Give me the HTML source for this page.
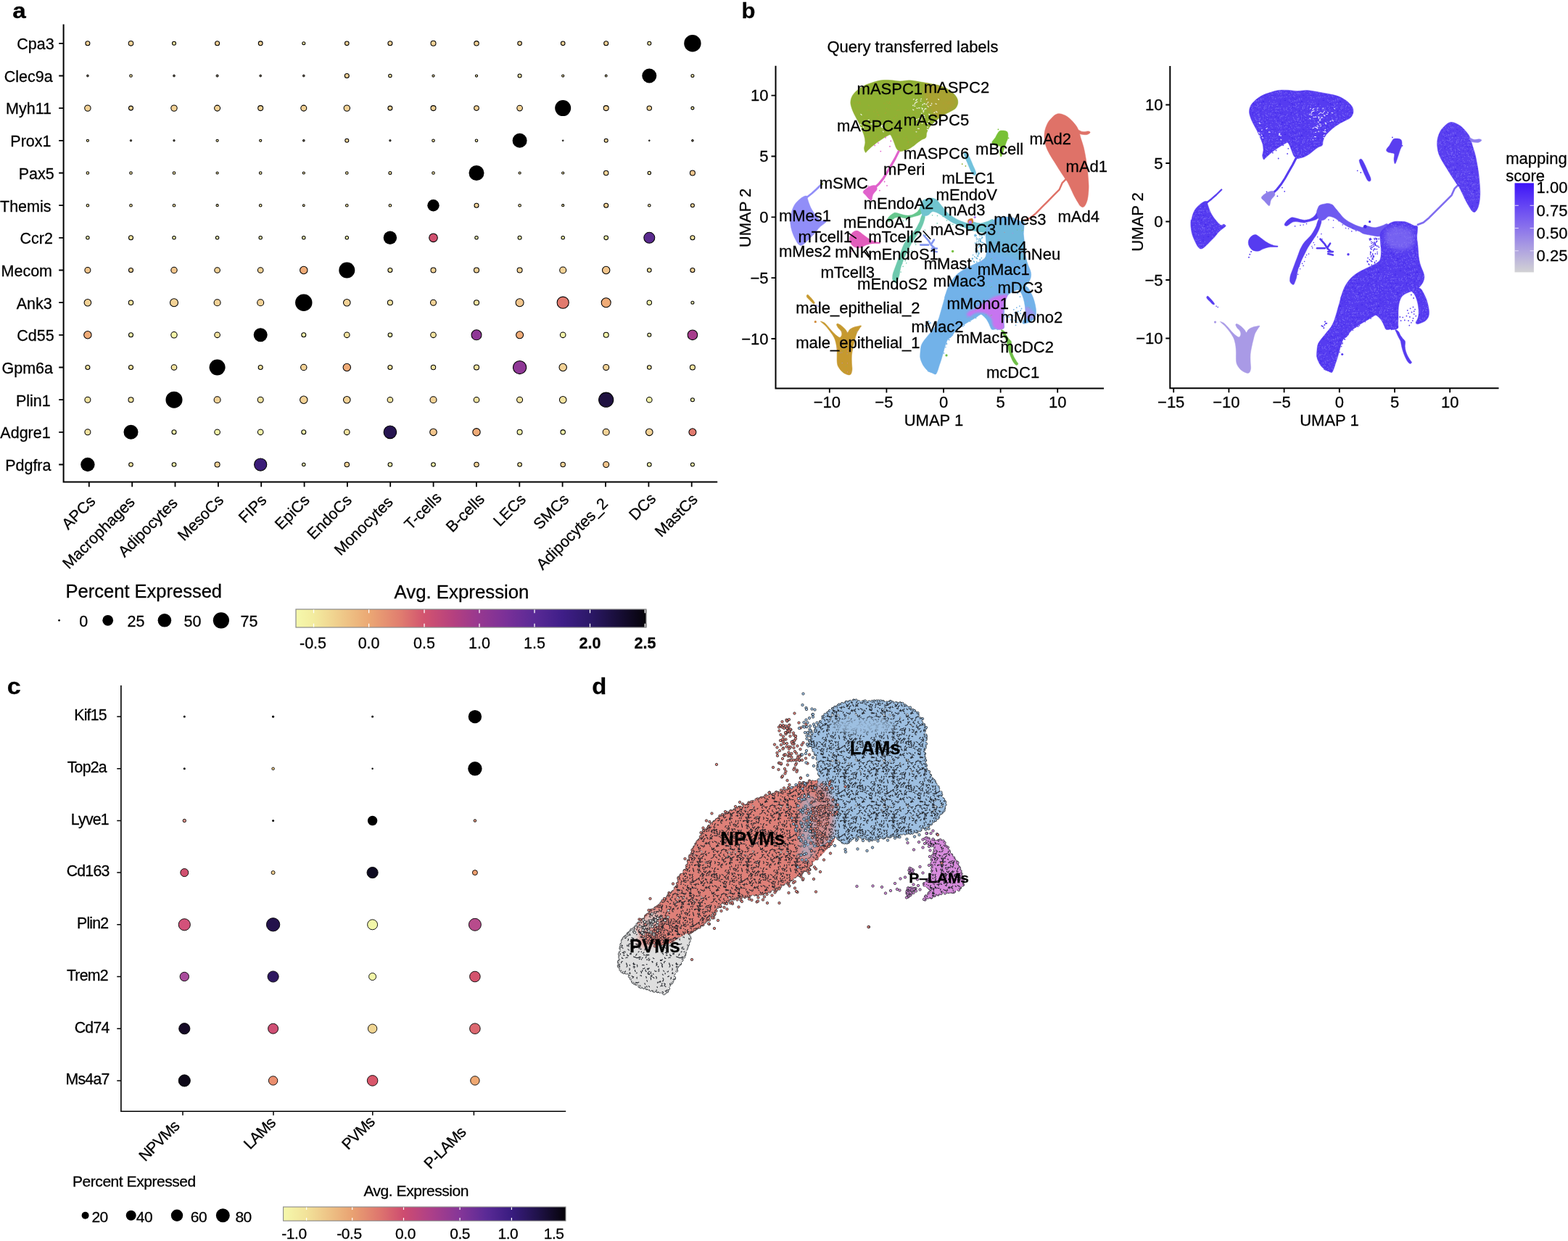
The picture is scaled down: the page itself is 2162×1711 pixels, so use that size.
<!DOCTYPE html>
<html lang="en"><head><meta charset="utf-8"><title>Figure</title>
<style>
html,body{margin:0;padding:0;background:#fff;}
body{width:2162px;height:1711px;overflow:hidden;}
svg{display:block;}
text{font-family:"Liberation Sans",sans-serif;fill:#000;stroke:#000;stroke-width:0.28px;}
.t21{font-size:21.5px;}
.t22{font-size:22px;}
.t25{font-size:25.8px;}
.t19c{font-size:21.3px;letter-spacing:-0.8px;}
.t20c{font-size:21px;letter-spacing:-0.45px;}
</style></head><body>
<svg width="2162" height="1711" viewBox="0 0 2162 1711">
<defs>

<linearGradient id="gradA" x1="0" x2="1" y1="0" y2="0">
<stop offset="0" stop-color="#F5F8AC"/><stop offset="0.05" stop-color="#F3EC9F"/><stop offset="0.208" stop-color="#EBA874"/>
<stop offset="0.30" stop-color="#E07C6F"/><stop offset="0.366" stop-color="#D2546F"/><stop offset="0.45" stop-color="#B5407F"/>
<stop offset="0.524" stop-color="#963890"/><stop offset="0.60" stop-color="#7A3098"/><stop offset="0.68" stop-color="#5A2A96"/>
<stop offset="0.76" stop-color="#3F1E88"/><stop offset="0.84" stop-color="#2C1868"/><stop offset="0.92" stop-color="#180E38"/><stop offset="1" stop-color="#050308"/>
</linearGradient>
<linearGradient id="gradC" x1="0" x2="1" y1="0" y2="0">
<stop offset="0" stop-color="#F5F8AC"/><stop offset="0.08" stop-color="#F2E39A"/><stop offset="0.244" stop-color="#E9A272"/>
<stop offset="0.34" stop-color="#DE766E"/><stop offset="0.426" stop-color="#CE4C70"/><stop offset="0.52" stop-color="#AE4088"/>
<stop offset="0.625" stop-color="#853698"/><stop offset="0.72" stop-color="#5A2A96"/><stop offset="0.808" stop-color="#391C80"/>
<stop offset="0.90" stop-color="#20124A"/><stop offset="1" stop-color="#050308"/>
</linearGradient>

<filter id="blur3" x="-20%" y="-20%" width="140%" height="140%"><feGaussianBlur stdDeviation="3"/></filter><filter id="blur2" x="-20%" y="-20%" width="140%" height="140%"><feGaussianBlur stdDeviation="1.6"/></filter><pattern id="spkBlue" width="53" height="47" patternUnits="userSpaceOnUse"><path d="M12.6 25.6h0M19.6 28.4h0M33.2 3.1h0M0.7 39.4h0M13.7 11h0M52.8 22.1h0M44.3 22.4h0M33.9 7.1h0M33.6 40.8h0M27.7 34.8h0M35.6 3h0M40.2 27.8h0M16 1.5h0M45.9 22.2h0M38.1 41.3h0M37.8 43.3h0M20.9 37.6h0M23.6 44h0M46.6 4.6h0M7.2 10.2h0M51.2 20.5h0M33.2 14.1h0M26.9 18.1h0M18.6 27.5h0M31 42.5h0M36.1 43.7h0M45.4 46.6h0M35.6 7.7h0M45.6 45.3h0M47.9 26.7h0M37.8 9.9h0M44.1 27h0M15.1 3h0M45.3 46.5h0M4.7 37.6h0M21.8 7.1h0M15.6 36.1h0M46.3 2.1h0M32.6 2.1h0M38.1 15.6h0M46.7 46.1h0M26.8 46.9h0M16.4 3.6h0M31.8 1.5h0M10.5 19.2h0M32.4 7.3h0M2.2 40.8h0M16.6 45.1h0M47.5 17.8h0M24.4 24.4h0M34.1 28h0M29.6 29.1h0M49.9 23.8h0M22.9 33.9h0M12.6 14.2h0M51.8 24.5h0M29.1 0.5h0M22 27.3h0M1.1 28.9h0M33.5 2.8h0M33.2 21.9h0M36 16.6h0M37.5 34.7h0M1.2 2.8h0M35.8 45.3h0M13.3 21.4h0M31.4 15h0M19.3 14.7h0M19.6 28h0M15.9 17.7h0M40.9 1.3h0M30.2 34.6h0M16.4 10.5h0M42.6 11.2h0M9.9 20.5h0M37 4.8h0M17.1 15.7h0M44.2 20.6h0M45.3 8h0M17.8 30.6h0M46.9 21.2h0M11.9 5.7h0M28.1 9h0M42.8 39.4h0M9.7 13.1h0M42.8 30.2h0M42.7 16.2h0M6.9 13.7h0M42.1 12.7h0M18.4 19.6h0M22.2 19.2h0M48.8 7.3h0M0.2 44.3h0M46.6 46.4h0M23 44.7h0M49.2 10.4h0M39.5 39.3h0M35.1 24.4h0M15.3 16h0M12.1 3.2h0M31.2 13.5h0M42.9 2.1h0M47.9 32.6h0M49 42.1h0M47.7 27.1h0M0.7 35h0M9.1 14.1h0M35.1 24.7h0M21.9 44.1h0M32.4 16h0M13.4 40.5h0M25.3 36.8h0M18.6 9.3h0M28.3 38.4h0M9.1 37.2h0M48.9 37.9h0M43.6 0.4h0M33.3 40.5h0M2.6 12.8h0M14.2 24.8h0M22.4 22.2h0M41.2 0.1h0M2.9 6h0M6.6 3.2h0M51.7 40.2h0M4.6 23.6h0M16.7 14.8h0M18.6 30.4h0M31.1 17h0M10.1 15.5h0M6.6 26.1h0M38 17.9h0M4.2 8.4h0M19.8 28.4h0M41.5 17.9h0M42.5 29.3h0M22.9 17.5h0M26.3 33h0M22.3 32.6h0M24.4 11.5h0M28.4 32.7h0M3.8 20h0M22.6 41.3h0M49.6 17.6h0M47.6 37.2h0M13.9 21.8h0M6.5 38.2h0M35.1 41.7h0M42 31.4h0M38.9 26.5h0" stroke="#3014E8" stroke-width="1.3" stroke-linecap="round" fill="none" opacity="0.55"/><path d="M5.5 27.6h0M0.3 6.7h0M41 2.1h0M4.9 4.7h0M46.7 8.4h0M1.2 39.6h0M6.4 39.7h0M35.7 39.3h0M50.5 27.2h0M42.3 1.7h0M40.7 24h0M37.9 5h0M39.7 43.9h0M3.2 15.2h0M29.9 38.9h0M12.8 8.4h0M13.2 29h0M39.9 18.5h0M19.5 18.6h0M18.6 19.7h0M4.4 23.5h0M51.6 19.4h0M39.6 7.5h0M36.6 35.5h0M35.7 24.3h0M25.6 30.2h0M47.6 7h0M5.1 35.2h0M48.6 24.3h0M23.5 33.8h0M9.9 12.6h0M10.6 27.5h0M16.7 10.9h0M36.6 44.8h0M15.7 33.2h0M21.9 40.1h0M31 12.6h0M11.5 1.1h0M25.4 18h0M9.1 16.9h0M17.1 36.4h0M7.6 46.6h0M25.4 28.2h0M24.8 39.2h0M43.5 26.2h0M25.5 33.9h0M45.4 18.8h0M38.9 45.1h0M24.8 10.8h0M12.4 33.7h0M35.8 45.1h0M45.3 11.4h0M10.1 12.2h0M9.9 33.1h0M45.5 42.3h0M13.5 40.7h0M16.6 19.9h0M38.6 4h0M4.9 39.2h0M15.5 16.8h0M30.8 31.7h0M0.4 15.7h0M23.1 22.8h0M11.1 27.5h0M50.6 18.4h0M28.9 5.6h0M14.6 31.3h0M6 41.7h0M48.2 4.6h0M49.9 17.6h0M40.9 35.6h0M15.7 31.8h0M34.7 37.9h0M14.1 35.4h0M51 31.6h0M28.4 5.3h0M26.2 16.6h0M38.1 31.9h0M30 8.6h0M34.2 29.7h0M9.5 41.8h0M34.7 5.8h0M49.4 6.6h0M17.6 33.9h0M31.7 26.1h0M34.3 21.5h0M16.6 8.3h0M3.6 33.6h0M40 25.5h0M39.2 16.9h0M14.1 18h0M46.2 2h0M26.7 11.6h0M40.8 16.6h0M17.6 19h0M28.7 36.3h0M18.7 39.8h0M5.9 12.7h0M5.3 5.3h0M41.3 34.2h0M9.8 8.9h0M22.1 34.9h0M43.2 35.2h0M31.4 6.9h0M21.1 9.1h0M28 26.7h0M10.7 11.8h0M41.4 1.4h0M42.6 41.9h0M50.3 18h0M29.3 27.4h0M33.6 45.9h0M36.4 14.1h0M45.6 22.8h0M31.9 34.2h0M0.1 36.2h0M35.1 23.1h0M27.8 21.6h0M10.3 24.9h0M2 23.5h0M34.2 20.9h0M30 45.1h0M47.3 6.4h0M42 29.3h0M2.7 16.9h0M12.4 3.7h0M28.6 43.7h0M17.1 40.9h0M36.8 6.3h0M45.5 28.3h0M49.1 33.6h0M39.2 16.1h0M42.8 43.8h0M45.7 20.5h0M40.1 22.8h0M5.8 2h0M4.1 9.4h0M8.5 23.4h0M37.1 25.3h0M22.4 30.5h0M16.1 21.8h0M40.1 18.9h0M9.6 42.3h0M38.1 17.2h0M19.7 24.9h0M31.6 10.5h0M0.1 9.8h0M41.5 6.7h0M24.4 9.2h0M11.1 8h0M21.4 7.9h0M1.5 5.2h0M8.9 23h0M3.2 1.1h0M23.7 19.2h0M37.3 2.4h0M21.4 18.6h0M1.4 45.4h0M11.6 4.4h0M25.2 7.7h0M33 16.3h0M6.6 2.4h0M38.6 12.9h0M41.8 21.9h0M49.4 14.1h0M13.2 12.5h0M43.2 29.6h0M18.3 4.4h0M36.2 45.6h0M31.4 0.2h0M1.6 4.3h0M9 1.7h0M2.9 30.8h0M47.7 9.4h0M51.6 22.4h0M42.6 43.1h0M49.8 1.6h0M16.2 28.5h0M50.2 4.1h0M15.6 39.9h0M6.1 18.3h0M17.7 32h0M49.2 8.2h0M39.2 34.5h0M44.3 26h0M48.9 17.1h0M22 10.8h0M41.3 22.6h0M14.3 8h0M38.2 28.5h0" stroke="#8C7CF8" stroke-width="1.4" stroke-linecap="round" fill="none" opacity="0.65"/></pattern><pattern id="spkOr" width="41" height="37" patternUnits="userSpaceOnUse"><path d="M9.7 3.8h0M16.2 5.7h0M2.7 14.9h0M37.6 29.6h0M31.4 8.2h0M22 10.2h0M7.1 3.9h0M8.8 34.3h0M34 29.8h0M32.8 7.2h0M12.7 23.2h0M30 31.6h0M36.1 3.2h0M24.8 24.9h0M20.7 6.6h0M19.4 3.3h0M38.3 32h0M22.5 11.1h0M37.3 21.2h0M36.2 31.4h0M20.8 15.3h0M24.6 15.9h0M6.6 11.3h0M33.3 1.6h0M1.9 23.2h0M11.5 19.8h0" stroke="#D08A30" stroke-width="1.1" stroke-linecap="round" fill="none" opacity="0.55"/></pattern><pattern id="spkMac" width="43" height="39" patternUnits="userSpaceOnUse"><path d="M26.8 28.9h0M34.2 36.8h0M31.8 36h0M1.2 18.2h0M40.6 25.3h0M38.7 4.4h0M20.2 9.6h0M23.4 22.4h0M0.6 8.5h0M12 35.7h0" stroke="#D070E0" stroke-width="1.1" stroke-linecap="round" fill="none" opacity="0.7"/><path d="M32.9 6.2h0M34.3 5.4h0M26.6 4.9h0M0.1 34h0" stroke="#70C060" stroke-width="1.1" stroke-linecap="round" fill="none" opacity="0.7"/><path d="M9 8.4h0M42.2 34h0M12.4 37.5h0" stroke="#E08070" stroke-width="1.1" stroke-linecap="round" fill="none" opacity="0.7"/></pattern><pattern id="spkEpi" width="23" height="29" patternUnits="userSpaceOnUse"><path d="M18.2 23.8h0M11.2 7.6h0M0 19.2h0M10.8 22h0M8.6 22.3h0" stroke="#9C90F0" stroke-width="1.1" stroke-linecap="round" fill="none" opacity="0.8"/><path d="M6.3 23.3h0M16.8 12h0M12.4 19.8h0" stroke="#70C060" stroke-width="1.1" stroke-linecap="round" fill="none" opacity="0.8"/><path d="M4.4 16.1h0M18.5 7.7h0M18.5 19.9h0" stroke="#E080C0" stroke-width="1.1" stroke-linecap="round" fill="none" opacity="0.8"/></pattern><clipPath id="clipEpiL"><path d="M1131.3 443.1C1131.1 442.5 1134.9 443.8 1136.7 445C1138.4 446.3 1140.2 448.5 1142 450.4C1143.8 452.4 1145.6 454.7 1147.4 456.7C1149.1 458.6 1150.9 460.6 1152.7 462.1C1154.5 463.5 1156.7 465.4 1158.1 465.3C1159.4 465.2 1160.5 462.8 1160.7 461.3C1161 459.7 1160.3 457.6 1159.4 456.1C1158.6 454.6 1156.6 453.5 1155.7 452.1C1154.7 450.6 1153.5 448.4 1153.5 447.5C1153.5 446.5 1154.5 446.1 1155.7 446.4C1156.9 446.7 1159 448 1160.7 449.4C1162.5 450.8 1164.8 453.2 1166.1 454.8C1167.4 456.3 1167.9 458.6 1168.8 458.5C1169.7 458.5 1170.1 455.7 1171.4 454.5C1172.8 453.3 1175 452 1176.8 451.3C1178.6 450.5 1180.4 450.3 1182.2 449.9C1183.9 449.5 1187 448.5 1187.5 449.1C1188 449.6 1186.2 451.3 1185.1 453.1C1184 454.9 1182.2 457.2 1181.1 459.9C1180 462.6 1179.2 466.2 1178.4 469.4C1177.6 472.5 1176.9 475.4 1176.3 478.8C1175.6 482.2 1174.7 486 1174.4 489.6C1174.1 493.2 1174.3 497.1 1174.4 500.4C1174.5 503.8 1175.2 507.3 1174.9 509.9C1174.7 512.5 1174 514.7 1173.1 515.9C1172.1 517 1170.8 517.1 1169 516.7C1167.3 516.3 1164.4 515 1162.3 513.4C1160.3 511.9 1158.3 509.6 1157 507.5C1155.7 505.3 1154.8 504.3 1154.3 500.4C1153.8 496.6 1154.3 488.7 1154.1 484.2C1153.8 479.7 1153.4 476.6 1152.7 473.4C1152 470.3 1151.4 468 1150 465.3C1148.7 462.6 1146.7 459.9 1144.7 457.2C1142.7 454.5 1140.2 451.4 1138 449.1C1135.8 446.7 1131.5 443.8 1131.3 443.1Z"/></clipPath><linearGradient id="gradM" x1="0" x2="0" y1="0" y2="1"><stop offset="0" stop-color="#3D14F8"/><stop offset="0.25" stop-color="#6444F4"/><stop offset="0.5" stop-color="#8A72EC"/><stop offset="0.75" stop-color="#AFA3E0"/><stop offset="1" stop-color="#D2D2D4"/></linearGradient>
<marker id="mL" markerWidth="9" markerHeight="9" refX="4.5" refY="4.5" markerUnits="userSpaceOnUse" overflow="visible"><circle cx="4.5" cy="4.5" r="3.45" fill="#9DBFE1" stroke="#1d2126" stroke-width="1.45"/></marker><marker id="mN" markerWidth="9" markerHeight="9" refX="4.5" refY="4.5" markerUnits="userSpaceOnUse" overflow="visible"><circle cx="4.5" cy="4.5" r="3.45" fill="#DF8078" stroke="#1d2126" stroke-width="1.45"/></marker><marker id="mP" markerWidth="9" markerHeight="9" refX="4.5" refY="4.5" markerUnits="userSpaceOnUse" overflow="visible"><circle cx="4.5" cy="4.5" r="3.45" fill="#DEDEDE" stroke="#1d2126" stroke-width="1.45"/></marker><marker id="mV" markerWidth="9" markerHeight="9" refX="4.5" refY="4.5" markerUnits="userSpaceOnUse" overflow="visible"><circle cx="4.5" cy="4.5" r="3.45" fill="#D88CDD" stroke="#1d2126" stroke-width="1.45"/></marker><pattern id="arcD" width="67" height="61" patternUnits="userSpaceOnUse"><path d="M30.3 34.1Q31.6 34.3 32.2 33.2M34.3 38.4Q34.1 37.7 34.6 37.2M36.1 54.3Q34.2 54.4 34.5 52.5M43.8 37.5Q43.9 38.1 44.4 38.4M12.7 14.8Q14 14 14.8 15.2M13.1 14.3Q12.5 14.6 12.8 15.2M18.6 60.9Q20.1 59.7 21.7 60.8M15.4 17.6Q17 17.5 18 18.8M19.5 4.1Q20.7 5.1 22.1 4.4M61 28.7Q62.1 29.4 62.9 28.4M13.3 41.2Q12 41.4 12.4 42.7M50.8 7.2Q50.3 7.8 50.8 8.4M32.6 41.6Q32.2 43 33.5 43.7M25.7 24.1Q26.2 23.5 26.7 24M1.3 11.4Q2.6 12 3.8 11.4M9.8 26.9Q11.1 26.1 12.3 27.1M5 12.7Q4.3 12.6 4.3 11.9M30.4 58.5Q29.3 59.4 28 58.8M10.3 55.4Q11.1 54.9 11 54M42.1 33.8Q40.9 33.2 41.4 32M28.2 6.3Q29.4 8.4 31.5 7.1M26.2 25.7Q27.8 26.1 28 24.4M65.5 7.7Q64.1 7 62.9 8M61.5 12.4Q62.3 12 63.1 12.6M3.1 17.2Q1.7 15.6 -0.2 16.6M59.7 59.8Q60 58 58.2 57.6M61.9 29Q61 29.4 60.8 30.3M42.6 29.4Q43 28.5 42.4 27.7M36.6 45Q38.6 45.3 38.8 43.3M61.3 21.5Q59 20.7 60.1 18.6M2 30.5Q3.4 29.4 4.6 30.7M40.8 4.9Q38.4 4.7 38.6 2.3M26 44.8Q25.6 43.6 24.2 43.8M34.5 18.9Q34.7 19.6 35.4 19.5M41.2 56.1Q41.5 56.7 41.1 57.2M41 31.6Q40.2 30.7 41 29.8M16.2 24.7Q14.8 25.9 16.2 27.2M25.8 35.6Q25.9 36.4 25.2 36.8M60 2.5Q61.2 4 63.1 3.8M31.6 56.5Q31.2 55.2 32.5 54.8M48 51.4Q47.8 50.3 46.7 50.1M40.7 41.4Q39.7 42.1 40.3 43.2M27.1 11.6Q28.1 10.9 27.3 10M65.9 7Q67.7 6.7 67.7 8.5M45.9 12.2Q45 11.5 44.4 12.4M35.8 2.2Q34.9 3.8 36.3 5M53.1 55.3Q54.9 55.3 55.8 57M30.4 38.2Q30.8 37 32 37.1M43.6 12.5Q44.3 10.9 43.1 9.6M60.3 59.8Q61.3 58.9 62.6 59.5M48.1 1Q47.6 1.4 47 0.9M51.5 29.7Q52.7 31.2 54.4 30.3M2.4 32.5Q0.8 31.4 1.1 29.6M34.6 44.1Q34.3 42.4 36 41.9M46.2 46.2Q44.7 45.7 44 47.1M56.5 34.2Q55.5 34.8 55.8 35.9M9.5 33.2Q10.2 34.5 9.1 35.4M33.7 36.9Q35.6 35.8 37 37.5M66.3 7.4Q67.2 7.4 67.5 8.2M64.1 56.3Q63.2 57.3 63.9 58.4M60.4 57.1Q61.7 57.2 62.3 56M41.4 56.4Q41.8 58 43.4 58.5M10.4 0.7Q8.9 1.8 9.8 3.4M7 44.6Q8.6 44.6 8.6 46.1M47 53.6Q48.1 54.9 49.5 54M57.9 32.6Q57.5 33.4 58.2 34.1M49.6 49.4Q49.8 48.1 51.1 48.4M13 47.5Q12.9 48.2 13.5 48.6M5.9 23.7Q4 23.4 2.9 25M42.1 48.7Q43.8 48.3 44 50.1M64.9 7Q63.5 5.5 62.1 6.9M32.3 1.5Q31.6 0.2 32.5 -1M12.4 12.4Q14.6 11.8 14.2 9.6M9 41.5Q9.8 41.4 10.1 42.1M34.5 26.2Q34.4 25.5 33.7 25.6M12.1 27.7Q13 26.6 12 25.7M6.4 48.3Q6.6 49.1 5.8 49.4M12.8 35.7Q13.4 37.7 11.3 38M49.9 47.5Q49.3 46.1 50.7 45.6M46.6 46.8Q47.2 45.9 46.7 44.8M22.9 28.6Q23.8 29.3 24.7 28.7M63.3 40.6Q61.7 41.1 61.9 42.8M26.1 61Q24 60.9 24.4 58.9M1.5 37.5Q0.8 36.8 1.4 35.9M51 39.5Q51.9 38.7 52.6 39.6M36.9 31Q38.2 31.8 39.2 30.5M54.2 4.6Q53.7 2.9 51.9 3M62.9 23.5Q64.6 24.5 65.9 23M33.1 17.4Q32.9 18.5 31.7 18.4M18.1 56.7Q18 55.1 16.6 54.3M16.4 2.6Q17.8 3.4 18 4.9M21.1 24.3Q19.6 24.2 18.7 22.9M60.7 26.2Q58.9 25.6 57.4 26.7M6.6 49.4Q7.5 49.6 7.7 48.7M7.7 38.1Q6.8 37.7 6.3 38.5M10.4 22.2Q11.7 22.3 11.6 23.7M45.7 22.2Q47.4 20.7 45.6 19.3M49.2 14.5Q51.1 14.8 51.6 16.6M40.9 44.2Q39.9 43.8 40.4 42.8M12.7 15.2Q14.5 16.5 15.9 14.8M0.6 15.8Q1.1 16.4 1.7 16M4.9 5.3Q3.5 4.7 3.8 3.2M23.7 20.6Q23 20 22.4 20.7M30 50.1Q29.8 48.3 31.5 47.7M17.3 49.4Q17.1 51 15.5 51.3M50.9 50.4Q50.4 52 51.9 52.7M21.7 33.2Q21 34.4 19.6 34.1M52 4.6Q51 6.2 52.6 7.2M33.1 46.6Q31.4 47.4 31.7 49.4M48.6 22.4Q50.4 22.5 50.6 24.2M53.8 18.6Q52.9 19.3 53 20.4M55.5 1.5Q56.1 -0.1 54.4 -0.7M24.7 23.8Q24.7 25.2 26 25.8M50.8 53.7Q50.3 54.2 50.6 54.8M38 59Q38.2 57 36.3 56.6M20.5 33.3Q19.2 33.5 19.6 34.7M5.7 38.7Q7.3 39.2 7.4 40.9M14.8 46.7Q13.2 47.5 12 46.3M54.1 20.3Q54 21.8 55.5 22M61.3 25Q63.1 24.5 62.5 22.7M55.9 54.2Q56.8 52.7 58.3 53.5M53.8 25.7Q52.8 25.3 52.6 26.4M25.2 10.2Q26.1 11 25.7 12.2M59.4 28.8Q60.2 27.8 59.2 27M12 3.8Q10.6 3.3 9.7 4.4M13.2 21.9Q11.6 22.2 11.2 20.6M15 11.3Q15.5 12.1 14.7 12.7M63.1 33.6Q62.8 32 64.4 31.9M22.9 33.4Q24.2 33.9 25 32.8M14.6 8.2Q13.4 6.1 15.6 5M3.9 56.4Q4.3 54.4 6.3 54.4M16.5 25.7Q16.8 24.6 17.9 24.3M60.8 49.4Q62.7 49.6 62.7 51.5M3.5 34.9Q3.2 35.9 4.2 36.2M5.5 16.5Q4.8 16 5.3 15.3M5.6 45.7Q4.8 44.2 3.4 45.1M27.9 55.9Q28.8 57.4 30.4 57.5M27.7 30.1Q28.9 28.5 30.8 29.1M5.1 18.6Q3.9 19.7 2.4 19.2M9.4 40.7Q10 38.9 8.2 38.2M0.8 23Q1.3 22.1 0.4 21.5M0.7 60.5Q1.4 59.9 1.2 59.1M25.2 32.9Q25.7 34 24.7 34.7M5.8 11.5Q5.9 12.5 4.9 12.4M37.7 44.2Q36.2 45 36.2 46.8M41.7 8Q41.6 7.1 40.7 7M56.1 36.2Q56.2 37.3 57.4 37M29.1 47Q27.1 47.5 27.4 49.5M51.4 50.1Q51.3 51.3 50 51.3M48.7 37.4Q46.8 38.1 47.5 40M40.8 1.1Q40.8 2.2 39.9 2.7M25.3 31.1Q26.6 29.9 26 28.2M36.1 18.2Q35.1 19.5 36.4 20.7M13.3 56.9Q14.6 58.1 16 56.9M1.8 40.2Q1.3 39.5 2 38.9M46.7 20.1Q47.1 18.7 48.4 19.3M30.3 44.5Q29.3 45.8 30.5 46.9M17.7 55.5Q19.2 56.3 20.7 55.3M55.3 17.6Q55.4 16.4 56.5 16.7M12.4 33.4Q12.7 34.2 13.4 33.9M62.3 60.9Q64.2 61.2 64.1 63.1M42.9 46.6Q42.9 47.7 44 48.2M25.9 34.7Q27.1 35.4 26.9 36.7M62.4 3.3Q63.8 2.2 63 0.6M33.3 6.3Q33.8 8.5 31.6 8.9M32.5 60.7Q32 58.5 34.2 58.1M7.9 7Q8.4 6 9.5 6.3M1.6 55.3Q2.5 56.9 0.9 57.7M40 45.9Q38.9 46.7 39.2 48.1M56.6 14.8Q56.6 12.4 58.9 12.4M35.3 14.6Q33.9 15.1 34.6 16.4M67 44.6Q67 43.3 68.3 43.2M11 39.6Q10.3 39.6 9.9 40.2M53.1 7.6Q51.8 6 49.9 6.8M48.8 1.5Q50.2 1.8 49.8 3.3M26.6 21.7Q26.4 21.1 25.7 21.2M21 19.8Q23.2 19.9 22.8 22M13.6 52.4Q12.8 52.1 13.2 51.3M23.7 28.8Q23.3 30.8 25.2 31.6M15.8 57.9Q16.9 56.5 18.4 57.5M21 54.9Q22.6 54.6 22.8 52.9M64.1 47.5Q63.7 48.2 62.9 48.2M46.3 16.4Q45 15.5 45.9 14.2M25 40.4Q26.8 40.6 26.8 38.8M60 11Q59.6 11.7 60.2 12.3M5.1 55.9Q5.9 58 8 57.4M19.1 15.3Q18.6 14.5 19.5 14.2M12.7 10.9Q13.3 10.3 12.6 9.9M2.3 28.2Q1.7 27.2 2.3 26.2M4.3 47.4Q4.5 46.1 5.8 46.4M34.6 30.8Q36.4 30.4 36.1 28.7M51.7 6.8Q51 8.6 49.3 7.9M53 14.4Q52.3 15 51.5 14.5M13.6 59.2Q14.3 60.3 15.5 59.9M40.8 37.1Q40 35.7 41.5 35M2.1 7Q1.6 8.6 3.2 9.3M3.6 25.9Q1.7 25.1 2.6 23.2M33.4 39.7Q32.5 39 31.5 39.5M46.3 50.7Q45.9 50 46.5 49.6M46.8 42.9Q47.5 43.1 48.1 42.6M30.5 45.4Q31.2 46.1 32 45.8M37.3 28.8Q39.3 29.2 40.3 27.5M8 52.2Q7.2 52.1 6.9 52.8M22.6 59.9Q21.8 59.9 21.7 59.2M66.6 45Q65.7 43.1 63.7 43.7M26.3 51.4Q24.5 51.6 24.2 53.4M16.5 48.4Q16.2 47.1 17.2 46.4M31.3 18.8Q29.1 17.6 28.1 19.9M13.7 23.4Q15.6 22.6 16.1 24.5M41.6 31.7Q42.3 30.5 41.5 29.4M24.2 9.4Q25.4 9.9 25.9 8.6M60.8 1.2Q59.4 1.6 59.9 3M25.6 15.6Q25.8 14 27.4 13.8M16 2.5Q16 3.9 17.4 4.5M27.5 29.2Q26.4 28.4 26.7 27.1M30.3 23Q30.6 21.1 32.5 20.9M25.9 52.8Q26.8 53.5 26.2 54.5M9.4 51.7Q10.5 50.6 9.4 49.6M65.4 18.2Q65.9 16.1 63.8 15.4M23.7 7.4Q23.3 6.4 24 5.6M28.7 23.9Q29.8 23.7 30.4 24.6M47.1 13.5Q48 13.7 48.4 12.8M47.7 31.7Q49 30.1 47.6 28.6M17.2 52Q17.5 53.9 16.1 55M60.9 55.7Q61.6 56.7 60.7 57.5M21.8 15.5Q22.8 14.8 23.6 15.7M17.5 40.8Q19.1 41.2 18.4 42.7M24.3 35.1Q26.1 35.9 27 34.1M27.5 25.3Q28.4 27 27 28.3M60.9 2.3Q62.4 2.5 62.4 4M31.7 1.3Q30.5 1.4 30.4 0.3M15.7 0.1Q15 -1 13.8 -0.5M56.9 46.7Q58.7 46.5 59.5 48.1M7 1.2Q6.5 0.2 7.5 -0.2M64.6 50.3Q66.4 50.6 65.9 52.4M19.7 25.3Q19.4 26.8 17.9 27.2M16.7 19.8Q16.1 21.4 17.7 21.8M66.3 49.9Q66.4 48.7 67.6 48.7M45.5 2.5Q44.4 2.2 44.1 1.1M17 31Q16.6 29.8 17.6 29.1M45.8 11.2Q46.7 11 46.7 10M28.2 43.1Q27.7 41.4 26 41M25.3 40.8Q24.7 41.6 25.4 42.3M46.5 48.2Q46.9 47.3 48 47.5M42.3 24.2Q44.3 24.5 45.4 22.8M66.8 53.1Q66.5 54.2 67.5 54.9M60.6 50.8Q61.4 50.6 61.5 49.7M53.6 51.2Q54.4 52.3 53.2 53.1M65.7 23.8Q66.2 22.3 64.9 21.6M55.9 33.9Q56.6 32.3 58.3 32M21.7 1.2Q20.9 1.3 20.5 0.6M15.2 29.4Q14.3 29.7 14.2 30.6M0.5 46.4Q-0.1 46.2 -0 45.5M66.8 12.3Q66.9 11 68.3 10.7M37.5 34Q38.6 35 38 36.4M62.9 52.7Q64 53.3 65 52.7M1.8 10.3Q2.4 10.5 2.7 11.1M37.2 3.8Q35.3 2.4 34.2 4.5M0.7 32.2Q0.2 30.4 1.8 29.5M53.8 50.5Q55.9 49 54.2 47.1M32.3 51.2Q30.5 51.4 29.6 53M9.4 19.7Q8.1 18.8 9.1 17.6M24.4 38.9Q24.5 40 23.4 40.2M17.7 13Q17.5 13.7 18.2 14M45.6 10.8Q46.4 10.9 46.6 11.6M1.5 24.4Q2 24.9 2.6 24.8M11.7 4.1Q10.2 4.2 9.7 2.8M64.5 13.4Q62.6 12.9 62.2 14.9M4.7 23.8Q5.4 21.9 7.4 22.3M0.7 44.5Q0.7 42.6 -1 41.8M41.3 54.1Q42.6 53.6 42.8 52.2M49.5 45.4Q48.9 46.6 47.5 46.2M25.2 33Q27 32.2 28.2 33.9M39.8 36.3Q40.2 35.5 41 35.7M17.2 38Q18.1 38.8 18 40M64.9 45.9Q65.8 46.1 65.9 45.2M43.5 57.2Q42.7 55.1 44.9 54.6M4.3 53.1Q3.5 52.5 4 51.5M35.9 52.8Q35.8 53.7 36.5 54.4M37.2 48Q36.4 48.9 35.6 48.1M51.6 33.5Q53.7 34 54.1 31.9M12 20.4Q14.2 21.3 14.9 18.9M7.9 11.1Q7.8 13.4 5.5 13M4.8 60.3Q4.1 61.8 5.5 62.7M66.6 23.1Q66 21.3 67.7 20.6M14 12.8Q13.7 12 14.1 11.4M18.6 15.8Q18.6 17.3 17.3 17.8M66.7 42.2Q65.6 41.3 66.5 40.3M13.4 4.4Q14 5.4 13.2 6.2M9 7.5Q10.3 7.6 10.8 8.8M38.8 17.4Q40 17.3 40 16.2M30.5 57Q28.7 57 28.4 58.8M4.3 25.6Q4.8 26.7 3.9 27.6M46.6 41Q45.7 42 46.6 43M58 23.7Q57.4 24.2 57.8 24.9M6.7 54.7Q7.7 54.8 8.3 55.7M39.5 42.5Q41.1 43.9 42.5 42.3M10.4 4.4Q11.9 4.9 11.5 6.4M40.6 59.2Q42 57.6 43.9 58.7M15.4 33Q16.2 33 16.3 33.7" stroke="#1c2026" stroke-width="1.1" stroke-linecap="round" fill="none" opacity="0.95"/></pattern><pattern id="arcS" width="59" height="53" patternUnits="userSpaceOnUse"><path d="M28 34.8Q28.3 33.9 27.4 33.7M28.5 34.1Q26.8 33.3 25.8 34.8M39 7.7Q38.3 7.6 37.8 8.2M48.3 4Q47.2 3.5 47.7 2.4M5.2 48.7Q6.2 47.9 6.1 46.6M58.2 50.2Q58.4 51.4 59.6 51.4M52 29.6Q53.6 30.5 54.8 29.2M4.9 32.2Q3.7 31.8 4 30.5M37.8 4.4Q39.2 5.2 38.7 6.8M21.4 36.6Q21.5 35.8 20.9 35.5M21.9 30.4Q21.2 29.6 22 29M25.4 27.5Q26.1 28.3 25.7 29.3M35.8 39.9Q36.2 40.4 36 41.1M16.3 18.2Q15.6 18.1 15.6 17.4M20 24.1Q21.1 22.3 19.2 21.6M9.9 49Q8.8 49 9 50M0.4 14.2Q1.4 13.5 0.6 12.5M29.6 13.1Q29.9 14 30.9 14.3M19 41.7Q20.6 41.3 20.1 39.7M29.6 26Q30 27.7 28.2 27.8M9.6 15.4Q9.6 14.3 10.7 14.3M12.6 15.1Q11.9 16.3 12.6 17.5M52.3 22.3Q51.5 23.3 52.4 24.1M36.9 48.8Q37.8 47.5 39.3 48.2M5.5 21.5Q6.8 22.1 6.1 23.5M22.7 8.5Q23.1 7.7 22.2 7.3M53 48.3Q51.4 49.3 50.4 47.7M41.9 10Q42.9 11.5 41.6 12.6M7.4 28.3Q7.6 27.3 6.8 26.6M21 4.4Q21.1 5.8 19.8 6.4M10.6 36Q10.4 34.9 9.4 34.5M28.8 23.5Q30.1 24.2 29.8 25.6M52.2 5.1Q53.4 6.4 52.6 8M11.9 22.9Q13 24.2 12.4 25.7M27.4 32.1Q27.2 31.1 28.2 30.9M2.9 40.9Q2.5 42.5 0.9 42.2M26 2.8Q27.3 2.8 27.6 4.1M43.2 17.1Q42.3 17.6 41.5 17.1M28.1 42.4Q29.6 42.5 29.5 43.9M16.9 49.6Q15.8 49.5 15.4 48.6M15.3 1.7Q13.7 1.2 13.9 -0.4M36.5 13.9Q36.3 15.3 35 14.9M48.1 9.7Q49.9 8.8 48.7 7.1M30.8 2.8Q30.1 0.8 32.2 0.4M54 40.9Q55.1 40.7 55 39.6M50.7 29.4Q51.8 30.6 53.2 30.1M42.2 15.7Q43 16.1 42.7 17M1.3 48.3Q0 48.5 -0 49.8M31.1 34.5Q30.7 33.3 31.8 32.6M37.4 20.6Q36.8 21.6 35.7 21.6M9.1 40.1Q9.1 40.9 8.3 41M56.8 19.9Q58.4 19.8 59.3 21.1M6.4 4.5Q6.8 4.9 7.3 4.8M40.5 29.9Q42.1 30.4 42.7 28.8M34.6 42.6Q33.4 42.4 33.3 41.2M32 16.7Q32.8 17.3 32.1 17.9M58.2 40.6Q58.8 39.7 59.8 39.9M28.6 7.2Q28 7.8 28.4 8.6M43.1 43.8Q42.3 42.9 43.2 42.1M52 43Q51.9 44.6 50.5 45.3M20.1 14.1Q18.4 14.9 17.7 13.1M14.9 22.2Q16.3 22.3 16.9 23.7M32.3 31.6Q31.2 31.8 30.8 30.8M53.5 48.6Q54.8 48.8 55.6 47.8M23.6 10.9Q24.1 12.1 22.8 12.4M8.4 17.8Q9.6 18.7 10.7 17.7M38.2 3.9Q37.6 3.5 37.6 2.8M28.6 4.8Q27.3 5.7 27.7 7.2M49.6 12.4Q49 13.8 50.4 14.5M28.3 50.8Q27.2 52.3 25.5 51.6M22.9 14.5Q23.2 13.6 24.1 13.7M39.1 32.7Q38.4 31.9 38.7 31M4.4 35.5Q5.4 37 3.8 37.8M8.9 44.3Q8.5 45.3 7.5 45.1M49 7.5Q47.9 7.2 47.1 8.1M7.2 44.1Q5.7 43.9 5.7 45.4M8.6 12.1Q8.4 10.1 10.4 9.9M7.4 11Q8.1 10.7 8.1 10M31.5 48Q31.5 49.8 33.2 49.5M33.5 44.9Q34.5 44.6 35 45.4M49.7 4.5Q47.9 5.3 46.9 3.7M49.7 47.5Q48.4 48 47.7 46.9M8.3 17.8Q10 17 10.5 18.8M13 21.6Q14.6 20.8 13.7 19.2M40 46.1Q38.9 45.7 38.9 44.7M38.6 43.7Q38.8 45.5 40.6 45.5M7.9 51.2Q7.1 51.9 6.6 50.9M13.2 21.3Q12.1 21.1 12.3 20M44.3 43.7Q43.8 42.9 44.4 42.1M56.3 49.4Q56.3 50.4 55.3 50.6M21 2.1Q19.6 3.1 20.1 4.7M51.4 16.7Q51.8 16.1 52.5 16.3M32.2 41.4Q34.3 41.9 34.3 39.7M3.9 9.3Q3.4 11.3 1.5 10.4M46 23.2Q47.1 23.4 47.4 22.3M58.3 16.7Q59 14.9 57.2 14.1M48.7 35.4Q47.4 34.4 46.1 35.6M39.7 24.8Q41.2 23.8 40.1 22.4M40 31.3Q41.5 31.6 40.9 33M6.8 34.5Q6.4 35.3 7.1 35.9M58.3 36.3Q57.2 37.2 56.4 36.1M10 44.8Q9.5 44.2 8.7 44.2M41.4 38.3Q41.1 37 39.7 36.7M43.1 25.7Q44.1 25.8 44.1 24.8M27.2 52.7Q26.2 53.1 25.8 52.2M57.3 47.4Q56.1 48 55.1 47.1M23.2 29.1Q24.5 29.3 25 28M2.4 44.1Q3.5 44.1 3.4 45.1M32.9 35.6Q33.1 34.9 32.4 34.7M8.3 15.8Q7.8 17 8.8 17.7M46.8 3.7Q48.2 3.9 47.7 5.2M0.6 5.7Q1.9 4.9 3.1 5.9M42.5 6.3Q42.8 5.3 41.8 5.2M25.7 52.2Q25.5 54.4 23.3 53.8M6.2 14.5Q4.4 13.7 5.3 11.9M28.3 18Q28.5 19.1 29.6 19.3M55 36Q54.8 33.9 56.9 33.9M45.2 20.5Q45.9 22.2 47.7 21.6M9.9 52.5Q9.5 51 11 50.9M13.9 0.1Q15.2 0.7 14.6 2" stroke="#1c2026" stroke-width="1.1" stroke-linecap="round" fill="none" opacity="0.95"/></pattern><pattern id="holeD" width="71" height="63" patternUnits="userSpaceOnUse"><ellipse cx="20.1" cy="41" rx="1.6" ry="0.9" transform="rotate(47 20.1 41)" fill="#fff" stroke="#1d2126" stroke-width="0.5"/><ellipse cx="44.4" cy="40" rx="1.8" ry="0.8" transform="rotate(47 44.4 40)" fill="#fff" stroke="#1d2126" stroke-width="0.5"/><ellipse cx="12.1" cy="32.7" rx="1.2" ry="0.6" transform="rotate(110 12.1 32.7)" fill="#fff" stroke="#1d2126" stroke-width="0.5"/><ellipse cx="11.8" cy="40.9" rx="1.9" ry="1" transform="rotate(37 11.8 40.9)" fill="#fff" stroke="#1d2126" stroke-width="0.5"/><ellipse cx="9.3" cy="46.9" rx="1.8" ry="0.6" transform="rotate(115 9.3 46.9)" fill="#fff" stroke="#1d2126" stroke-width="0.5"/><ellipse cx="50.2" cy="55.3" rx="1.7" ry="0.6" transform="rotate(59 50.2 55.3)" fill="#fff" stroke="#1d2126" stroke-width="0.5"/><ellipse cx="34.2" cy="44.8" rx="1.5" ry="0.7" transform="rotate(93 34.2 44.8)" fill="#fff" stroke="#1d2126" stroke-width="0.5"/></pattern><clipPath id="clipLam"><path d="M1132.7 992.8L1137.8 985L1145.6 978.5L1156 973.4L1166.4 968.2L1176.8 966.2L1189.7 966.9L1202.7 967.5L1215.7 966.9L1228.7 968.2L1241.6 969.5L1252 974.7L1259.8 979.8L1266.3 986.3L1270.2 992.8L1274.1 1001.9L1275.4 1011L1276.7 1020.1L1275.4 1030.4L1274.1 1040.8L1275.4 1051.2L1278 1060.3L1283.2 1069.4L1288.4 1077.2L1293.5 1084.9L1297.4 1092.7L1300 1100.5L1303.9 1108.3L1301.3 1117.4L1296.1 1122.6L1291 1129.1L1285.8 1134.2L1278 1139.4L1270.2 1143.3L1262.4 1147.2L1254.6 1148.5L1241.6 1149.8L1228.7 1152.4L1215.7 1155L1202.7 1157.6L1189.7 1155L1183.3 1152.4L1176.8 1155L1170.3 1160.2L1163.8 1162.8L1158.6 1157.6L1150.8 1152.4L1144.3 1157.6L1137.8 1162.8L1130.1 1165.4L1122.3 1164.1L1115.8 1152.4L1114.5 1138.1L1117.1 1123.9L1122.3 1110.9L1127.5 1097.9L1124.9 1086.2L1127.5 1079.7L1130.1 1072L1127.5 1064.2L1128.8 1056.4L1127.5 1048.6L1124.9 1040.8L1121 1033L1117.1 1025.3L1118.4 1017.5L1122.3 1009.7L1127.5 1001.9Z"/></clipPath><clipPath id="clipNpv"><path d="M1120 1076.9L1106 1082.1L1093 1085.9L1080 1091.1L1067.1 1093.7L1054.1 1098.9L1041.1 1104.1L1028.1 1110.6L1015.2 1115.8L1002.2 1121L989.2 1128.8L976.2 1140.4L967.2 1153.4L959.4 1163.8L954.2 1174.2L950.3 1184.6L947.7 1194.9L941.2 1202.7L936 1211.8L933.4 1220.9L928.2 1228.7L920.4 1236.5L912.7 1244.2L904.9 1250.7L897.1 1257.2L889.3 1265L881.5 1272.8L876 1281L884 1292L896 1300L910 1304L926 1300L938 1292L969.7 1274.1L976.2 1266.3L982.7 1258.5L989.2 1250.7L995.7 1244.2L1008.7 1239.1L1021.6 1235.2L1034.6 1233.9L1047.6 1232.6L1060.6 1228.7L1073.5 1222.2L1086.5 1215.7L1096.9 1209.2L1106 1202.7L1112.5 1197.5L1120 1189.7L1132 1180L1150 1160L1160 1130L1158 1100L1146 1080L1132 1074Z"/></clipPath><clipPath id="clipPvm"><path d="M881.2 1272.8L874.7 1279.3L867.2 1286.8L858.7 1295.3L855.9 1303.7L855.9 1311.2L854.1 1319.6L853.1 1333.7L858.7 1339.3L868.1 1343L870 1351.5L877.5 1356.2L886.8 1361.8L896.2 1364.6L905.6 1366.5L916.8 1370.2L920.6 1365.5L924.3 1357.1L929 1350.5L929 1344.9L933.7 1333.7L938.4 1329L943 1319.6L945.9 1311.2L947.7 1305.6L951.5 1296.2L950.5 1290.6L943 1281.2L933.7 1275.6L924.3 1270.9L914.9 1266.2L905.6 1261.5L898.1 1262.5L892.5 1267.2Z"/></clipPath><clipPath id="clipPl"><path d="M1276.2 1155.6L1281.8 1157.5L1291.1 1159.3L1297.7 1157.5L1302.4 1164L1308 1172.5L1313.6 1180.9L1319.3 1189.3L1323 1197.8L1324.9 1204.3L1327.7 1213.7L1326.7 1221.2L1319.3 1227.7L1309.9 1230.5L1300.5 1230.5L1294.9 1232.4L1286.5 1236.2L1275.2 1239.9L1273.3 1237.1L1281.8 1232.4L1284.6 1226.8L1277.1 1223L1272.4 1219.3L1278 1213.7L1284.6 1204.3L1285.5 1194.9L1284.6 1185.6L1288.3 1176.2L1290.2 1166.8L1284.6 1165L1279 1161.2Z"/></clipPath><filter id="blurD" x="-30%" y="-30%" width="160%" height="160%"><feGaussianBlur stdDeviation="4"/></filter>
</defs>
<rect width="2162" height="1711" fill="#fff"/>
<g id="panel-a">
<path d="M87.6 33.6V664.6H989.2" fill="none" stroke="#000" stroke-width="2" stroke-linejoin="miter"/>
<path d="M81.2 59.8H87.6M81.2 104.5H87.6M81.2 149.1H87.6M81.2 193.8H87.6M81.2 238.5H87.6M81.2 283.2H87.6M81.2 327.8H87.6M81.2 372.5H87.6M81.2 417.2H87.6M81.2 461.8H87.6M81.2 506.5H87.6M81.2 551.2H87.6M81.2 595.8H87.6M81.2 640.5H87.6M122.8 664.6V671.2M182.2 664.6V671.2M241.5 664.6V671.2M300.9 664.6V671.2M360.2 664.6V671.2M419.6 664.6V671.2M478.9 664.6V671.2M538.2 664.6V671.2M597.6 664.6V671.2M656.9 664.6V671.2M716.3 664.6V671.2M775.6 664.6V671.2M835 664.6V671.2M894.4 664.6V671.2M953.7 664.6V671.2" fill="none" stroke="#000" stroke-width="1.8"/>
<g class="t21" text-anchor="end">
<text x="74.7" y="68.1">Cpa3</text>
<text x="72.7" y="112.8">Clec9a</text>
<text x="71" y="157.4">Myh11</text>
<text x="70.5" y="202.1">Prox1</text>
<text x="74.7" y="246.8">Pax5</text>
<text x="70.5" y="291.5">Themis</text>
<text x="73" y="336.1">Ccr2</text>
<text x="72" y="380.8">Mecom</text>
<text x="71.7" y="425.5">Ank3</text>
<text x="74.7" y="470.1">Cd55</text>
<text x="73" y="514.8">Gpm6a</text>
<text x="69.7" y="559.5">Plin1</text>
<text x="69.7" y="604.1">Adgre1</text>
<text x="70.5" y="648.8">Pdgfra</text>
</g>
<g class="t21" text-anchor="end">
<text transform="translate(132.8 692.3) rotate(-45)">APCs</text>
<text transform="translate(187.2 693.5) rotate(-45)">Macrophages</text>
<text transform="translate(246 695) rotate(-45)">Adipocytes</text>
<text transform="translate(309.6 691) rotate(-45)">MesoCs</text>
<text transform="translate(368.9 691) rotate(-45)">FIPs</text>
<text transform="translate(428.2 691) rotate(-45)">EpiCs</text>
<text transform="translate(486.4 691) rotate(-45)">EndoCs</text>
<text transform="translate(543.2 693.5) rotate(-45)">Monocytes</text>
<text transform="translate(610.1 687.5) rotate(-45)">T-cells</text>
<text transform="translate(669.4 689.5) rotate(-45)">B-cells</text>
<text transform="translate(726.3 689.8) rotate(-45)">LECs</text>
<text transform="translate(785.6 689.8) rotate(-45)">SMCs</text>
<text transform="translate(839.5 695.5) rotate(-45)">Adipocytes_2</text>
<text transform="translate(905.6 689) rotate(-45)">DCs</text>
<text transform="translate(963.2 690) rotate(-45)">MastCs</text>
</g>
<g stroke="#000" stroke-width="1.05">
<circle cx="120.9" cy="59.8" r="3" fill="#F3D296"/>
<circle cx="180.5" cy="59.8" r="3.3" fill="#F3D296"/>
<circle cx="240" cy="59.8" r="2.5" fill="#F3E3A0"/>
<circle cx="299.6" cy="59.8" r="3" fill="#F3D296"/>
<circle cx="359.2" cy="59.8" r="2.9" fill="#F3D296"/>
<circle cx="418.8" cy="59.8" r="2" fill="#F3E3A0"/>
<circle cx="478.3" cy="59.8" r="2.8" fill="#F3D296"/>
<circle cx="537.9" cy="59.8" r="3" fill="#F3D296"/>
<circle cx="597.5" cy="59.8" r="3.5" fill="#F3D296"/>
<circle cx="657" cy="59.8" r="3.2" fill="#F3D296"/>
<circle cx="716.6" cy="59.8" r="2.8" fill="#F3D296"/>
<circle cx="776.2" cy="59.8" r="2.8" fill="#F3D296"/>
<circle cx="835.7" cy="59.8" r="3" fill="#F3D296"/>
<circle cx="895.3" cy="59.8" r="2.5" fill="#F3E3A0"/>
<circle cx="954.9" cy="59.8" r="11.7" fill="#000" stroke="none"/>
<circle cx="120.9" cy="104.5" r="1.4" fill="#6b6250" stroke-width="0.9"/>
<circle cx="180.5" cy="104.5" r="1.8" fill="#F3E3A0"/>
<circle cx="240" cy="104.5" r="1.4" fill="#6b6250" stroke-width="0.9"/>
<circle cx="299.6" cy="104.5" r="1.6" fill="#6b6250" stroke-width="0.9"/>
<circle cx="359.2" cy="104.5" r="1.4" fill="#6b6250" stroke-width="0.9"/>
<circle cx="418.8" cy="104.5" r="1.4" fill="#6b6250" stroke-width="0.9"/>
<circle cx="478.3" cy="104.5" r="3" fill="#F3D296"/>
<circle cx="537.9" cy="104.5" r="2.2" fill="#F3E3A0"/>
<circle cx="597.5" cy="104.5" r="1.6" fill="#F3E3A0"/>
<circle cx="657" cy="104.5" r="1.6" fill="#F3E3A0"/>
<circle cx="716.6" cy="104.5" r="2.5" fill="#F3E3A0"/>
<circle cx="776.2" cy="104.5" r="1.6" fill="#F3E3A0"/>
<circle cx="835.7" cy="104.5" r="1.4" fill="#F3E3A0"/>
<circle cx="895.3" cy="104.5" r="10" fill="#000" stroke="none"/>
<circle cx="954.9" cy="104.5" r="2" fill="#F3E3A0"/>
<circle cx="120.9" cy="149.1" r="4.2" fill="#F3D296"/>
<circle cx="180.5" cy="149.1" r="3" fill="#F3D296"/>
<circle cx="240" cy="149.1" r="4.2" fill="#F3D296"/>
<circle cx="299.6" cy="149.1" r="4" fill="#F3D296"/>
<circle cx="359.2" cy="149.1" r="3.5" fill="#F3D296"/>
<circle cx="418.8" cy="149.1" r="4" fill="#F3D296"/>
<circle cx="478.3" cy="149.1" r="4.2" fill="#F3D296"/>
<circle cx="537.9" cy="149.1" r="3" fill="#F3D296"/>
<circle cx="597.5" cy="149.1" r="3.5" fill="#F3D296"/>
<circle cx="657" cy="149.1" r="3.3" fill="#F3D296"/>
<circle cx="716.6" cy="149.1" r="3.8" fill="#F3D296"/>
<circle cx="776.2" cy="149.1" r="11" fill="#000" stroke="none"/>
<circle cx="835.7" cy="149.1" r="3.5" fill="#F3D296"/>
<circle cx="895.3" cy="149.1" r="3.2" fill="#F3D296"/>
<circle cx="954.9" cy="149.1" r="2" fill="#F3E3A0"/>
<circle cx="120.9" cy="193.8" r="1.6" fill="#F3E3A0"/>
<circle cx="180.5" cy="193.8" r="1.2" fill="#6b6250" stroke-width="0.9"/>
<circle cx="240" cy="193.8" r="1.2" fill="#6b6250" stroke-width="0.9"/>
<circle cx="299.6" cy="193.8" r="1.6" fill="#F3E3A0"/>
<circle cx="359.2" cy="193.8" r="1.6" fill="#F3E3A0"/>
<circle cx="418.8" cy="193.8" r="1.4" fill="#6b6250" stroke-width="0.9"/>
<circle cx="478.3" cy="193.8" r="2.5" fill="#F3D296"/>
<circle cx="537.9" cy="193.8" r="1.2" fill="#6b6250" stroke-width="0.9"/>
<circle cx="597.5" cy="193.8" r="1.8" fill="#F3E3A0"/>
<circle cx="657" cy="193.8" r="1.8" fill="#F3E3A0"/>
<circle cx="716.6" cy="193.8" r="10" fill="#000" stroke="none"/>
<circle cx="776.2" cy="193.8" r="0.9" fill="#6b6250" stroke-width="0.9"/>
<circle cx="835.7" cy="193.8" r="2.5" fill="#F3D296"/>
<circle cx="895.3" cy="193.8" r="0.9" fill="#6b6250" stroke-width="0.9"/>
<circle cx="954.9" cy="193.8" r="1.4" fill="#6b6250" stroke-width="0.9"/>
<circle cx="120.9" cy="238.5" r="1.8" fill="#F3E3A0"/>
<circle cx="180.5" cy="238.5" r="1.8" fill="#F3E3A0"/>
<circle cx="240" cy="238.5" r="1.8" fill="#F3E3A0"/>
<circle cx="299.6" cy="238.5" r="1.6" fill="#F3E3A0"/>
<circle cx="359.2" cy="238.5" r="1.8" fill="#F3E3A0"/>
<circle cx="418.8" cy="238.5" r="1.6" fill="#F3E3A0"/>
<circle cx="478.3" cy="238.5" r="1.8" fill="#F3E3A0"/>
<circle cx="537.9" cy="238.5" r="2" fill="#F3E3A0"/>
<circle cx="597.5" cy="238.5" r="1.8" fill="#F3E3A0"/>
<circle cx="657" cy="238.5" r="10.5" fill="#000" stroke="none"/>
<circle cx="716.6" cy="238.5" r="1.6" fill="#F3E3A0"/>
<circle cx="776.2" cy="238.5" r="1.6" fill="#F3E3A0"/>
<circle cx="835.7" cy="238.5" r="3.2" fill="#F3D296"/>
<circle cx="895.3" cy="238.5" r="2.2" fill="#F3E3A0"/>
<circle cx="954.9" cy="238.5" r="3.5" fill="#F2C58C"/>
<circle cx="120.9" cy="283.2" r="1.8" fill="#F3E3A0"/>
<circle cx="180.5" cy="283.2" r="1.8" fill="#F3E3A0"/>
<circle cx="240" cy="283.2" r="1.8" fill="#F3E3A0"/>
<circle cx="299.6" cy="283.2" r="1.6" fill="#F3E3A0"/>
<circle cx="359.2" cy="283.2" r="1.8" fill="#F3E3A0"/>
<circle cx="418.8" cy="283.2" r="1.4" fill="#F3E3A0"/>
<circle cx="478.3" cy="283.2" r="1.8" fill="#F3E3A0"/>
<circle cx="537.9" cy="283.2" r="1.8" fill="#F3E3A0"/>
<circle cx="597.5" cy="283.2" r="8.2" fill="#000" stroke="none"/>
<circle cx="657" cy="283.2" r="3" fill="#F3D296"/>
<circle cx="716.6" cy="283.2" r="1.8" fill="#F3E3A0"/>
<circle cx="776.2" cy="283.2" r="1.6" fill="#F3E3A0"/>
<circle cx="835.7" cy="283.2" r="3" fill="#F3D296"/>
<circle cx="895.3" cy="283.2" r="1.8" fill="#F3E3A0"/>
<circle cx="954.9" cy="283.2" r="2.5" fill="#F3D296"/>
<circle cx="120.9" cy="327.8" r="2.2" fill="#F4F4A9"/>
<circle cx="180.5" cy="327.8" r="3" fill="#F3E3A0"/>
<circle cx="240" cy="327.8" r="2.2" fill="#F4F4A9"/>
<circle cx="299.6" cy="327.8" r="2.2" fill="#F4F4A9"/>
<circle cx="359.2" cy="327.8" r="2.2" fill="#F4F4A9"/>
<circle cx="418.8" cy="327.8" r="2.2" fill="#F4F4A9"/>
<circle cx="478.3" cy="327.8" r="2.2" fill="#F4F4A9"/>
<circle cx="537.9" cy="327.8" r="9.2" fill="#000" stroke="none"/>
<circle cx="597.5" cy="327.8" r="5.8" fill="#D0506F"/>
<circle cx="657" cy="327.8" r="2.2" fill="#F4F4A9"/>
<circle cx="716.6" cy="327.8" r="2.5" fill="#F4F4A9"/>
<circle cx="776.2" cy="327.8" r="2.2" fill="#F4F4A9"/>
<circle cx="835.7" cy="327.8" r="2.8" fill="#F4F4A9"/>
<circle cx="895.3" cy="327.8" r="7.5" fill="#5A2A8E"/>
<circle cx="954.9" cy="327.8" r="3" fill="#F3E3A0"/>
<circle cx="120.9" cy="372.5" r="4" fill="#F2C58C"/>
<circle cx="180.5" cy="372.5" r="3" fill="#F3D296"/>
<circle cx="240" cy="372.5" r="4.2" fill="#F2C58C"/>
<circle cx="299.6" cy="372.5" r="3.8" fill="#F3D296"/>
<circle cx="359.2" cy="372.5" r="3.8" fill="#F3D296"/>
<circle cx="418.8" cy="372.5" r="5.2" fill="#EFAB77"/>
<circle cx="478.3" cy="372.5" r="11" fill="#000" stroke="none"/>
<circle cx="537.9" cy="372.5" r="3" fill="#F3E3A0"/>
<circle cx="597.5" cy="372.5" r="3.5" fill="#F3D296"/>
<circle cx="657" cy="372.5" r="3.5" fill="#F3D296"/>
<circle cx="716.6" cy="372.5" r="3.5" fill="#F3D296"/>
<circle cx="776.2" cy="372.5" r="4.5" fill="#F3D296"/>
<circle cx="835.7" cy="372.5" r="5.2" fill="#F2C58C"/>
<circle cx="895.3" cy="372.5" r="2.8" fill="#F3E3A0"/>
<circle cx="954.9" cy="372.5" r="3" fill="#F3D296"/>
<circle cx="120.9" cy="417.2" r="4.8" fill="#F3D296"/>
<circle cx="180.5" cy="417.2" r="3.2" fill="#F3E3A0"/>
<circle cx="240" cy="417.2" r="5.5" fill="#F3D296"/>
<circle cx="299.6" cy="417.2" r="4.5" fill="#F3D296"/>
<circle cx="359.2" cy="417.2" r="4.5" fill="#F3D296"/>
<circle cx="418.8" cy="417.2" r="11.7" fill="#000" stroke="none"/>
<circle cx="478.3" cy="417.2" r="4.8" fill="#F3D296"/>
<circle cx="537.9" cy="417.2" r="3.5" fill="#F3E3A0"/>
<circle cx="597.5" cy="417.2" r="4" fill="#F3D296"/>
<circle cx="657" cy="417.2" r="3.5" fill="#F3E3A0"/>
<circle cx="716.6" cy="417.2" r="5.5" fill="#F2C58C"/>
<circle cx="776.2" cy="417.2" r="8.1" fill="#E17A6E"/>
<circle cx="835.7" cy="417.2" r="6.5" fill="#EFAB77"/>
<circle cx="895.3" cy="417.2" r="3.2" fill="#F4F4A9"/>
<circle cx="954.9" cy="417.2" r="2" fill="#F4F4A9"/>
<circle cx="120.9" cy="461.8" r="5.2" fill="#EFAB77"/>
<circle cx="180.5" cy="461.8" r="3" fill="#F4F4A9"/>
<circle cx="240" cy="461.8" r="4.2" fill="#F4F4A9"/>
<circle cx="299.6" cy="461.8" r="3.8" fill="#F3E3A0"/>
<circle cx="359.2" cy="461.8" r="9.5" fill="#000" stroke="none"/>
<circle cx="418.8" cy="461.8" r="3" fill="#F4F4A9"/>
<circle cx="478.3" cy="461.8" r="3.8" fill="#F3E3A0"/>
<circle cx="537.9" cy="461.8" r="2.8" fill="#F4F4A9"/>
<circle cx="597.5" cy="461.8" r="3.8" fill="#F3E3A0"/>
<circle cx="657" cy="461.8" r="7" fill="#8F3896"/>
<circle cx="716.6" cy="461.8" r="5" fill="#EFAB77"/>
<circle cx="776.2" cy="461.8" r="3.8" fill="#F4F4A9"/>
<circle cx="835.7" cy="461.8" r="3.5" fill="#F4F4A9"/>
<circle cx="895.3" cy="461.8" r="2.5" fill="#F4F4A9"/>
<circle cx="954.9" cy="461.8" r="6.8" fill="#A63C8C"/>
<circle cx="120.9" cy="506.5" r="3" fill="#F3E3A0"/>
<circle cx="180.5" cy="506.5" r="3" fill="#F3E3A0"/>
<circle cx="240" cy="506.5" r="3.8" fill="#F3E3A0"/>
<circle cx="299.6" cy="506.5" r="11" fill="#000" stroke="none"/>
<circle cx="359.2" cy="506.5" r="3" fill="#F3E3A0"/>
<circle cx="418.8" cy="506.5" r="4.2" fill="#F3D296"/>
<circle cx="478.3" cy="506.5" r="5.2" fill="#EFAB77"/>
<circle cx="537.9" cy="506.5" r="3" fill="#F3E3A0"/>
<circle cx="597.5" cy="506.5" r="3.2" fill="#F3E3A0"/>
<circle cx="657" cy="506.5" r="3.5" fill="#F3E3A0"/>
<circle cx="716.6" cy="506.5" r="9.1" fill="#8F3896"/>
<circle cx="776.2" cy="506.5" r="5.2" fill="#F3D296"/>
<circle cx="835.7" cy="506.5" r="4" fill="#F3D296"/>
<circle cx="895.3" cy="506.5" r="2.8" fill="#F3E3A0"/>
<circle cx="954.9" cy="506.5" r="3.5" fill="#F3E3A0"/>
<circle cx="120.9" cy="551.2" r="4" fill="#F3E3A0"/>
<circle cx="180.5" cy="551.2" r="3.5" fill="#F3E3A0"/>
<circle cx="240" cy="551.2" r="11.5" fill="#000" stroke="none"/>
<circle cx="299.6" cy="551.2" r="4.5" fill="#F3D296"/>
<circle cx="359.2" cy="551.2" r="4" fill="#F3E3A0"/>
<circle cx="418.8" cy="551.2" r="5.2" fill="#F3D296"/>
<circle cx="478.3" cy="551.2" r="4.8" fill="#F3D296"/>
<circle cx="537.9" cy="551.2" r="3.8" fill="#F3E3A0"/>
<circle cx="597.5" cy="551.2" r="4.5" fill="#F3D296"/>
<circle cx="657" cy="551.2" r="3.8" fill="#F3E3A0"/>
<circle cx="716.6" cy="551.2" r="4" fill="#F3E3A0"/>
<circle cx="776.2" cy="551.2" r="4.8" fill="#F3E3A0"/>
<circle cx="835.7" cy="551.2" r="10.1" fill="#1F1140"/>
<circle cx="895.3" cy="551.2" r="3.8" fill="#F4F4A9"/>
<circle cx="954.9" cy="551.2" r="2.5" fill="#F4F4A9"/>
<circle cx="120.9" cy="595.8" r="4" fill="#F3E3A0"/>
<circle cx="180.5" cy="595.8" r="10" fill="#000" stroke="none"/>
<circle cx="240" cy="595.8" r="3" fill="#F4F4A9"/>
<circle cx="299.6" cy="595.8" r="3.8" fill="#F4F4A9"/>
<circle cx="359.2" cy="595.8" r="3.8" fill="#F4F4A9"/>
<circle cx="418.8" cy="595.8" r="3" fill="#F4F4A9"/>
<circle cx="478.3" cy="595.8" r="3.8" fill="#F3E3A0"/>
<circle cx="537.9" cy="595.8" r="8.8" fill="#261450"/>
<circle cx="597.5" cy="595.8" r="4.8" fill="#F2C58C"/>
<circle cx="657" cy="595.8" r="5.2" fill="#EFAB77"/>
<circle cx="716.6" cy="595.8" r="3.5" fill="#F4F4A9"/>
<circle cx="776.2" cy="595.8" r="3.2" fill="#F4F4A9"/>
<circle cx="835.7" cy="595.8" r="4.5" fill="#F3D296"/>
<circle cx="895.3" cy="595.8" r="4.8" fill="#F3D296"/>
<circle cx="954.9" cy="595.8" r="5" fill="#E17A6E"/>
<circle cx="120.9" cy="640.5" r="9.7" fill="#000" stroke="none"/>
<circle cx="180.5" cy="640.5" r="2.8" fill="#F3E3A0"/>
<circle cx="240" cy="640.5" r="2.8" fill="#F4F4A9"/>
<circle cx="299.6" cy="640.5" r="3.5" fill="#F3D296"/>
<circle cx="359.2" cy="640.5" r="8.6" fill="#3B1C78"/>
<circle cx="418.8" cy="640.5" r="2.2" fill="#F4F4A9"/>
<circle cx="478.3" cy="640.5" r="3.2" fill="#F3D296"/>
<circle cx="537.9" cy="640.5" r="2.8" fill="#F4F4A9"/>
<circle cx="597.5" cy="640.5" r="2.8" fill="#F4F4A9"/>
<circle cx="657" cy="640.5" r="3.2" fill="#F3D296"/>
<circle cx="716.6" cy="640.5" r="2.8" fill="#F3E3A0"/>
<circle cx="776.2" cy="640.5" r="3.2" fill="#F3D296"/>
<circle cx="835.7" cy="640.5" r="4" fill="#F2C58C"/>
<circle cx="895.3" cy="640.5" r="2.8" fill="#F4F4A9"/>
<circle cx="954.9" cy="640.5" r="2.5" fill="#F4F4A9"/>
</g>
<text class="t25" x="90.6" y="824.2" style="font-size:25.5px">Percent Expressed</text>
<circle cx="81.6" cy="855.3" r="1.4" fill="#000"/>
<circle cx="148.7" cy="855.3" r="7.4" fill="#000"/>
<circle cx="226.9" cy="855.3" r="9.3" fill="#000"/>
<circle cx="304.9" cy="855.3" r="11.1" fill="#000"/>
<g class="t21">
<text x="109.2" y="863.5">0</text>
<text x="175.6" y="863.5">25</text>
<text x="253.6" y="863.5">50</text>
<text x="331.6" y="863.5">75</text>
</g>
<text class="t25" x="636.5" y="824.5" text-anchor="middle">Avg. Expression</text>
<rect x="408" y="840" width="483" height="25" fill="url(#gradA)" stroke="#8a8a8a" stroke-width="1.2"/>
<path d="M432.5 840.6v4.6M432.5 864.4v-4.6M508.6 840.6v4.6M508.6 864.4v-4.6M585 840.6v4.6M585 864.4v-4.6M661 840.6v4.6M661 864.4v-4.6M737 840.6v4.6M737 864.4v-4.6M813.5 840.6v4.6M813.5 864.4v-4.6M889.3 840.6v4.6M889.3 864.4v-4.6" stroke="#fff" stroke-width="1.3" fill="none"/>
<g class="t21" text-anchor="middle">
<text x="431.5" y="893.8">-0.5</text>
<text x="508.6" y="893.8">0.0</text>
<text x="585" y="893.8">0.5</text>
<text x="661" y="893.8">1.0</text>
<text x="737" y="893.8">1.5</text>
<text x="813.5" y="893.8" font-weight="bold">2.0</text>
<text x="889.5" y="893.8" font-weight="bold">2.5</text>
</g>
</g>
<g id="panel-c">
<path d="M166.9 945V1532.2H780.2" fill="none" stroke="#000" stroke-width="1.6"/>
<path d="M161.3 988.1H166.9M161.3 1059.8H166.9M161.3 1131.5H166.9M161.3 1203.1H166.9M161.3 1274.8H166.9M161.3 1346.5H166.9M161.3 1418.2H166.9M161.3 1489.9H166.9M252 1532.2V1537.8M377 1532.2V1537.8M513.8 1532.2V1537.8M653.4 1532.2V1537.8" fill="none" stroke="#000" stroke-width="1.5"/>
<g class="t19c" text-anchor="end">
<text x="146.8" y="993.4">Kif15</text>
<text x="146.8" y="1065.1">Top2a</text>
<text x="149.9" y="1136.8">Lyve1</text>
<text x="150.5" y="1208.4">Cd163</text>
<text x="149.4" y="1280.1">Plin2</text>
<text x="148.7" y="1351.8">Trem2</text>
<text x="150.5" y="1423.5">Cd74</text>
<text x="150.5" y="1495.2">Ms4a7</text>
</g>
<g class="t19c" text-anchor="end">
<text transform="translate(248.4 1554) rotate(-45)">NPVMs</text>
<text transform="translate(381 1549.5) rotate(-45)">LAMs</text>
<text transform="translate(517.8 1548.3) rotate(-45)">PVMs</text>
<text transform="translate(643.4 1562.5) rotate(-45)">P-LAMs</text>
</g>
<g stroke="#000" stroke-width="0.9">
<circle cx="254.3" cy="988.1" r="1.5" fill="#000" stroke="none"/>
<circle cx="376.6" cy="988.1" r="1.7" fill="#000" stroke="none"/>
<circle cx="513.6" cy="988.1" r="1.5" fill="#000" stroke="none"/>
<circle cx="654.9" cy="988.1" r="9.2" fill="#000" stroke="none"/>
<circle cx="254.3" cy="1059.8" r="1.5" fill="#000" stroke="none"/>
<circle cx="376.6" cy="1059.8" r="1.8" fill="#F2CE8F"/>
<circle cx="513.6" cy="1059.8" r="1.2" fill="#000" stroke="none"/>
<circle cx="654.9" cy="1059.8" r="9.7" fill="#000" stroke="none"/>
<circle cx="254.3" cy="1131.5" r="2.2" fill="#E8938A"/>
<circle cx="376.6" cy="1131.5" r="1.5" fill="#000" stroke="none"/>
<circle cx="513.6" cy="1131.5" r="6.7" fill="#000" stroke="none"/>
<circle cx="654.9" cy="1131.5" r="1.8" fill="#E89A80"/>
<circle cx="254.3" cy="1203.1" r="5.5" fill="#D0506F"/>
<circle cx="376.6" cy="1203.1" r="2.5" fill="#F2CE8F"/>
<circle cx="513.6" cy="1203.1" r="7.6" fill="#0D0A20"/>
<circle cx="654.9" cy="1203.1" r="3.5" fill="#EFA070"/>
<circle cx="254.3" cy="1274.8" r="8.1" fill="#D3517A"/>
<circle cx="376.6" cy="1274.8" r="9.2" fill="#23124B"/>
<circle cx="513.6" cy="1274.8" r="7" fill="#F2F7A8"/>
<circle cx="654.9" cy="1274.8" r="8.5" fill="#B84B8C"/>
<circle cx="254.3" cy="1346.5" r="6.2" fill="#A94C9C"/>
<circle cx="376.6" cy="1346.5" r="7.6" fill="#2E1860"/>
<circle cx="513.6" cy="1346.5" r="5" fill="#F2F7A8"/>
<circle cx="654.9" cy="1346.5" r="7.3" fill="#D4546E"/>
<circle cx="254.3" cy="1418.2" r="7.6" fill="#150A26"/>
<circle cx="376.6" cy="1418.2" r="7" fill="#CF4F74"/>
<circle cx="513.6" cy="1418.2" r="6.2" fill="#F0D592"/>
<circle cx="654.9" cy="1418.2" r="7.3" fill="#DC6870"/>
<circle cx="254.3" cy="1489.9" r="8.1" fill="#0D0818"/>
<circle cx="376.6" cy="1489.9" r="6.2" fill="#EA8E6E"/>
<circle cx="513.6" cy="1489.9" r="7.3" fill="#D8566A"/>
<circle cx="654.9" cy="1489.9" r="6.2" fill="#EFA872"/>
</g>
<text class="t20c" x="100" y="1636.4">Percent Expressed</text>
<circle cx="117.6" cy="1675.7" r="5" fill="#000"/>
<circle cx="180.7" cy="1675.7" r="7" fill="#000"/>
<circle cx="244" cy="1675.7" r="8.2" fill="#000"/>
<circle cx="307.3" cy="1675.7" r="9.5" fill="#000"/>
<g class="t20c">
<text x="126.4" y="1684.5">20</text>
<text x="187.8" y="1684.5">40</text>
<text x="262.8" y="1684.5">60</text>
<text x="324.4" y="1684.5">80</text>
</g>
<text class="t20c" x="573.7" y="1649.4" text-anchor="middle">Avg. Expression</text>
<rect x="390.6" y="1664" width="389.4" height="19.2" fill="url(#gradC)" stroke="#8a8a8a" stroke-width="1.1"/>
<path d="M422.6 1664.5v3.6M422.6 1682.7v-3.6M485.7 1664.5v3.6M485.7 1682.7v-3.6M556.5 1664.5v3.6M556.5 1682.7v-3.6M634.1 1664.5v3.6M634.1 1682.7v-3.6M705.4 1664.5v3.6M705.4 1682.7v-3.6" stroke="#fff" stroke-width="1.2" fill="none"/>
<g class="t20c" text-anchor="middle">
<text x="405.5" y="1708.2">-1.0</text>
<text x="481.5" y="1708.2">-0.5</text>
<text x="559" y="1708.2">0.0</text>
<text x="634.1" y="1708.2">0.5</text>
<text x="700.4" y="1708.2">1.0</text>
<text x="763.6" y="1708.2">1.5</text>
</g>
</g>
<g id="umap-left">
<clipPath id="clipAspcL"><path d="M1172.8 141.1C1172.9 138.4 1173.5 135.5 1174.8 132.9C1176.1 130.4 1178.1 127.9 1180.8 125.5C1183.5 123.1 1187.3 120.3 1190.9 118.4C1194.4 116.4 1198.3 115.3 1202.2 114C1206.1 112.8 1210 111.4 1214.3 110.8C1218.5 110.2 1223.2 110.3 1227.7 110.5C1232.1 110.7 1236.6 111.8 1241 111.9C1245.5 111.9 1250 110.6 1254.4 110.8C1258.9 110.9 1263.4 112 1267.8 112.7C1272.3 113.4 1276.7 114.3 1281.2 115.1C1285.7 116 1290.6 116.6 1294.6 117.8C1298.6 119 1301.9 120.3 1305.3 122.1C1308.6 124 1312.2 126.6 1314.7 128.9C1317.1 131.1 1318.7 133.4 1319.7 135.6C1320.7 137.9 1321 140.2 1320.7 142.4C1320.3 144.7 1319.2 147.3 1317.6 149.2C1316 151 1313.4 152.1 1310.9 153.5C1308.5 154.9 1305.6 156 1302.9 157.5C1300.2 159.1 1297.2 161 1294.6 162.9C1292 164.9 1289.4 167.3 1287.2 169.4C1285 171.5 1283 173.3 1281.5 175.5C1279.9 177.8 1278.7 180.6 1277.8 183C1277 185.3 1277.8 188.1 1276.6 189.7C1275.5 191.3 1272.7 191.5 1270.8 192.7C1268.8 193.9 1267.2 195.2 1265.1 196.7C1263.1 198.3 1260.7 200.6 1258.4 202.1C1256.2 203.7 1254 204.9 1251.8 205.9C1249.5 206.9 1247 207.6 1245.1 208.1C1243.1 208.5 1241.5 209.2 1240 208.6C1238.5 208 1237.1 206.4 1236 204.6C1234.8 202.8 1234.2 200.1 1233.3 197.8C1232.4 195.6 1231.5 193 1230.6 191.1C1229.7 189.1 1228.8 186.6 1227.7 185.9C1226.5 185.3 1225.4 186.4 1223.6 187.3C1221.9 188.2 1219.4 189.8 1217 191.3C1214.5 192.9 1211.4 194.9 1208.9 196.7C1206.5 198.5 1204.4 200.3 1202.2 202.1C1200 204 1197.3 206.6 1195.8 208C1194.4 209.3 1194.2 210.8 1193.5 210.3C1192.8 209.7 1191.6 207.1 1191.5 204.8C1191.4 202.5 1192.9 199.4 1192.9 196.5C1192.9 193.5 1192.4 190.2 1191.5 187C1190.7 183.9 1189.1 180.7 1187.8 177.5C1186.4 174.4 1185.1 171.2 1183.5 168.1C1181.9 164.9 1179.9 161.8 1178.4 158.6C1176.9 155.5 1175.3 152.1 1174.4 149.2C1173.5 146.2 1172.7 143.8 1172.8 141.1Z"/></clipPath>
<clipPath id="clipMacL"><path d="M1359 317.3C1359.5 315.3 1360.3 313.7 1361.7 311.9C1363 310.1 1365.3 308.2 1367 306.5C1368.8 304.9 1370.4 303.1 1372.4 301.9C1374.4 300.7 1376.6 299.7 1379.1 299.2C1381.5 298.8 1384.4 299 1387.1 299.1C1389.8 299.2 1392.7 299.2 1395.1 299.8C1397.6 300.3 1399.8 301.6 1401.8 302.5C1403.8 303.4 1405.5 304.6 1407.2 305.2C1408.9 305.8 1411.1 304.6 1411.9 306C1412.7 307.3 1412 310.5 1411.9 313.3C1411.8 316.1 1411.1 319.4 1411.2 322.7C1411.3 326.1 1412.2 330 1412.5 333.6C1412.9 337.2 1412.9 340.8 1413.2 344.4C1413.5 348 1413.9 351.8 1414.6 355.2C1415.2 358.6 1416.2 361.7 1417.2 364.6C1418.2 367.6 1419.8 370.3 1420.6 372.7C1421.3 375.2 1421.8 377.3 1421.6 379.5C1421.5 381.8 1421 384 1419.9 386.3C1418.8 388.5 1417.1 391.1 1415.2 393C1413.3 394.9 1411 396.5 1408.5 397.8C1406.1 399 1403.2 399.3 1400.5 400.5C1397.8 401.6 1394.5 403 1392.5 404.5C1390.5 406 1389.6 407.1 1388.5 409.2C1387.3 411.4 1386.4 414.4 1385.8 417.3C1385.2 420.3 1384.9 423.7 1384.7 426.8C1384.5 430 1384.8 433.1 1384.7 436.3C1384.7 439.4 1384.5 443 1384.4 445.7C1384.4 448.4 1385.3 451 1384.2 452.5C1383.1 454 1379.5 454.3 1377.7 454.5C1376 454.7 1375.1 453.8 1373.7 453.8C1372.4 453.8 1370.8 454.5 1369.7 454.5C1368.6 454.5 1367.8 454.6 1367 453.8C1366.3 453.1 1365.7 451.2 1365 449.8C1364.4 448.3 1363.9 446.7 1363 445.1C1362.1 443.4 1360.9 441.2 1359.7 439.6C1358.5 438.1 1356.9 436.6 1355.7 435.6C1354.4 434.6 1353.8 433.3 1352.3 433.6C1350.9 433.8 1349 435.7 1347 436.9C1345 438.2 1342.7 439.5 1340.3 441C1337.8 442.5 1334.9 444 1332.2 445.7C1329.6 447.4 1326.8 449.2 1324.2 451.1C1321.6 453.1 1319 455 1316.9 457.2C1314.7 459.5 1313.2 462.9 1311.5 464.7C1309.8 466.4 1308.2 465.9 1306.8 468C1305.4 470.1 1304.1 474.5 1303.1 477.5C1302.1 480.4 1301.6 482.7 1300.8 485.6C1300 488.5 1299 492.1 1298.1 495C1297.2 498 1296.3 500.4 1295.4 503.1C1294.5 505.9 1293.7 509.1 1292.8 511.3C1291.9 513.4 1291.3 515.5 1290.1 516C1288.9 516.5 1287.3 515 1285.4 514.2C1283.5 513.5 1277.8 511.3 1278.7 511.5C1279.6 511.7 1289.3 514.9 1290.6 515.3C1291.9 515.8 1288.3 514.9 1286.5 514.2C1284.8 513.6 1281.9 512.9 1279.9 511.5C1277.8 510.2 1276 508.1 1274.5 506.1C1273 504.1 1271.7 501.7 1270.8 499.4C1269.8 497.1 1269 494.9 1268.7 492.3C1268.5 489.8 1268.9 486.8 1269.1 484.2C1269.4 481.6 1269.4 479 1270.1 476.8C1270.8 474.5 1271.8 472.9 1273.2 470.7C1274.6 468.6 1276.7 466.2 1278.5 464C1280.3 461.7 1282.1 459.5 1283.9 457.2C1285.7 454.9 1287.7 452.9 1289.2 450.4C1290.8 448 1292.1 445 1293.2 442.3C1294.4 439.6 1295 437.2 1295.9 434.2C1296.8 431.3 1297.7 427.9 1298.6 424.8C1299.5 421.6 1300.4 418.5 1301.3 415.3C1302.2 412.1 1303.7 406.6 1303.9 405.8C1304.2 405.1 1302.4 411.4 1302.6 410.6C1302.8 409.8 1304.2 404.3 1305.3 401.1C1306.4 398 1307.7 394.6 1309.3 391.7C1310.9 388.7 1312.6 386 1314.7 383.6C1316.7 381.1 1318.9 378.8 1321.3 376.8C1323.8 374.8 1326.7 373 1329.4 371.4C1332.1 369.8 1334.7 368.7 1337.4 367.3C1340.1 366 1342.7 364.6 1345.4 363.3C1348.1 361.9 1351.4 360.8 1353.7 359.2C1355.9 357.7 1357.9 356.5 1359 353.8C1360.1 351.1 1360.2 346.6 1360.3 343C1360.5 339.4 1359.9 335.4 1359.7 332.2C1359.5 329.1 1359.1 326.6 1359 324.1C1358.9 321.6 1358.6 319.4 1359 317.3Z"/><path d="M1412.5 394.4C1414.2 394.4 1415.8 394.9 1417.2 396.4C1418.7 397.9 1420 400.8 1421.2 403.2C1422.5 405.5 1423.6 407.8 1424.6 410.6C1425.6 413.4 1426.6 416.9 1427.3 420.1C1427.9 423.2 1428.6 426.7 1428.6 429.5C1428.6 432.3 1428.3 434.8 1427.3 436.9C1426.3 439.1 1424.4 441 1422.6 442.4C1420.8 443.7 1418.5 444.4 1416.6 445.1C1414.7 445.7 1412.3 446.6 1411.2 446.4C1410.1 446.2 1409.6 445.1 1409.9 443.7C1410.1 442.4 1411.9 440.4 1412.5 438.3C1413.2 436.2 1413.8 433.7 1413.9 430.9C1414 428 1413.7 424.6 1413.2 421.4C1412.8 418.2 1412.1 414.9 1411.2 411.9C1410.3 409 1409.1 406 1407.9 403.8C1406.6 401.7 1404 400.3 1403.8 399.1C1403.7 397.9 1405.7 397.2 1407.2 396.4C1408.6 395.6 1410.9 394.4 1412.5 394.4Z"/></clipPath>
<path d="M1172.8 141.1C1172.9 138.4 1173.5 135.5 1174.8 132.9C1176.1 130.4 1178.1 127.9 1180.8 125.5C1183.5 123.1 1187.3 120.3 1190.9 118.4C1194.4 116.4 1198.3 115.3 1202.2 114C1206.1 112.8 1210 111.4 1214.3 110.8C1218.5 110.2 1223.2 110.3 1227.7 110.5C1232.1 110.7 1236.6 111.8 1241 111.9C1245.5 111.9 1250 110.6 1254.4 110.8C1258.9 110.9 1263.4 112 1267.8 112.7C1272.3 113.4 1276.7 114.3 1281.2 115.1C1285.7 116 1290.6 116.6 1294.6 117.8C1298.6 119 1301.9 120.3 1305.3 122.1C1308.6 124 1312.2 126.6 1314.7 128.9C1317.1 131.1 1318.7 133.4 1319.7 135.6C1320.7 137.9 1321 140.2 1320.7 142.4C1320.3 144.7 1319.2 147.3 1317.6 149.2C1316 151 1313.4 152.1 1310.9 153.5C1308.5 154.9 1305.6 156 1302.9 157.5C1300.2 159.1 1297.2 161 1294.6 162.9C1292 164.9 1289.4 167.3 1287.2 169.4C1285 171.5 1283 173.3 1281.5 175.5C1279.9 177.8 1278.7 180.6 1277.8 183C1277 185.3 1277.8 188.1 1276.6 189.7C1275.5 191.3 1272.7 191.5 1270.8 192.7C1268.8 193.9 1267.2 195.2 1265.1 196.7C1263.1 198.3 1260.7 200.6 1258.4 202.1C1256.2 203.7 1254 204.9 1251.8 205.9C1249.5 206.9 1247 207.6 1245.1 208.1C1243.1 208.5 1241.5 209.2 1240 208.6C1238.5 208 1237.1 206.4 1236 204.6C1234.8 202.8 1234.2 200.1 1233.3 197.8C1232.4 195.6 1231.5 193 1230.6 191.1C1229.7 189.1 1228.8 186.6 1227.7 185.9C1226.5 185.3 1225.4 186.4 1223.6 187.3C1221.9 188.2 1219.4 189.8 1217 191.3C1214.5 192.9 1211.4 194.9 1208.9 196.7C1206.5 198.5 1204.4 200.3 1202.2 202.1C1200 204 1197.3 206.6 1195.8 208C1194.4 209.3 1194.2 210.8 1193.5 210.3C1192.8 209.7 1191.6 207.1 1191.5 204.8C1191.4 202.5 1192.9 199.4 1192.9 196.5C1192.9 193.5 1192.4 190.2 1191.5 187C1190.7 183.9 1189.1 180.7 1187.8 177.5C1186.4 174.4 1185.1 171.2 1183.5 168.1C1181.9 164.9 1179.9 161.8 1178.4 158.6C1176.9 155.5 1175.3 152.1 1174.4 149.2C1173.5 146.2 1172.7 143.8 1172.8 141.1Z" fill="#90B134" stroke="#90B134" stroke-width="0.5" stroke-linejoin="round"/>
<g clip-path="url(#clipAspcL)"><path d="M1275.8 114.3C1279.4 112.9 1289.7 116.5 1294.6 117.8C1299.5 119.1 1301.9 120.3 1305.3 122.1C1308.6 124 1312.2 126.6 1314.7 128.9C1317.1 131.1 1318.7 133.4 1319.7 135.6C1320.7 137.9 1321 140.2 1320.7 142.4C1320.3 144.7 1319.2 147.3 1317.6 149.2C1316 151 1313.4 152.1 1310.9 153.5C1308.5 154.9 1305.6 156 1302.9 157.5C1300.2 159.1 1297.1 162.3 1294.6 162.9C1292.1 163.6 1290.1 163.4 1287.9 161.3C1285.7 159.3 1283.2 154.3 1281.2 150.5C1279.2 146.7 1277.2 142.4 1275.8 138.4C1274.5 134.3 1273.2 130.2 1273.2 126.2C1273.2 122.2 1272.3 115.7 1275.8 114.3Z" fill="#A9A233" filter="url(#blur3)"/>
<rect x="1172" y="108" width="150" height="105" fill="url(#spkOr)"/></g>
<path d="M1269.2 139.1l0.8 0.3M1277.2 144.1l0.9 -1.1M1258.5 145.6l0.6 -0.7M1273 154.6l0.8 -0.8M1280.6 157.4l1.3 0.2M1293.7 136.7l0.8 0.8M1262.5 138.4l1.7 -0.7M1263.9 149l1.2 0.4M1277.6 137.1l0.6 -0.8M1282.6 145.5l1.4 -0.6M1274.1 142.5l1.4 1M1266.3 148.8l1.9 0.1M1284.4 142.3l0.5 0.8M1272.8 153l1.1 -0.9M1258.6 151l1.3 0.8M1289.9 142.9l1.4 0.6M1278.8 146.1l1.5 1.3M1274.9 150.9l1 -1.3M1281.4 158.5l0.9 0.7M1271.6 151l0.7 -1.2M1263.4 138.3l1.1 -1.4M1262 141.3l1.9 -0.4M1260.1 146l1.9 0.2M1287.8 155.5l1.2 -0.6M1270.5 156l0.6 0.8M1263.7 141l1.2 -0.7M1279.2 141.7l0.7 -1.1M1270.9 148.7l1 1.4M1276.4 149.8l0.8 0.3M1290.8 153.6l1.3 1.3M1271.8 144.8l1.1 -1.2M1259.4 137.2l0.8 -0.6M1269.8 136.9l0.5 -0.8M1260.9 144l1 -1.6M1274 162.2l1.1 -0.6M1269.3 161.6l1.5 1.4M1271.2 170.4l0.6 -0.7M1268.9 165.1l0.8 0.6M1262.9 181.8l1 0.1M1272.6 159.3l2 0.1M1278.6 175.6l1.1 -0.6M1265.6 177.4l1.8 0.1M1268.6 164.1l1.6 1.2M1278.4 178.2l1.4 1.1M1266.7 171.2l0.8 -0.2M1263 165.4l1.5 -0.8M1280.4 169.5l1.3 1.6M1280.4 167.5l0.9 -0.6M1266.1 163.6l1.9 0.5M1278.2 170.3l1.7 0.6M1186.2 171.1l1.2 1.4M1196.9 166.1l1.4 -1.1M1190.2 174.9l0.7 1.1M1191.3 178.8l0.9 0.5M1186.9 157.3l1.2 1.4M1187.2 175.6l0.9 1.4M1190.5 168l0.6 -0.6M1200.4 170.8l2 0.1M1217.4 181.2l0.8 0.7M1215 173.4l1.3 -0.8M1215.1 175.1l1.4 -1.4M1216.3 175.6l1.9 0.3" stroke="#fff" stroke-width="1.1" stroke-linecap="round" fill="none" opacity="0.9"/>
<path d="M1239 208.9L1234.4 218.1L1229 227.6L1223.6 237L1218.3 245.4L1211.9 253.5L1206.9 258" fill="none" stroke="#E062CC" stroke-width="3.2" stroke-linecap="round" stroke-linejoin="round"/>
<path d="M1190.2 264.3C1190.9 262.3 1195.5 259 1198.2 257.6C1200.9 256.1 1204.7 255.1 1206.5 255.7C1208.3 256.2 1209.6 259 1209.2 261.1C1208.7 263.1 1205.1 265.6 1203.8 268.1C1202.6 270.6 1202.5 275 1201.7 276.2C1200.9 277.4 1200.3 276.2 1199 275.1C1197.8 274 1195.7 271.5 1194.2 269.7C1192.7 267.9 1189.5 266.3 1190.2 264.3Z" fill="#E062CC" stroke="#E062CC" stroke-width="0.5" stroke-linejoin="round"/>
<path d="M1210.9 197.1h0M1227 201.9h0M1214.3 208.6h0M1219.6 250.5h0M1223 255.9h0M1197.5 256.6h0M1212.9 262.7h0M1221 189.7h0M1228.3 194.4h0M1206.2 200.5h0" fill="none" stroke="#E062CC" stroke-width="1.8" stroke-linecap="round"/>
<path d="M1133.3 253.5L1125.9 260.8L1119.3 266.7L1113.2 271.5" fill="none" stroke="#918EF8" stroke-width="2.6" stroke-linecap="round" stroke-linejoin="round"/>
<path d="M1114.2 271.1C1114.7 271.5 1113.1 271.3 1113.2 272.7C1113.4 274.1 1114.5 277.2 1115.2 279.5C1116 281.7 1116.8 284 1117.9 286.3C1119 288.5 1120.4 290.8 1121.9 293C1123.5 295.3 1125.5 297.9 1127.3 299.8C1129.1 301.7 1131.1 303.9 1132.6 304.5C1134.2 305.1 1135.5 303 1136.7 303.1C1137.8 303.3 1139.3 304.6 1139.3 305.4C1139.3 306.3 1138.2 306.8 1136.7 308.1C1135.1 309.5 1132.2 311.3 1130 313.6C1127.7 315.8 1125.5 319.2 1123.3 321.7C1121 324.1 1118.8 326.2 1116.6 328.4C1114.3 330.7 1111.9 333.5 1109.9 335.2C1107.9 336.8 1106.1 338.2 1104.5 338.4C1103 338.6 1101.9 337.7 1100.5 336.3C1099.2 334.8 1097.9 332.4 1096.5 329.5C1095.1 326.6 1093.1 322.3 1092 318.7C1090.8 315.1 1090.2 311.5 1089.8 307.9C1089.5 304.3 1089.7 298.9 1089.8 297.1C1089.9 295.3 1090.2 298.5 1090.6 297.2C1091.1 295.8 1091.5 291.7 1092.5 289C1093.5 286.3 1094.7 283.4 1096.5 280.9C1098.3 278.5 1101 276 1103.2 274.2C1105.4 272.4 1108.1 270.8 1109.9 270.3C1111.7 269.7 1113.6 270.7 1114.2 271.1Z" fill="#918EF8" stroke="#918EF8" stroke-width="0.5" stroke-linejoin="round"/>
<path d="M1133.3 253.5h0" fill="none" stroke="#8DB32F" stroke-width="3.2" stroke-linecap="round"/>
<path d="M1329.4 210.8C1329.8 209.9 1331.4 208.8 1332.7 210C1334.1 211.2 1336 215.2 1337.4 218.1C1338.9 221 1340.1 224.4 1341.4 227.6C1342.8 230.7 1344.9 234.8 1345.4 237C1346 239.3 1345.6 240.5 1344.9 241.1C1344.2 241.7 1342.7 241.9 1341.4 240.5C1340.2 239.2 1338.7 235.8 1337.4 233C1336.1 230.1 1334.6 226.4 1333.4 223.5C1332.2 220.6 1330.7 217.5 1330 215.4C1329.4 213.3 1328.9 211.7 1329.4 210.8Z" fill="#72C2DC" stroke="#72C2DC" stroke-width="0.5" stroke-linejoin="round"/>
<path d="M1326.7 226.2h0M1331.4 228.9h0" fill="none" stroke="#8DB32F" stroke-width="1.8" stroke-linecap="round"/>
<path d="M1379.1 180.2C1381.3 179.8 1386.7 180 1388.5 181.6C1390.2 183.2 1390 187.2 1389.8 189.7C1389.6 192.2 1388.2 194 1387.4 196.5C1386.5 198.9 1385.6 201.9 1384.7 204.6C1383.8 207.3 1382.8 210.7 1382 212.7C1381.2 214.6 1380.5 216.6 1379.9 216.2C1379.3 215.7 1378.7 212.3 1378.6 210C1378.4 207.6 1379.7 203.7 1379.1 202.1C1378.5 200.6 1376.6 201.2 1375.1 200.8C1373.5 200.3 1370.9 200.3 1369.7 199.4C1368.5 198.6 1367.4 197.5 1367.8 195.9C1368.3 194.3 1371.1 191.6 1372.4 189.7C1373.6 187.8 1374.2 185.9 1375.3 184.3C1376.5 182.7 1376.9 180.7 1379.1 180.2Z" fill="#78C136" stroke="#78C136" stroke-width="0.5" stroke-linejoin="round"/>
<path d="M1376.4 178.4h0M1390.5 190.4h0" fill="none" stroke="#78C136" stroke-width="1.8" stroke-linecap="round"/>
<path d="M1470.1 246.7L1464.7 252.1L1460.7 261.3L1452.7 269.4L1444.7 277.6L1436.6 285.7L1428.6 293.8L1420.6 300.5L1412.5 303.8" fill="none" stroke="#DF7268" stroke-width="2.4" stroke-linecap="round" stroke-linejoin="round"/>
<path d="M1460.7 156.7C1462.7 156.8 1465.2 157.6 1467.4 158.6C1469.6 159.6 1472.1 161.1 1474.1 162.7C1476.1 164.3 1477.7 166.1 1479.5 168.1C1481.2 170.1 1483.4 172.6 1484.8 174.8C1486.2 177.1 1486.8 178.9 1487.8 181.6C1488.7 184.3 1489.4 187.5 1490.4 191.1C1491.5 194.7 1493.1 198.9 1494.2 203.2C1495.3 207.5 1496.1 212.2 1496.9 216.7C1497.7 221.2 1498.4 225.7 1499 230.3C1499.6 234.8 1500 239.3 1500.3 243.8C1500.7 248.3 1501.1 253 1501.1 257.3C1501.1 261.6 1500.8 265.8 1500.3 269.4C1499.9 273.1 1499.2 276.3 1498.2 278.9C1497.2 281.5 1495.8 284.2 1494.5 285.1C1493.1 286.1 1491.6 285.6 1490.2 284.6C1488.8 283.5 1487.7 281.4 1486.2 278.9C1484.6 276.4 1482.5 272.8 1480.8 269.4C1479.1 266.1 1477.2 261.8 1475.7 258.6C1474.2 255.5 1472.9 252.6 1471.7 250.5C1470.5 248.5 1469.7 247.8 1468.8 246.5C1467.8 245.1 1467.4 244.4 1466.1 242.4C1464.7 240.4 1462.7 237.5 1460.7 234.3C1458.7 231.2 1456.3 227.1 1454 223.5C1451.8 219.9 1449.3 216.3 1447.3 212.7C1445.4 209.1 1443.5 205.5 1442.3 201.9C1441.1 198.3 1440.4 194.7 1440.1 191.1C1439.8 187.5 1439.9 183.9 1440.7 180.2C1441.4 176.6 1443.1 172.4 1444.7 169.4C1446.2 166.5 1448.2 164.6 1450 162.7C1451.8 160.8 1453.6 159.1 1455.4 158.1C1457.2 157.1 1458.7 156.6 1460.7 156.7Z" fill="#DF7268" stroke="#DF7268" stroke-width="0.5" stroke-linejoin="round"/>
<path d="M1486.2 178.9C1487 178.6 1490.4 181.3 1492.8 181.6C1495.3 181.9 1499.2 180.7 1500.9 180.9C1502.6 181.1 1503.5 182.2 1503 183C1502.6 183.7 1500.3 185.3 1498.2 185.7C1496.1 186 1492 185.4 1490.2 185C1488.4 184.6 1488.2 184.2 1487.5 183.2C1486.8 182.2 1485.3 179.2 1486.2 178.9Z" fill="#DF7268" stroke="#DF7268" stroke-width="0.5" stroke-linejoin="round"/>
<path d="M1222.9 304C1222.8 303 1224 300.9 1225.2 299.4C1226.5 297.8 1229.1 295.8 1230.6 294.8C1232.1 293.7 1232.8 293.2 1234.4 293.2C1236.1 293.2 1238.6 294.2 1240.5 294.8C1242.4 295.3 1244.1 295.9 1245.9 296.3C1247.7 296.7 1249.3 297.1 1251.2 297.1C1253.1 297.1 1255.6 296.8 1257.4 296.3C1259.1 295.8 1260.5 294.9 1261.9 294C1263.3 293.1 1264.6 292.2 1265.8 290.9C1266.9 289.6 1267.9 287.7 1268.8 286.3C1269.7 284.8 1270.5 282.1 1271.1 282.4C1271.8 282.7 1272.6 286 1272.6 287.8C1272.6 289.6 1271.9 291.8 1271.1 293.2C1270.4 294.6 1269.3 295.5 1268.1 296.3C1266.8 297.1 1265.3 297.3 1263.5 297.8C1261.7 298.4 1259.4 298.9 1257.4 299.4C1255.3 299.9 1253.3 300.8 1251.2 300.9C1249.2 301.1 1247.2 300.4 1245.1 300.2C1243.1 299.9 1240.8 299.4 1239 299.4C1237.2 299.4 1235.9 299.5 1234.4 300.2C1232.9 300.8 1231.2 302.4 1229.8 303.3C1228.4 304.2 1227.1 305.4 1226 305.6C1224.8 305.7 1223.1 305.1 1222.9 304Z" fill="#66C78E" stroke="#66C78E" stroke-width="0.5" stroke-linejoin="round"/>
<path d="M1271.9 296.3C1272.8 296.2 1275 297.1 1275.3 298.6C1275.6 300.2 1274.4 303.4 1273.8 305.6C1273.2 307.8 1272.4 309.7 1271.5 311.7C1270.6 313.8 1269.5 316.1 1268.4 317.9C1267.4 319.7 1266.4 321 1265.4 322.6C1264.4 324.1 1263.3 325.6 1262.3 327.2C1261.3 328.7 1260.3 330.3 1259.3 331.8C1258.2 333.4 1257.2 334.7 1256.2 336.5C1255.2 338.3 1254.2 340.6 1253.1 342.6C1252.1 344.7 1251.1 346.8 1250.1 348.8C1249.1 350.9 1247.9 352.9 1247 355C1246.1 357.1 1245.5 359.1 1244.7 361.2C1244 363.2 1243.1 365.3 1242.4 367.4C1241.8 369.4 1241.3 371.5 1240.9 373.5C1240.5 375.6 1240.4 377.7 1239.9 379.7C1239.4 381.8 1238.5 384.2 1237.9 385.9C1237.2 387.6 1236.7 389.2 1235.9 389.7C1235.2 390.3 1234.1 389.6 1233.3 389C1232.4 388.3 1231.4 386.9 1231 385.9C1230.5 384.9 1230.5 384.3 1230.6 382.8C1230.6 381.3 1230.8 378.7 1231.4 376.6C1231.9 374.6 1232.9 372.5 1233.6 370.4C1234.4 368.4 1235.2 366.3 1235.9 364.3C1236.7 362.2 1237.5 360.1 1238.2 358.1C1239 356 1239.8 354 1240.5 351.9C1241.3 349.8 1242.1 347.8 1242.8 345.7C1243.6 343.7 1244.2 341.6 1245.1 339.6C1246 337.5 1247 335.3 1248.2 333.4C1249.3 331.4 1250.6 329.6 1252 328C1253.4 326.3 1255.1 325 1256.6 323.3C1258.1 321.7 1259.8 319.9 1261.2 317.9C1262.6 316 1263.9 313.8 1265 311.7C1266.1 309.7 1267.2 307.6 1268.1 305.6C1268.9 303.5 1269.3 300.9 1270 299.4C1270.6 297.8 1271 296.4 1271.9 296.3Z" fill="#6DC9AD" stroke="#6DC9AD" stroke-width="0.5" stroke-linejoin="round"/>
<path d="M1268.8 286.3C1268.6 283.4 1269.7 281.8 1270.4 280.1C1271 278.4 1271.4 277.2 1272.6 276.2C1273.9 275.3 1276 274.8 1278 274.3C1280 273.8 1282.7 273 1284.9 273.1C1287.1 273.3 1289.5 274.2 1291 275.1C1292.5 276 1292.9 277.2 1294.1 278.5C1295.2 279.9 1296.6 281.6 1297.9 283.2C1299.2 284.7 1300.3 286.1 1301.7 287.8C1303.1 289.5 1304.8 291.7 1306.3 293.2C1307.8 294.8 1309.1 295.8 1310.9 297.1C1312.7 298.4 1315 299.8 1317 300.9C1319 302.1 1321.1 303.1 1323.1 304C1325.2 304.9 1327.5 305.8 1329.2 306.3C1331 306.9 1332 307.6 1333.8 307.5C1335.6 307.4 1337.9 305.6 1339.9 305.6C1342 305.5 1344 306.7 1346.1 307.1C1348.1 307.5 1350.1 308 1352.2 307.9C1354.2 307.8 1356.4 306.9 1358.3 306.3C1360.2 305.8 1361.9 305.1 1363.7 304.4C1365.4 303.8 1367.6 301.8 1369 302.5C1370.4 303.2 1372.6 306.5 1372.1 308.7C1371.6 310.8 1368.2 313.7 1366 315.6C1363.7 317.5 1360.9 319.5 1358.3 320.2C1355.8 321 1353.2 320.2 1350.7 319.9C1348.1 319.5 1345.6 318.8 1343 318.3C1340.5 317.8 1337.7 317.6 1335.4 316.8C1333.1 315.9 1331.3 314.2 1329.2 313.3C1327.2 312.4 1325.2 312.2 1323.1 311.4C1321.1 310.6 1319 309.5 1317 308.5C1315 307.5 1312.9 306.6 1310.9 305.4C1308.8 304.3 1306.8 302.9 1304.8 301.6C1302.7 300.2 1300.7 298.4 1298.7 297.1C1296.6 295.7 1294.6 294.2 1292.5 293.4C1290.5 292.5 1287.9 291.8 1286.4 291.8C1284.9 291.8 1284.4 292.5 1283.4 293.2C1282.3 294 1281.6 295.5 1280.3 296.3C1279 297.1 1277.1 297.7 1275.7 297.8C1274.3 298 1273 299 1271.9 297.1C1270.7 295.1 1269.1 289.1 1268.8 286.3Z" fill="#70C4CF" stroke="#70C4CF" stroke-width="0.5" stroke-linejoin="round"/>
<path d="M1285.6 296.7h0M1292.2 307.9h0M1275.3 317.2h0M1270 321.4h0M1237.9 306h0M1245.5 304.6h0M1249.7 304h0M1254.3 302.5h0M1265.8 332.6h0M1261.9 334.9h0M1262.7 337.2h0M1257.4 345.7h0M1254.3 347.3h0M1252.8 350.4h0M1251.2 356.5h0M1248.2 359.6h0M1249.7 362.7h0M1245.1 367.4h0M1243.6 363.5h0M1242.1 375.1h0M1264.2 329.5h0M1300.2 298.6h0M1305.5 304h0M1310.1 308.7h0M1313.9 309.4h0M1318.5 313.3h0M1320.1 308.7h0M1324.7 312.5h0M1292.5 297.5h0M1274.2 324.1h0M1276.5 324.5h0" fill="none" stroke="#6DC9AD" stroke-width="1.6" stroke-linecap="round"/>
<path d="M1269.2 337.6L1280.3 337.6" fill="none" stroke="#8497F0" stroke-width="2.6" stroke-linecap="round" stroke-linejoin="round"/>
<path d="M1273.8 324.5L1280.3 331.8L1284.1 338L1288.7 341.9" fill="none" stroke="#8497F0" stroke-width="2.6" stroke-linecap="round" stroke-linejoin="round"/>
<path d="M1287.9 330.7L1284.1 336.5" fill="none" stroke="#8497F0" stroke-width="2.6" stroke-linecap="round" stroke-linejoin="round"/>
<path d="M1284.9 342.6L1291.8 342.6" fill="none" stroke="#8497F0" stroke-width="2.6" stroke-linecap="round" stroke-linejoin="round"/>
<path d="M1284.9 345.7L1291.8 347.3" fill="none" stroke="#8497F0" stroke-width="2.6" stroke-linecap="round" stroke-linejoin="round"/>
<path d="M1313.6 346.5h0" fill="none" stroke="#78C043" stroke-width="3.4" stroke-linecap="round"/>
<path d="M1180.8 318.1C1182.2 318.1 1183.3 318.6 1184.8 319.5C1186.4 320.4 1188.4 322.2 1190.2 323.6C1192 324.9 1193.8 326.4 1195.5 327.6C1197.3 328.8 1198.9 329.9 1200.9 330.9C1202.9 331.8 1205.6 333 1207.6 333.6C1209.6 334.1 1212 333.9 1212.9 334.2C1213.8 334.6 1214.1 335.5 1212.9 335.7C1211.8 336 1208.5 335.6 1206.2 335.7C1204 335.8 1201.8 335.8 1199.6 336.3C1197.3 336.7 1194.9 337.6 1192.9 338.4C1190.9 339.2 1189.3 340.6 1187.5 341.1C1185.7 341.7 1183.9 341.9 1182.2 341.7C1180.4 341.4 1178.4 340.9 1176.8 339.8C1175.2 338.6 1173.7 336.6 1172.8 334.9C1171.9 333.2 1171.4 331.3 1171.4 329.5C1171.4 327.7 1172 325.7 1172.8 324.1C1173.6 322.5 1174.9 321 1176.3 320C1177.6 319 1179.4 318.2 1180.8 318.1Z" fill="#E25DBC" stroke="#E25DBC" stroke-width="0.5" stroke-linejoin="round"/>
<path d="M1175.5 342.5h0M1173.6 346.5h0M1172.3 350.6h0" fill="none" stroke="#E25DBC" stroke-width="2" stroke-linecap="round"/>
<path d="M1112.3 407.3C1112.5 406.8 1113.2 406 1114.2 406.5C1115.1 407.1 1116.8 409.1 1118.2 410.6C1119.5 412.1 1121.3 414.2 1122.2 415.5C1123 416.7 1123.5 417.7 1123.3 418.2C1123 418.6 1121.9 418.8 1120.9 418.2C1119.8 417.5 1118.2 415.5 1116.8 414.1C1115.5 412.8 1113.6 411.2 1112.8 410.1C1112.1 408.9 1112.1 407.9 1112.3 407.3Z" fill="#C6992F" stroke="#C6992F" stroke-width="0.5" stroke-linejoin="round"/>
<path d="M1125.9 420.9h0M1128.1 422.2h0" fill="none" stroke="#918EF8" stroke-width="1.8" stroke-linecap="round"/>
<path d="M1131.3 443.1C1131.1 442.5 1134.9 443.8 1136.7 445C1138.4 446.3 1140.2 448.5 1142 450.4C1143.8 452.4 1145.6 454.7 1147.4 456.7C1149.1 458.6 1150.9 460.6 1152.7 462.1C1154.5 463.5 1156.7 465.4 1158.1 465.3C1159.4 465.2 1160.5 462.8 1160.7 461.3C1161 459.7 1160.3 457.6 1159.4 456.1C1158.6 454.6 1156.6 453.5 1155.7 452.1C1154.7 450.6 1153.5 448.4 1153.5 447.5C1153.5 446.5 1154.5 446.1 1155.7 446.4C1156.9 446.7 1159 448 1160.7 449.4C1162.5 450.8 1164.8 453.2 1166.1 454.8C1167.4 456.3 1167.9 458.6 1168.8 458.5C1169.7 458.5 1170.1 455.7 1171.4 454.5C1172.8 453.3 1175 452 1176.8 451.3C1178.6 450.5 1180.4 450.3 1182.2 449.9C1183.9 449.5 1187 448.5 1187.5 449.1C1188 449.6 1186.2 451.3 1185.1 453.1C1184 454.9 1182.2 457.2 1181.1 459.9C1180 462.6 1179.2 466.2 1178.4 469.4C1177.6 472.5 1176.9 475.4 1176.3 478.8C1175.6 482.2 1174.7 486 1174.4 489.6C1174.1 493.2 1174.3 497.1 1174.4 500.4C1174.5 503.8 1175.2 507.3 1174.9 509.9C1174.7 512.5 1174 514.7 1173.1 515.9C1172.1 517 1170.8 517.1 1169 516.7C1167.3 516.3 1164.4 515 1162.3 513.4C1160.3 511.9 1158.3 509.6 1157 507.5C1155.7 505.3 1154.8 504.3 1154.3 500.4C1153.8 496.6 1154.3 488.7 1154.1 484.2C1153.8 479.7 1153.4 476.6 1152.7 473.4C1152 470.3 1151.4 468 1150 465.3C1148.7 462.6 1146.7 459.9 1144.7 457.2C1142.7 454.5 1140.2 451.4 1138 449.1C1135.8 446.7 1131.5 443.8 1131.3 443.1Z" fill="#C6992F" stroke="#C6992F" stroke-width="0.5" stroke-linejoin="round"/>
<path d="M1124.3 443.7h0" fill="none" stroke="#D08A3A" stroke-width="3.2" stroke-linecap="round"/>
<rect x="1120" y="440" width="70" height="100" fill="url(#spkEpi)" clip-path="url(#clipEpiL)"/>
<path d="M1351.4 332.4h0M1354.5 324.1h0M1353.5 325h0M1357.3 336.2h0M1348.6 352.6h0M1349.9 339.2h0M1345.1 325.2h0M1351.3 357.5h0M1343.8 353.9h0M1345.3 323.4h0M1349.8 335h0M1343.7 324.2h0M1352.6 323.2h0M1346.6 355.9h0M1342.6 360.1h0M1345.5 338h0M1346.2 350h0M1355 343h0M1345.7 343h0M1353.7 328.1h0M1346.7 339h0M1357 324.2h0M1346.3 348.2h0M1349.6 331h0M1354.6 327.5h0M1351.2 325.1h0M1346.2 324.9h0M1350 349.9h0M1345.8 355.5h0M1341.4 356.6h0M1342.9 360.7h0M1347.4 353h0M1350.9 328.9h0M1348.3 345.5h0M1353.4 323.8h0M1351.5 330.5h0M1345.4 344.2h0M1348.9 332.9h0M1348.7 350.8h0M1347.4 356.7h0M1349.1 348.9h0M1341.6 351.6h0M1354.3 327.2h0M1346.6 330.5h0M1354.2 334.3h0M1352.1 331.6h0M1346.6 333.9h0M1345.1 342.8h0M1354.1 334.4h0M1345.3 324h0M1351.9 339h0M1344.6 335.2h0M1348.4 329.3h0M1351.8 330.1h0M1346.3 336.4h0M1353.5 328.8h0M1346.4 328.2h0M1355.9 334.5h0M1349.5 341.1h0M1352.6 333.3h0M1353.4 355.7h0M1354.3 338.9h0M1352.2 345.5h0M1351.4 331h0M1351.6 333.2h0M1340.5 356.2h0M1348 336.1h0M1348.6 353.5h0M1340.9 357.3h0M1345.8 355.3h0M1343.5 361.3h0M1348.5 347.2h0M1351.2 338.6h0M1344.3 325.8h0M1345.1 345.9h0M1346.8 361.2h0M1351.2 358.8h0M1350 348.8h0M1350.6 323.5h0M1355 345.6h0" fill="none" stroke="#70B8DC" stroke-width="1.7" stroke-linecap="round"/>
<path d="M1359 317.3C1359.5 315.3 1360.3 313.7 1361.7 311.9C1363 310.1 1365.3 308.2 1367 306.5C1368.8 304.9 1370.4 303.1 1372.4 301.9C1374.4 300.7 1376.6 299.7 1379.1 299.2C1381.5 298.8 1384.4 299 1387.1 299.1C1389.8 299.2 1392.7 299.2 1395.1 299.8C1397.6 300.3 1399.8 301.6 1401.8 302.5C1403.8 303.4 1405.5 304.6 1407.2 305.2C1408.9 305.8 1411.1 304.6 1411.9 306C1412.7 307.3 1412 310.5 1411.9 313.3C1411.8 316.1 1411.1 319.4 1411.2 322.7C1411.3 326.1 1412.2 330 1412.5 333.6C1412.9 337.2 1412.9 340.8 1413.2 344.4C1413.5 348 1413.9 351.8 1414.6 355.2C1415.2 358.6 1416.2 361.7 1417.2 364.6C1418.2 367.6 1419.8 370.3 1420.6 372.7C1421.3 375.2 1421.8 377.3 1421.6 379.5C1421.5 381.8 1421 384 1419.9 386.3C1418.8 388.5 1417.1 391.1 1415.2 393C1413.3 394.9 1411 396.5 1408.5 397.8C1406.1 399 1403.2 399.3 1400.5 400.5C1397.8 401.6 1394.5 403 1392.5 404.5C1390.5 406 1389.6 407.1 1388.5 409.2C1387.3 411.4 1386.4 414.4 1385.8 417.3C1385.2 420.3 1384.9 423.7 1384.7 426.8C1384.5 430 1384.8 433.1 1384.7 436.3C1384.7 439.4 1384.5 443 1384.4 445.7C1384.4 448.4 1385.3 451 1384.2 452.5C1383.1 454 1379.5 454.3 1377.7 454.5C1376 454.7 1375.1 453.8 1373.7 453.8C1372.4 453.8 1370.8 454.5 1369.7 454.5C1368.6 454.5 1367.8 454.6 1367 453.8C1366.3 453.1 1365.7 451.2 1365 449.8C1364.4 448.3 1363.9 446.7 1363 445.1C1362.1 443.4 1360.9 441.2 1359.7 439.6C1358.5 438.1 1356.9 436.6 1355.7 435.6C1354.4 434.6 1353.8 433.3 1352.3 433.6C1350.9 433.8 1349 435.7 1347 436.9C1345 438.2 1342.7 439.5 1340.3 441C1337.8 442.5 1334.9 444 1332.2 445.7C1329.6 447.4 1326.8 449.2 1324.2 451.1C1321.6 453.1 1319 455 1316.9 457.2C1314.7 459.5 1313.2 462.9 1311.5 464.7C1309.8 466.4 1308.2 465.9 1306.8 468C1305.4 470.1 1304.1 474.5 1303.1 477.5C1302.1 480.4 1301.6 482.7 1300.8 485.6C1300 488.5 1299 492.1 1298.1 495C1297.2 498 1296.3 500.4 1295.4 503.1C1294.5 505.9 1293.7 509.1 1292.8 511.3C1291.9 513.4 1291.3 515.5 1290.1 516C1288.9 516.5 1287.3 515 1285.4 514.2C1283.5 513.5 1277.8 511.3 1278.7 511.5C1279.6 511.7 1289.3 514.9 1290.6 515.3C1291.9 515.8 1288.3 514.9 1286.5 514.2C1284.8 513.6 1281.9 512.9 1279.9 511.5C1277.8 510.2 1276 508.1 1274.5 506.1C1273 504.1 1271.7 501.7 1270.8 499.4C1269.8 497.1 1269 494.9 1268.7 492.3C1268.5 489.8 1268.9 486.8 1269.1 484.2C1269.4 481.6 1269.4 479 1270.1 476.8C1270.8 474.5 1271.8 472.9 1273.2 470.7C1274.6 468.6 1276.7 466.2 1278.5 464C1280.3 461.7 1282.1 459.5 1283.9 457.2C1285.7 454.9 1287.7 452.9 1289.2 450.4C1290.8 448 1292.1 445 1293.2 442.3C1294.4 439.6 1295 437.2 1295.9 434.2C1296.8 431.3 1297.7 427.9 1298.6 424.8C1299.5 421.6 1300.4 418.5 1301.3 415.3C1302.2 412.1 1303.7 406.6 1303.9 405.8C1304.2 405.1 1302.4 411.4 1302.6 410.6C1302.8 409.8 1304.2 404.3 1305.3 401.1C1306.4 398 1307.7 394.6 1309.3 391.7C1310.9 388.7 1312.6 386 1314.7 383.6C1316.7 381.1 1318.9 378.8 1321.3 376.8C1323.8 374.8 1326.7 373 1329.4 371.4C1332.1 369.8 1334.7 368.7 1337.4 367.3C1340.1 366 1342.7 364.6 1345.4 363.3C1348.1 361.9 1351.4 360.8 1353.7 359.2C1355.9 357.7 1357.9 356.5 1359 353.8C1360.1 351.1 1360.2 346.6 1360.3 343C1360.5 339.4 1359.9 335.4 1359.7 332.2C1359.5 329.1 1359.1 326.6 1359 324.1C1358.9 321.6 1358.6 319.4 1359 317.3Z" fill="#72B2E9" stroke="#72B2E9" stroke-width="0.5" stroke-linejoin="round"/>
<path d="M1412.5 394.4C1414.2 394.4 1415.8 394.9 1417.2 396.4C1418.7 397.9 1420 400.8 1421.2 403.2C1422.5 405.5 1423.6 407.8 1424.6 410.6C1425.6 413.4 1426.6 416.9 1427.3 420.1C1427.9 423.2 1428.6 426.7 1428.6 429.5C1428.6 432.3 1428.3 434.8 1427.3 436.9C1426.3 439.1 1424.4 441 1422.6 442.4C1420.8 443.7 1418.5 444.4 1416.6 445.1C1414.7 445.7 1412.3 446.6 1411.2 446.4C1410.1 446.2 1409.6 445.1 1409.9 443.7C1410.1 442.4 1411.9 440.4 1412.5 438.3C1413.2 436.2 1413.8 433.7 1413.9 430.9C1414 428 1413.7 424.6 1413.2 421.4C1412.8 418.2 1412.1 414.9 1411.2 411.9C1410.3 409 1409.1 406 1407.9 403.8C1406.6 401.7 1404 400.3 1403.8 399.1C1403.7 397.9 1405.7 397.2 1407.2 396.4C1408.6 395.6 1410.9 394.4 1412.5 394.4Z" fill="#72B2E9" stroke="#72B2E9" stroke-width="0.5" stroke-linejoin="round"/>
<g clip-path="url(#clipMacL)">
<path d="M1350.8 337.5C1351.3 334.4 1353.9 328.6 1356 324.5C1358.2 320.4 1361 316.1 1363.8 312.8C1366.6 309.6 1368.6 306.1 1372.9 305C1377.2 304 1383.3 305.7 1389.7 306.3C1396.2 307 1407.7 306.3 1411.8 308.9C1415.9 311.5 1414 317.1 1414.4 321.9C1414.8 326.7 1413.8 332.7 1414.4 337.5C1415.1 342.2 1417.4 346.1 1418.3 350.4C1419.2 354.8 1422.2 362.6 1419.6 363.4C1417 364.3 1408.8 357.8 1402.7 355.6C1396.7 353.5 1389.7 352.2 1383.3 350.4C1376.8 348.7 1368.8 346.6 1363.8 345.3C1358.8 344 1355.6 344 1353.4 342.7C1351.3 341.4 1350.4 340.5 1350.8 337.5Z" fill="#70B8DC" filter="url(#blur3)"/>
<path d="M1376.8 407.5C1380 406.9 1386.3 405.4 1388.5 406.2C1390.6 407.1 1390.4 410.6 1389.7 412.7C1389.1 414.9 1385.4 417 1384.6 419.2C1383.7 421.4 1384.8 423.3 1384.6 425.7C1384.3 428.1 1383.3 430.9 1383.3 433.5C1383.3 436.1 1384.2 438.2 1384.6 441.3C1384.9 444.3 1386 448.9 1385.2 451.6C1384.5 454.4 1381.9 457 1380 457.5C1378.2 458 1376 455.9 1374.2 454.5C1372.3 453.1 1370.1 451.3 1369 449.1C1367.9 446.8 1368.6 443.4 1367.7 441.3C1366.8 439.1 1365.3 437.6 1363.8 436.1C1362.3 434.6 1360.8 433.1 1358.6 432.2C1356.4 431.3 1353.4 430.9 1350.8 430.9C1348.2 430.9 1345.2 431.3 1343 432.2C1340.9 433.1 1339.6 436.1 1337.8 436.3C1336.1 436.6 1332.7 435.1 1332.7 433.7C1332.7 432.4 1335.7 429.6 1337.8 428.3C1340 427 1343 427.2 1345.6 425.7C1348.2 424.2 1350.8 420.9 1353.4 419.2C1356 417.5 1358.6 416.8 1361.2 415.3C1363.8 413.8 1366.4 411.4 1369 410.1C1371.6 408.8 1373.5 408.2 1376.8 407.5Z" fill="#C674F0" filter="url(#blur2)"/>
<path d="M1405.3 425.7C1407 424.4 1410.5 423.1 1413.1 423.1C1415.7 423.1 1418.5 424 1420.9 425.7C1423.3 427.4 1426.7 431.3 1427.4 433.5C1428 435.6 1426.7 437.8 1424.8 438.7C1422.8 439.5 1418.5 439.1 1415.7 438.7C1412.9 438.2 1410.1 437.4 1407.9 436.1C1405.8 434.8 1403.2 432.6 1402.7 430.9C1402.3 429.2 1403.6 427 1405.3 425.7Z" fill="#A791F0" filter="url(#blur2)" opacity="0.8"/>
<rect x="1330" y="300" width="120" height="220" fill="url(#spkMac)"/>
</g>
<path d="M1335 302.7C1336 301.7 1339.5 300.5 1340.7 301.1C1341.9 301.8 1342.4 305.2 1342 306.6C1341.6 307.9 1339.4 309.1 1338.1 309.2C1336.9 309.3 1335 308.2 1334.5 307.1C1334 306 1334 303.7 1335 302.7Z" fill="#D47A34"/>
<path d="M1380.4 454.5C1380.9 454.3 1383.9 455.8 1385.1 457.2C1386.3 458.5 1386.8 460.9 1387.8 462.6C1388.8 464.3 1390 465.9 1391.1 467.3C1392.2 468.8 1394 469.5 1394.5 471.4C1395 473.3 1394.1 476.5 1394.2 478.8C1394.4 481.2 1394.8 483.3 1395.4 485.6C1396.1 487.8 1397 490.2 1398.1 492.3C1399.2 494.5 1400.9 496.9 1401.8 498.4C1402.8 500 1403.9 500.7 1403.8 501.5C1403.8 502.4 1402.5 503.6 1401.6 503.4C1400.6 503.2 1399.3 502.1 1398.1 500.4C1396.9 498.8 1395.6 496.2 1394.5 493.7C1393.4 491.2 1392.3 488.3 1391.4 485.6C1390.5 482.9 1389.8 479.9 1389.3 477.5C1388.7 475 1388.7 472.9 1387.9 470.7C1387.2 468.6 1385.7 466.7 1384.7 464.6C1383.7 462.6 1382.7 460.2 1382 458.5C1381.3 456.9 1379.9 454.7 1380.4 454.5Z" fill="#6EBE46" stroke="#6EBE46" stroke-width="0.5" stroke-linejoin="round"/>
<path d="M1397.8 426.8h0M1401.8 424.1h0M1405.9 422.1h0M1408.5 425.5h0M1399.2 430.9h0M1403.8 429.5h0M1407.2 432.2h0M1396.5 434.9h0M1401.2 436.3h0M1405.9 438.3h0M1391.1 436.9h0M1387.1 436.3h0M1393.8 441h0M1399.2 441.7h0M1403.2 444.4h0M1400.5 448.4h0M1409.9 434.9h0M1407.2 428.2h0M1403.2 404.5h0M1406.5 409.2h0M1408.5 401.1h0M1388.5 441.7h0M1405.2 441.7h0" fill="none" stroke="#72B2E9" stroke-width="1.8" stroke-linecap="round"/>
<path d="M1280.5 443h0M1281.5 445.7h0M1277.4 449.8h0M1278.8 452.1h0M1275.8 449.1h0M1282.8 445.3h0M1279.9 447.7h0" fill="none" stroke="#72B2E9" stroke-width="2" stroke-linecap="round"/>
<path d="M1305 489.9h0" fill="none" stroke="#6EBE46" stroke-width="3.2" stroke-linecap="round"/>
<path d="M1329.6 448.4h0M1326.9 450.1h0M1320.2 455.2h0M1313.5 461.9h0M1308.8 468.7h0M1305.5 474.1h0M1337.6 443.3h0M1345.6 438.7h0M1367 448.4h0M1375.1 454.5h0M1308.4 468h0M1305.2 474.8h0M1301.5 486.9h0M1308 468h0M1305.3 473.4h0M1303.9 478.8h0M1328 449.8h0M1324 451.1h0" fill="none" stroke="#72B2E9" stroke-width="1.6" stroke-linecap="round"/>
<path d="M1337.7 306.5h0" fill="none" stroke="#B07CF2" stroke-width="4.8" stroke-linecap="round"/>
<path d="M1344.2 299.5h0" fill="none" stroke="#B07CF2" stroke-width="3.2" stroke-linecap="round"/>
</g>
<g id="umap-right">
<path d="M1722.5 153.6C1722.6 151 1723.2 148.3 1724.4 145.8C1725.7 143.3 1727.7 141 1730.3 138.7C1732.9 136.3 1736.6 133.6 1740 131.8C1743.5 129.9 1747.3 128.8 1751 127.6C1754.8 126.4 1758.6 125.1 1762.7 124.5C1766.8 124 1771.4 124.1 1775.7 124.3C1780 124.4 1784.3 125.5 1788.7 125.6C1793 125.6 1797.3 124.4 1801.6 124.5C1806 124.6 1810.3 125.6 1814.6 126.3C1818.9 127 1823.3 127.8 1827.6 128.7C1831.9 129.5 1836.7 130.1 1840.6 131.3C1844.5 132.4 1847.7 133.6 1851 135.4C1854.2 137.2 1857.7 139.7 1860 141.9C1862.4 144.1 1864 146.2 1865 148.4C1865.9 150.5 1866.2 152.7 1865.9 154.9C1865.5 157 1864.5 159.6 1862.9 161.4C1861.3 163.1 1858.8 164.2 1856.4 165.5C1854 166.9 1851.3 167.9 1848.6 169.4C1846 170.9 1843.1 172.7 1840.6 174.6C1838 176.5 1835.6 178.8 1833.4 180.8C1831.3 182.8 1829.4 184.5 1827.9 186.7C1826.3 188.8 1825.1 191.5 1824.4 193.8C1823.6 196.1 1824.3 198.7 1823.2 200.3C1822 201.8 1819.3 202 1817.5 203.1C1815.6 204.3 1814 205.5 1812 207C1810 208.5 1807.7 210.8 1805.5 212.2C1803.4 213.7 1801.2 214.9 1799.1 215.9C1796.9 216.8 1794.5 217.5 1792.6 217.9C1790.7 218.4 1789.1 219 1787.6 218.5C1786.2 217.9 1784.8 216.3 1783.7 214.6C1782.7 212.8 1782 210.2 1781.1 208.1C1780.3 205.9 1779.5 203.5 1778.6 201.6C1777.6 199.7 1776.8 197.3 1775.7 196.7C1774.6 196 1773.5 197.1 1771.8 198C1770.1 198.8 1767.7 200.3 1765.3 201.8C1762.9 203.4 1759.9 205.3 1757.5 207C1755.2 208.8 1753.2 210.4 1751 212.2C1748.9 214 1746.2 216.5 1744.8 217.8C1743.4 219.1 1743.3 220.5 1742.6 220C1741.9 219.5 1740.8 217 1740.7 214.8C1740.6 212.6 1742 209.6 1742 206.8C1742 203.9 1741.5 200.7 1740.7 197.7C1739.8 194.7 1738.3 191.6 1737 188.6C1735.7 185.6 1734.4 182.6 1732.9 179.5C1731.4 176.5 1729.4 173.5 1728 170.4C1726.5 167.4 1725 164.2 1724.1 161.4C1723.2 158.6 1722.4 156.2 1722.5 153.6Z" fill="#563CF0" stroke="#563CF0" stroke-width="0.5" stroke-linejoin="round"/>
<path d="M1786.7 218.7L1782.2 227.5L1777 236.6L1771.8 245.7L1766.6 253.7L1760.4 261.5L1755.6 265.8" fill="none" stroke="#563CF0" stroke-width="3" stroke-linecap="round" stroke-linejoin="round"/>
<path d="M1739.4 271.9C1740 270 1744.5 266.8 1747.2 265.4C1749.8 264 1753.4 263 1755.2 263.6C1757 264.2 1758.2 266.8 1757.8 268.8C1757.4 270.8 1753.8 273.1 1752.6 275.5C1751.4 278 1751.3 282.2 1750.5 283.3C1749.7 284.5 1749.1 283.3 1747.9 282.3C1746.7 281.3 1744.7 278.8 1743.3 277.1C1741.8 275.4 1738.7 273.9 1739.4 271.9Z" fill="#8F80EA" stroke="#8F80EA" stroke-width="0.5" stroke-linejoin="round"/>
<path d="M1759.5 207.4h0M1775.1 212h0M1762.7 218.5h0M1767.9 258.7h0M1771.2 263.9h0M1746.5 264.5h0M1761.4 270.4h0M1769.2 200.3h0M1776.3 204.8h0M1754.9 210.7h0" fill="none" stroke="#563CF0" stroke-width="1.8" stroke-linecap="round"/>
<path d="M1684.2 261.5L1677.1 268.5L1670.6 274.2L1664.8 278.8" fill="none" stroke="#5C42F0" stroke-width="2.4" stroke-linecap="round" stroke-linejoin="round"/>
<path d="M1665.7 278.4C1666.2 278.8 1664.6 278.7 1664.8 280C1664.9 281.3 1666 284.3 1666.7 286.5C1667.5 288.6 1668.2 290.8 1669.3 293C1670.4 295.1 1671.7 297.3 1673.2 299.5C1674.7 301.6 1676.7 304.1 1678.4 305.9C1680.1 307.8 1682.1 310 1683.6 310.5C1685.1 311 1686.4 309 1687.5 309.2C1688.6 309.3 1690.1 310.6 1690.1 311.4C1690.1 312.2 1689 312.7 1687.5 314C1686 315.3 1683.1 317 1681 319.2C1678.8 321.3 1676.7 324.6 1674.5 327C1672.3 329.3 1670.2 331.3 1668 333.5C1665.8 335.6 1663.5 338.3 1661.5 339.9C1659.6 341.5 1657.8 342.9 1656.3 343.1C1654.8 343.2 1653.7 342.4 1652.4 341C1651.1 339.6 1649.9 337.3 1648.5 334.5C1647.2 331.7 1645.2 327.6 1644.1 324.1C1643.1 320.7 1642.4 317.2 1642.1 313.7C1641.7 310.3 1641.9 305.1 1642.1 303.4C1642.2 301.6 1642.4 304.7 1642.8 303.4C1643.3 302.2 1643.7 298.2 1644.7 295.7C1645.6 293.1 1646.8 290.2 1648.5 287.9C1650.3 285.5 1652.9 283.1 1655 281.4C1657.2 279.7 1659.7 278.1 1661.5 277.6C1663.3 277.1 1665.1 278 1665.7 278.4Z" fill="#563CF0" stroke="#563CF0" stroke-width="0.5" stroke-linejoin="round"/>
<path d="M1874.3 220.5C1874.7 219.7 1876.3 218.6 1877.6 219.7C1878.9 220.9 1880.7 224.7 1882.1 227.5C1883.5 230.3 1884.7 233.6 1886 236.6C1887.3 239.6 1889.3 243.5 1889.9 245.7C1890.4 247.9 1890 249 1889.4 249.6C1888.7 250.2 1887.2 250.4 1886 249.1C1884.8 247.8 1883.4 244.5 1882.1 241.8C1880.8 239.1 1879.4 235.5 1878.2 232.7C1877 229.9 1875.6 227 1875 224.9C1874.3 222.9 1873.9 221.4 1874.3 220.5Z" fill="#563CF0" stroke="#563CF0" stroke-width="0.5" stroke-linejoin="round"/>
<path d="M1871.7 235.3h0M1876.3 237.9h0" fill="none" stroke="#563CF0" stroke-width="1.8" stroke-linecap="round"/>
<path d="M1922.5 191.2C1924.6 190.8 1929.9 191 1931.6 192.5C1933.3 194 1933.1 197.9 1932.9 200.3C1932.7 202.7 1931.4 204.4 1930.5 206.8C1929.7 209.2 1928.8 212 1928 214.6C1927.1 217.2 1926.1 220.5 1925.4 222.3C1924.6 224.2 1923.8 226.2 1923.3 225.7C1922.7 225.3 1922.1 222 1922 219.7C1921.9 217.5 1923.1 213.7 1922.5 212.2C1921.9 210.8 1920.1 211.4 1918.6 210.9C1917.1 210.5 1914.6 210.4 1913.4 209.6C1912.3 208.9 1911.2 207.8 1911.6 206.3C1912 204.7 1914.8 202.1 1916 200.3C1917.2 198.4 1917.8 196.6 1918.9 195.1C1920 193.6 1920.4 191.6 1922.5 191.2Z" fill="#5A3EF0" stroke="#5A3EF0" stroke-width="0.5" stroke-linejoin="round"/>
<path d="M1919.9 189.4h0M1933.5 200.9h0" fill="none" stroke="#563CF0" stroke-width="1.8" stroke-linecap="round"/>
<path d="M2010.7 255L2005.5 260.2L2001.6 269.1L1993.9 276.8L1986.1 284.6L1978.3 292.4L1970.5 300.2L1962.7 306.7L1954.9 309.8" fill="none" stroke="#7F6CF0" stroke-width="2.6" stroke-linecap="round" stroke-linejoin="round"/>
<path d="M2001.6 168.6C2003.6 168.7 2006 169.5 2008.1 170.4C2010.3 171.4 2012.7 172.8 2014.6 174.3C2016.6 175.9 2018.1 177.6 2019.8 179.5C2021.5 181.5 2023.7 183.9 2025 186C2026.3 188.2 2027 189.9 2027.9 192.5C2028.8 195.1 2029.4 198.1 2030.5 201.6C2031.5 205 2033 209.2 2034.1 213.3C2035.1 217.4 2035.9 221.9 2036.7 226.2C2037.5 230.6 2038.2 234.9 2038.8 239.2C2039.3 243.5 2039.7 247.9 2040.1 252.2C2040.4 256.5 2040.8 261.1 2040.8 265.2C2040.8 269.3 2040.5 273.4 2040.1 276.8C2039.6 280.3 2038.9 283.4 2038 285.9C2037 288.4 2035.6 291 2034.3 291.9C2033 292.8 2031.5 292.4 2030.2 291.4C2028.9 290.4 2027.8 288.3 2026.3 285.9C2024.8 283.5 2022.8 280.1 2021.1 276.8C2019.4 273.6 2017.7 269.5 2016.2 266.5C2014.7 263.4 2013.4 260.6 2012.3 258.7C2011.2 256.7 2010.3 256.1 2009.4 254.8C2008.5 253.5 2008.1 252.8 2006.8 250.9C2005.5 248.9 2003.6 246.1 2001.6 243.1C1999.7 240.1 1997.3 236.2 1995.2 232.7C1993 229.3 1990.6 225.8 1988.7 222.3C1986.8 218.9 1984.9 215.4 1983.7 212C1982.6 208.5 1981.9 205 1981.7 201.6C1981.4 198.1 1981.5 194.7 1982.2 191.2C1982.9 187.7 1984.6 183.6 1986.1 180.8C1987.6 178 1989.5 176.2 1991.3 174.3C1993 172.5 1994.7 170.9 1996.5 169.9C1998.2 169 1999.7 168.5 2001.6 168.6Z" fill="#5A40F0" stroke="#5A40F0" stroke-width="0.5" stroke-linejoin="round"/>
<path d="M2026.3 189.9C2027.2 189.6 2030.4 192.2 2032.8 192.5C2035.2 192.8 2038.9 191.6 2040.6 191.9C2042.2 192.1 2043.1 193 2042.7 193.8C2042.2 194.6 2040.1 196.1 2038 196.4C2035.9 196.7 2031.9 196.1 2030.2 195.7C2028.5 195.4 2028.2 195 2027.6 194.1C2027 193.1 2025.4 190.2 2026.3 189.9Z" fill="#8F80EE" stroke="#8F80EE" stroke-width="0.5" stroke-linejoin="round"/>
<path d="M1771.1 310C1771 309 1772.1 307.1 1773.3 305.6C1774.6 304.1 1777.1 302.1 1778.5 301.1C1780 300.2 1780.6 299.7 1782.2 299.7C1783.8 299.7 1786.3 300.6 1788.2 301.1C1790 301.6 1791.6 302.3 1793.4 302.6C1795.1 303 1796.7 303.4 1798.6 303.4C1800.4 303.4 1802.8 303.1 1804.5 302.6C1806.2 302.1 1807.6 301.3 1808.9 300.4C1810.3 299.5 1811.5 298.7 1812.6 297.4C1813.8 296.2 1814.7 294.3 1815.6 293C1816.5 291.6 1817.2 289 1817.8 289.3C1818.4 289.5 1819.3 292.7 1819.3 294.5C1819.3 296.2 1818.6 298.3 1817.8 299.7C1817.1 301 1816.1 301.9 1814.9 302.6C1813.6 303.4 1812.1 303.6 1810.4 304.1C1808.7 304.6 1806.5 305.1 1804.5 305.6C1802.5 306.1 1800.5 306.9 1798.6 307.1C1796.6 307.2 1794.6 306.6 1792.6 306.3C1790.6 306.1 1788.4 305.6 1786.7 305.6C1785 305.6 1783.7 305.7 1782.2 306.3C1780.8 306.9 1779.2 308.4 1777.8 309.3C1776.4 310.2 1775.2 311.4 1774.1 311.5C1773 311.6 1771.2 311 1771.1 310Z" fill="#563CF0" stroke="#563CF0" stroke-width="0.5" stroke-linejoin="round"/>
<path d="M1818.6 302.6C1819.4 302.5 1821.6 303.4 1821.9 304.8C1822.2 306.3 1821 309.4 1820.4 311.5C1819.8 313.6 1819.1 315.5 1818.2 317.5C1817.3 319.4 1816.2 321.7 1815.2 323.4C1814.2 325.1 1813.3 326.3 1812.3 327.8C1811.3 329.3 1810.3 330.8 1809.3 332.3C1808.3 333.8 1807.3 335.2 1806.3 336.7C1805.4 338.2 1804.4 339.4 1803.4 341.2C1802.4 342.9 1801.4 345.1 1800.4 347.1C1799.4 349.1 1798.4 351.1 1797.4 353C1796.5 355 1795.3 357 1794.5 359C1793.6 360.9 1793 362.9 1792.3 364.9C1791.5 366.9 1790.6 368.9 1790 370.8C1789.4 372.8 1789 374.8 1788.5 376.8C1788.1 378.7 1788.1 380.7 1787.6 382.7C1787.1 384.7 1786.2 387 1785.6 388.6C1784.9 390.2 1784.5 391.8 1783.7 392.3C1783 392.8 1781.9 392.2 1781.1 391.6C1780.3 391 1779.3 389.6 1778.9 388.6C1778.5 387.6 1778.5 387.1 1778.5 385.7C1778.6 384.2 1778.8 381.7 1779.3 379.7C1779.8 377.8 1780.8 375.8 1781.5 373.8C1782.2 371.8 1783 369.8 1783.7 367.9C1784.5 365.9 1785.2 363.9 1785.9 361.9C1786.7 360 1787.4 358 1788.2 356C1788.9 354 1789.7 352.1 1790.4 350.1C1791.1 348.1 1791.8 346.1 1792.6 344.1C1793.5 342.2 1794.5 340.1 1795.6 338.2C1796.7 336.4 1797.9 334.6 1799.3 333C1800.7 331.4 1802.3 330.2 1803.7 328.6C1805.2 327 1806.8 325.2 1808.2 323.4C1809.6 321.5 1810.8 319.4 1811.9 317.5C1813 315.5 1814.1 313.5 1814.9 311.5C1815.7 309.5 1816.1 307.1 1816.7 305.6C1817.3 304.1 1817.7 302.7 1818.6 302.6Z" fill="#5A40F0" stroke="#5A40F0" stroke-width="0.5" stroke-linejoin="round"/>
<path d="M1815.6 293C1815.4 290.3 1816.5 288.7 1817.1 287.1C1817.7 285.4 1818.1 284.3 1819.3 283.3C1820.5 282.4 1822.5 282 1824.5 281.5C1826.5 281 1829.1 280.3 1831.2 280.4C1833.3 280.5 1835.6 281.4 1837.1 282.2C1838.6 283.1 1839 284.3 1840.1 285.6C1841.2 286.9 1842.5 288.5 1843.8 290C1845 291.5 1846.1 292.9 1847.5 294.5C1848.8 296.1 1850.5 298.2 1851.9 299.7C1853.4 301.1 1854.7 302.1 1856.4 303.4C1858.1 304.6 1860.3 306 1862.3 307.1C1864.3 308.2 1866.3 309.2 1868.2 310C1870.2 310.9 1872.4 311.7 1874.2 312.3C1875.9 312.8 1876.9 313.5 1878.6 313.4C1880.4 313.2 1882.6 311.6 1884.6 311.5C1886.5 311.5 1888.5 312.6 1890.5 313C1892.5 313.4 1894.4 313.9 1896.4 313.7C1898.4 313.6 1900.5 312.8 1902.4 312.3C1904.2 311.7 1905.8 311 1907.5 310.4C1909.3 309.8 1911.4 307.9 1912.7 308.6C1914.1 309.2 1916.2 312.4 1915.7 314.5C1915.2 316.6 1912 319.3 1909.8 321.2C1907.5 323 1904.8 324.9 1902.4 325.6C1899.9 326.3 1897.4 325.5 1894.9 325.2C1892.5 324.9 1890 324.2 1887.5 323.8C1885.1 323.3 1882.3 323.1 1880.1 322.3C1877.9 321.5 1876.2 319.8 1874.2 318.9C1872.2 318.1 1870.2 317.8 1868.2 317.1C1866.3 316.3 1864.3 315.3 1862.3 314.3C1860.3 313.4 1858.4 312.5 1856.4 311.4C1854.4 310.3 1852.4 309 1850.5 307.7C1848.5 306.3 1846.5 304.7 1844.5 303.4C1842.5 302.1 1840.6 300.6 1838.6 299.8C1836.6 299 1834.1 298.3 1832.7 298.3C1831.2 298.3 1830.7 298.9 1829.7 299.7C1828.7 300.4 1828 301.9 1826.7 302.6C1825.5 303.4 1823.6 304 1822.3 304.1C1820.9 304.2 1819.7 305.2 1818.6 303.4C1817.5 301.5 1815.9 295.7 1815.6 293Z" fill="#6E5AF0" stroke="#6E5AF0" stroke-width="0.5" stroke-linejoin="round"/>
<path d="M1831.9 303h0M1838.2 313.7h0M1821.9 322.6h0M1816.7 326.7h0M1785.6 311.9h0M1793 310.6h0M1797.1 310h0M1801.5 308.6h0M1812.6 337.5h0M1808.9 339.7h0M1809.7 341.9h0M1804.5 350.1h0M1801.5 351.6h0M1800 354.5h0M1798.6 360.5h0M1795.6 363.4h0M1797.1 366.4h0M1792.6 370.8h0M1791.1 367.1h0M1789.7 378.2h0M1811.2 334.5h0M1846 304.8h0M1851.2 310h0M1855.6 314.5h0M1859.4 315.2h0M1863.8 318.9h0M1865.3 314.5h0M1869.7 318.2h0M1838.6 303.7h0M1820.8 329.3h0M1823 329.7h0" fill="none" stroke="#563CF0" stroke-width="1.6" stroke-linecap="round"/>
<path d="M1816 342.3L1826.7 342.3" fill="none" stroke="#563CF0" stroke-width="2.6" stroke-linecap="round" stroke-linejoin="round"/>
<path d="M1820.4 329.7L1826.7 336.7L1830.4 342.7L1834.9 346.4" fill="none" stroke="#563CF0" stroke-width="2.6" stroke-linecap="round" stroke-linejoin="round"/>
<path d="M1834.1 335.6L1830.4 341.2" fill="none" stroke="#563CF0" stroke-width="2.6" stroke-linecap="round" stroke-linejoin="round"/>
<path d="M1831.2 347.1L1837.8 347.1" fill="none" stroke="#563CF0" stroke-width="2.6" stroke-linecap="round" stroke-linejoin="round"/>
<path d="M1831.2 350.1L1837.8 351.6" fill="none" stroke="#563CF0" stroke-width="2.6" stroke-linecap="round" stroke-linejoin="round"/>
<path d="M1859 350.8h0" fill="none" stroke="#563CF0" stroke-width="3.4" stroke-linecap="round"/>
<path d="M1730.3 323.6C1731.7 323.5 1732.7 324 1734.2 324.9C1735.7 325.8 1737.6 327.5 1739.4 328.8C1741.1 330.1 1742.8 331.5 1744.6 332.7C1746.3 333.8 1747.8 334.8 1749.7 335.8C1751.7 336.7 1754.3 337.8 1756.2 338.4C1758.2 338.9 1760.6 338.7 1761.4 339C1762.3 339.4 1762.5 340.2 1761.4 340.5C1760.3 340.7 1757.1 340.4 1754.9 340.5C1752.8 340.5 1750.6 340.5 1748.5 341C1746.3 341.4 1743.9 342.3 1742 343.1C1740 343.8 1738.5 345.1 1736.8 345.7C1735 346.2 1733.3 346.4 1731.6 346.2C1729.9 346 1727.9 345.4 1726.4 344.4C1724.9 343.3 1723.4 341.3 1722.5 339.7C1721.6 338 1721.2 336.2 1721.2 334.5C1721.2 332.8 1721.7 330.8 1722.5 329.3C1723.3 327.8 1724.6 326.4 1725.9 325.4C1727.2 324.5 1728.9 323.7 1730.3 323.6Z" fill="#563CF0" stroke="#563CF0" stroke-width="0.5" stroke-linejoin="round"/>
<path d="M1725.1 347h0M1723.3 350.8h0M1722 354.7h0" fill="none" stroke="#563CF0" stroke-width="2" stroke-linecap="round"/>
<path d="M1663.9 409.2C1664.1 408.7 1664.7 407.9 1665.7 408.5C1666.6 409 1668.3 410.9 1669.6 412.3C1670.9 413.8 1672.6 415.8 1673.5 417C1674.3 418.2 1674.7 419.2 1674.5 419.6C1674.3 420 1673.2 420.3 1672.2 419.6C1671.1 419 1669.6 417 1668.3 415.7C1667 414.4 1665.1 412.9 1664.4 411.8C1663.6 410.7 1663.6 409.8 1663.9 409.2Z" fill="#563CF0" stroke="#563CF0" stroke-width="0.5" stroke-linejoin="round"/>
<path d="M1677.1 422.2h0M1679.2 423.5h0" fill="none" stroke="#7C6AF0" stroke-width="1.8" stroke-linecap="round"/>
<path d="M1682.3 443.6C1682.1 442.9 1685.7 444.2 1687.5 445.4C1689.2 446.6 1690.9 448.7 1692.7 450.6C1694.4 452.5 1696.1 454.7 1697.8 456.6C1699.6 458.4 1701.3 460.4 1703 461.8C1704.8 463.1 1706.9 465 1708.2 464.9C1709.5 464.7 1710.6 462.5 1710.8 461C1711 459.5 1710.3 457.5 1709.5 456.1C1708.7 454.6 1706.8 453.5 1705.9 452.2C1704.9 450.8 1703.8 448.7 1703.8 447.7C1703.8 446.8 1704.7 446.4 1705.9 446.7C1707.1 447 1709.1 448.2 1710.8 449.6C1712.5 450.9 1714.7 453.3 1716 454.8C1717.3 456.2 1717.7 458.4 1718.6 458.4C1719.5 458.3 1719.9 455.7 1721.2 454.5C1722.5 453.3 1724.7 452.1 1726.4 451.4C1728.1 450.6 1729.9 450.4 1731.6 450.1C1733.3 449.7 1736.3 448.8 1736.8 449.3C1737.3 449.8 1735.5 451.5 1734.4 453.2C1733.4 454.9 1731.6 457.1 1730.5 459.7C1729.5 462.3 1728.7 465.7 1728 468.8C1727.2 471.8 1726.5 474.6 1725.9 477.8C1725.2 481.1 1724.4 484.8 1724.1 488.2C1723.8 491.7 1724 495.4 1724.1 498.6C1724.1 501.9 1724.8 505.2 1724.6 507.7C1724.4 510.2 1723.7 512.3 1722.8 513.4C1721.8 514.5 1720.6 514.6 1718.9 514.2C1717.1 513.8 1714.3 512.5 1712.4 511.1C1710.4 509.6 1708.5 507.4 1707.2 505.4C1705.9 503.3 1705.1 502.3 1704.6 498.6C1704.1 494.9 1704.6 487.4 1704.3 483C1704.1 478.7 1703.7 475.7 1703 472.7C1702.4 469.6 1701.7 467.5 1700.4 464.9C1699.1 462.3 1697.2 459.7 1695.3 457.1C1693.3 454.5 1690.9 451.6 1688.8 449.3C1686.6 447.1 1682.5 444.2 1682.3 443.6Z" fill="#A99AE6" stroke="#A99AE6" stroke-width="0.5" stroke-linejoin="round"/>
<path d="M1675.5 444.1h0" fill="none" stroke="#A99AE6" stroke-width="3.2" stroke-linecap="round"/>
<path d="M1895.6 337.2h0M1898.7 329.4h0M1897.7 330.1h0M1901.3 340.9h0M1892.9 356.7h0M1894.2 343.8h0M1889.5 330.4h0M1895.5 361.4h0M1888.3 357.9h0M1889.7 328.6h0M1894.2 339.7h0M1888.2 329.4h0M1896.8 328.4h0M1891 359.9h0M1887.2 363.8h0M1889.9 342.7h0M1890.6 354.2h0M1899.1 347.5h0M1890.2 347.5h0M1897.9 333.2h0M1891.1 343.7h0M1901.1 329.4h0M1890.7 352.4h0M1893.9 335.9h0M1898.7 332.6h0M1895.4 330.3h0M1890.6 330.1h0M1894.3 354.1h0M1890.2 359.4h0M1886 360.5h0M1887.4 364.5h0M1891.8 357.1h0M1895.1 333.9h0M1892.7 349.8h0M1897.6 329.1h0M1895.8 335.4h0M1889.8 348.6h0M1893.2 337.7h0M1893.1 354.9h0M1891.7 360.6h0M1893.4 353.1h0M1886.1 355.7h0M1898.5 332.3h0M1891 335.5h0M1898.3 339.1h0M1896.4 336.5h0M1891 338.7h0M1889.6 347.3h0M1898.3 339.2h0M1889.8 329.2h0M1896.1 343.6h0M1889 340h0M1892.8 334.3h0M1896.1 335h0M1890.8 341.1h0M1897.7 333.8h0M1890.8 333.3h0M1900 339.3h0M1893.8 345.6h0M1896.9 338.1h0M1897.6 359.6h0M1898.4 343.6h0M1896.4 349.9h0M1895.7 335.9h0M1895.9 338.1h0M1885.1 360.1h0M1892.4 340.8h0M1893 357.5h0M1885.5 361.1h0M1890.2 359.3h0M1888 365h0M1892.8 351.4h0M1895.4 343.2h0M1888.8 330.9h0M1889.5 350.3h0M1891.2 365h0M1895.5 362.7h0M1894.3 353h0M1894.9 328.7h0M1899.1 349.9h0" fill="none" stroke="#563CF0" stroke-width="1.7" stroke-linecap="round"/>
<path d="M1903 322.8C1903.5 320.9 1904.3 319.4 1905.6 317.6C1906.9 315.9 1909.1 314 1910.8 312.4C1912.6 310.8 1914.1 309.2 1916 308C1918 306.9 1920.1 305.9 1922.5 305.4C1924.9 305 1927.7 305.2 1930.3 305.3C1932.9 305.4 1935.7 305.4 1938.1 305.9C1940.5 306.5 1942.6 307.7 1944.6 308.5C1946.5 309.4 1948.1 310.6 1949.7 311.1C1951.4 311.7 1953.5 310.6 1954.3 311.9C1955 313.2 1954.4 316.2 1954.3 318.9C1954.2 321.6 1953.5 324.8 1953.6 328C1953.8 331.3 1954.6 334.9 1954.9 338.4C1955.3 341.8 1955.3 345.3 1955.6 348.8C1955.9 352.2 1956.2 355.9 1956.9 359.1C1957.5 362.4 1958.5 365.4 1959.5 368.2C1960.5 371 1962 373.6 1962.7 376C1963.4 378.4 1963.9 380.3 1963.8 382.5C1963.7 384.7 1963.1 386.8 1962.1 389C1961 391.2 1959.4 393.6 1957.5 395.5C1955.7 397.3 1953.4 398.8 1951 400C1948.7 401.2 1945.9 401.5 1943.3 402.6C1940.7 403.7 1937.4 405.1 1935.5 406.5C1933.5 407.9 1932.7 409 1931.6 411C1930.5 413.1 1929.6 416 1929 418.8C1928.4 421.6 1928.1 424.9 1928 427.9C1927.8 430.9 1928 434 1928 437C1927.9 440 1927.8 443.5 1927.7 446.1C1927.6 448.7 1928.5 451.2 1927.4 452.6C1926.4 454 1922.9 454.3 1921.2 454.5C1919.5 454.7 1918.6 453.9 1917.3 453.9C1916 453.9 1914.5 454.5 1913.4 454.5C1912.3 454.5 1911.6 454.6 1910.8 453.9C1910.1 453.1 1909.5 451.4 1908.9 450C1908.2 448.6 1907.8 447.1 1906.9 445.4C1906.1 443.8 1904.9 441.8 1903.7 440.2C1902.5 438.7 1901 437.3 1899.8 436.3C1898.6 435.4 1898 434.2 1896.6 434.4C1895.1 434.6 1893.3 436.5 1891.4 437.6C1889.4 438.8 1887.3 440.1 1884.9 441.5C1882.5 442.9 1879.7 444.5 1877.1 446.1C1874.5 447.7 1871.8 449.4 1869.3 451.3C1866.8 453.1 1864.2 454.9 1862.2 457.1C1860.1 459.3 1858.6 462.5 1857 464.2C1855.4 466 1853.8 465.4 1852.4 467.5C1851.1 469.5 1849.8 473.7 1848.8 476.6C1847.8 479.4 1847.4 481.5 1846.6 484.3C1845.8 487.1 1844.9 490.6 1844 493.4C1843.1 496.2 1842.3 498.6 1841.4 501.2C1840.5 503.8 1839.7 506.9 1838.8 509C1837.9 511 1837.4 513.1 1836.2 513.5C1835 514 1833.5 512.6 1831.7 511.8C1829.8 511.1 1824.4 509.1 1825.2 509.2C1826 509.4 1835.4 512.4 1836.7 512.9C1837.9 513.3 1834.5 512.4 1832.8 511.8C1831.1 511.2 1828.2 510.5 1826.3 509.2C1824.4 508 1822.6 506 1821.1 504.1C1819.6 502.1 1818.4 499.8 1817.5 497.6C1816.5 495.4 1815.8 493.2 1815.5 490.8C1815.3 488.4 1815.7 485.5 1815.9 483C1816.1 480.6 1816.2 478.1 1816.8 475.9C1817.5 473.7 1818.5 472.1 1819.8 470.1C1821.2 468 1823.3 465.7 1825 463.6C1826.7 461.4 1828.5 459.3 1830.2 457.1C1831.9 454.9 1833.9 453 1835.4 450.6C1836.9 448.2 1838.2 445.4 1839.3 442.8C1840.4 440.2 1841 437.8 1841.9 435C1842.7 432.2 1843.6 429 1844.5 425.9C1845.3 422.9 1846.2 419.9 1847.1 416.9C1847.9 413.8 1849.4 408.5 1849.7 407.8C1849.9 407 1848.1 413.1 1848.4 412.3C1848.6 411.6 1849.9 406.3 1851 403.3C1852 400.2 1853.3 397 1854.8 394.2C1856.4 391.4 1858.1 388.8 1860 386.4C1862 384 1864.1 381.9 1866.5 379.9C1868.9 378 1871.7 376.2 1874.3 374.7C1876.9 373.2 1879.5 372.1 1882.1 370.8C1884.7 369.5 1887.3 368.2 1889.9 366.9C1892.5 365.6 1895.7 364.6 1897.8 363C1900 361.5 1902 360.4 1903 357.8C1904.1 355.3 1904.2 350.9 1904.3 347.5C1904.4 344 1903.9 340.1 1903.7 337.1C1903.5 334.1 1903.1 331.7 1903 329.3C1902.9 326.9 1902.6 324.8 1903 322.8Z" fill="#563CF0" stroke="#563CF0" stroke-width="0.5" stroke-linejoin="round"/>
<path d="M1954.9 396.8C1956.6 396.8 1958.1 397.3 1959.5 398.7C1960.9 400.1 1962.2 402.9 1963.4 405.2C1964.6 407.5 1965.6 409.6 1966.6 412.3C1967.6 415 1968.6 418.4 1969.2 421.4C1969.9 424.5 1970.5 427.8 1970.5 430.5C1970.5 433.2 1970.2 435.6 1969.2 437.6C1968.2 439.7 1966.4 441.5 1964.7 442.8C1962.9 444.1 1960.7 444.8 1958.8 445.4C1957 446.1 1954.7 446.9 1953.6 446.7C1952.6 446.5 1952.1 445.4 1952.3 444.1C1952.6 442.8 1954.3 441 1954.9 438.9C1955.6 436.9 1956.1 434.5 1956.2 431.8C1956.3 429.1 1956 425.8 1955.6 422.7C1955.2 419.7 1954.5 416.5 1953.6 413.6C1952.8 410.8 1951.6 407.9 1950.4 405.9C1949.2 403.8 1946.6 402.5 1946.5 401.3C1946.4 400.1 1948.3 399.5 1949.7 398.7C1951.2 398 1953.3 396.8 1954.9 396.8Z" fill="#563CF0" stroke="#563CF0" stroke-width="0.5" stroke-linejoin="round"/>
<path d="M1923.8 454.5C1924.3 454.3 1927.2 455.8 1928.3 457.1C1929.5 458.4 1930 460.7 1930.9 462.3C1931.9 463.9 1933.1 465.4 1934.2 466.8C1935.3 468.2 1936.9 468.9 1937.4 470.7C1937.9 472.6 1937 475.6 1937.2 477.8C1937.3 480.1 1937.7 482.2 1938.3 484.3C1939 486.5 1939.9 488.8 1940.9 490.8C1942 492.9 1943.6 495.2 1944.6 496.7C1945.5 498.1 1946.5 498.8 1946.5 499.6C1946.5 500.4 1945.2 501.6 1944.3 501.5C1943.4 501.3 1942.1 500.2 1940.9 498.6C1939.8 497.1 1938.5 494.5 1937.4 492.1C1936.3 489.7 1935.3 486.9 1934.4 484.3C1933.6 481.7 1932.9 478.9 1932.4 476.6C1931.8 474.2 1931.8 472.1 1931.1 470.1C1930.3 468 1928.9 466.2 1928 464.2C1927 462.3 1926 460 1925.4 458.4C1924.7 456.8 1923.3 454.7 1923.8 454.5Z" fill="#563CF0" stroke="#563CF0" stroke-width="0.5" stroke-linejoin="round"/>
<path d="M1940.7 427.9h0M1944.6 425.3h0M1948.5 423.4h0M1951 426.6h0M1942 431.8h0M1946.5 430.5h0M1949.7 433.1h0M1939.4 435.7h0M1943.9 437h0M1948.5 438.9h0M1934.2 437.6h0M1930.3 437h0M1936.8 441.5h0M1942 442.2h0M1945.9 444.8h0M1943.3 448.7h0M1952.3 435.7h0M1949.7 429.2h0M1945.9 406.5h0M1949.1 411h0M1951 403.3h0M1931.6 442.2h0M1947.8 442.2h0" fill="none" stroke="#563CF0" stroke-width="1.8" stroke-linecap="round"/>
<path d="M1827 443.5h0M1827.9 446.1h0M1824 450h0M1825.3 452.2h0M1822.4 449.3h0M1829.2 445.7h0M1826.3 448h0" fill="none" stroke="#563CF0" stroke-width="2" stroke-linecap="round"/>
<path d="M1850.7 488.5h0" fill="none" stroke="#563CF0" stroke-width="3.2" stroke-linecap="round"/>
<path d="M1874.5 448.7h0M1871.9 450.2h0M1865.4 455.2h0M1858.9 461.6h0M1854.4 468.1h0M1851.1 473.3h0M1882.3 443.7h0M1890.1 439.3h0M1910.8 448.7h0M1918.6 454.5h0M1854 467.5h0M1850.9 474h0M1847.2 485.6h0M1853.5 467.5h0M1851 472.7h0M1849.7 477.8h0M1873 450h0M1869.1 451.3h0" fill="none" stroke="#563CF0" stroke-width="1.6" stroke-linecap="round"/>
<path d="M1882.3 312.4h0" fill="none" stroke="#4328E8" stroke-width="4.8" stroke-linecap="round"/>
<path d="M1888.6 305.7h0" fill="none" stroke="#4328E8" stroke-width="3.2" stroke-linecap="round"/>
<clipPath id="clipR"><path d="M1722.5 153.6C1722.6 151 1723.2 148.3 1724.4 145.8C1725.7 143.3 1727.7 141 1730.3 138.7C1732.9 136.3 1736.6 133.6 1740 131.8C1743.5 129.9 1747.3 128.8 1751 127.6C1754.8 126.4 1758.6 125.1 1762.7 124.5C1766.8 124 1771.4 124.1 1775.7 124.3C1780 124.4 1784.3 125.5 1788.7 125.6C1793 125.6 1797.3 124.4 1801.6 124.5C1806 124.6 1810.3 125.6 1814.6 126.3C1818.9 127 1823.3 127.8 1827.6 128.7C1831.9 129.5 1836.7 130.1 1840.6 131.3C1844.5 132.4 1847.7 133.6 1851 135.4C1854.2 137.2 1857.7 139.7 1860 141.9C1862.4 144.1 1864 146.2 1865 148.4C1865.9 150.5 1866.2 152.7 1865.9 154.9C1865.5 157 1864.5 159.6 1862.9 161.4C1861.3 163.1 1858.8 164.2 1856.4 165.5C1854 166.9 1851.3 167.9 1848.6 169.4C1846 170.9 1843.1 172.7 1840.6 174.6C1838 176.5 1835.6 178.8 1833.4 180.8C1831.3 182.8 1829.4 184.5 1827.9 186.7C1826.3 188.8 1825.1 191.5 1824.4 193.8C1823.6 196.1 1824.3 198.7 1823.2 200.3C1822 201.8 1819.3 202 1817.5 203.1C1815.6 204.3 1814 205.5 1812 207C1810 208.5 1807.7 210.8 1805.5 212.2C1803.4 213.7 1801.2 214.9 1799.1 215.9C1796.9 216.8 1794.5 217.5 1792.6 217.9C1790.7 218.4 1789.1 219 1787.6 218.5C1786.2 217.9 1784.8 216.3 1783.7 214.6C1782.7 212.8 1782 210.2 1781.1 208.1C1780.3 205.9 1779.5 203.5 1778.6 201.6C1777.6 199.7 1776.8 197.3 1775.7 196.7C1774.6 196 1773.5 197.1 1771.8 198C1770.1 198.8 1767.7 200.3 1765.3 201.8C1762.9 203.4 1759.9 205.3 1757.5 207C1755.2 208.8 1753.2 210.4 1751 212.2C1748.9 214 1746.2 216.5 1744.8 217.8C1743.4 219.1 1743.3 220.5 1742.6 220C1741.9 219.5 1740.8 217 1740.7 214.8C1740.6 212.6 1742 209.6 1742 206.8C1742 203.9 1741.5 200.7 1740.7 197.7C1739.8 194.7 1738.3 191.6 1737 188.6C1735.7 185.6 1734.4 182.6 1732.9 179.5C1731.4 176.5 1729.4 173.5 1728 170.4C1726.5 167.4 1725 164.2 1724.1 161.4C1723.2 158.6 1722.4 156.2 1722.5 153.6Z"/><path d="M1665.7 278.4C1666.2 278.8 1664.6 278.7 1664.8 280C1664.9 281.3 1666 284.3 1666.7 286.5C1667.5 288.6 1668.2 290.8 1669.3 293C1670.4 295.1 1671.7 297.3 1673.2 299.5C1674.7 301.6 1676.7 304.1 1678.4 305.9C1680.1 307.8 1682.1 310 1683.6 310.5C1685.1 311 1686.4 309 1687.5 309.2C1688.6 309.3 1690.1 310.6 1690.1 311.4C1690.1 312.2 1689 312.7 1687.5 314C1686 315.3 1683.1 317 1681 319.2C1678.8 321.3 1676.7 324.6 1674.5 327C1672.3 329.3 1670.2 331.3 1668 333.5C1665.8 335.6 1663.5 338.3 1661.5 339.9C1659.6 341.5 1657.8 342.9 1656.3 343.1C1654.8 343.2 1653.7 342.4 1652.4 341C1651.1 339.6 1649.9 337.3 1648.5 334.5C1647.2 331.7 1645.2 327.6 1644.1 324.1C1643.1 320.7 1642.4 317.2 1642.1 313.7C1641.7 310.3 1641.9 305.1 1642.1 303.4C1642.2 301.6 1642.4 304.7 1642.8 303.4C1643.3 302.2 1643.7 298.2 1644.7 295.7C1645.6 293.1 1646.8 290.2 1648.5 287.9C1650.3 285.5 1652.9 283.1 1655 281.4C1657.2 279.7 1659.7 278.1 1661.5 277.6C1663.3 277.1 1665.1 278 1665.7 278.4Z"/><path d="M2001.6 168.6C2003.6 168.7 2006 169.5 2008.1 170.4C2010.3 171.4 2012.7 172.8 2014.6 174.3C2016.6 175.9 2018.1 177.6 2019.8 179.5C2021.5 181.5 2023.7 183.9 2025 186C2026.3 188.2 2027 189.9 2027.9 192.5C2028.8 195.1 2029.4 198.1 2030.5 201.6C2031.5 205 2033 209.2 2034.1 213.3C2035.1 217.4 2035.9 221.9 2036.7 226.2C2037.5 230.6 2038.2 234.9 2038.8 239.2C2039.3 243.5 2039.7 247.9 2040.1 252.2C2040.4 256.5 2040.8 261.1 2040.8 265.2C2040.8 269.3 2040.5 273.4 2040.1 276.8C2039.6 280.3 2038.9 283.4 2038 285.9C2037 288.4 2035.6 291 2034.3 291.9C2033 292.8 2031.5 292.4 2030.2 291.4C2028.9 290.4 2027.8 288.3 2026.3 285.9C2024.8 283.5 2022.8 280.1 2021.1 276.8C2019.4 273.6 2017.7 269.5 2016.2 266.5C2014.7 263.4 2013.4 260.6 2012.3 258.7C2011.2 256.7 2010.3 256.1 2009.4 254.8C2008.5 253.5 2008.1 252.8 2006.8 250.9C2005.5 248.9 2003.6 246.1 2001.6 243.1C1999.7 240.1 1997.3 236.2 1995.2 232.7C1993 229.3 1990.6 225.8 1988.7 222.3C1986.8 218.9 1984.9 215.4 1983.7 212C1982.6 208.5 1981.9 205 1981.7 201.6C1981.4 198.1 1981.5 194.7 1982.2 191.2C1982.9 187.7 1984.6 183.6 1986.1 180.8C1987.6 178 1989.5 176.2 1991.3 174.3C1993 172.5 1994.7 170.9 1996.5 169.9C1998.2 169 1999.7 168.5 2001.6 168.6Z"/><path d="M1903 322.8C1903.5 320.9 1904.3 319.4 1905.6 317.6C1906.9 315.9 1909.1 314 1910.8 312.4C1912.6 310.8 1914.1 309.2 1916 308C1918 306.9 1920.1 305.9 1922.5 305.4C1924.9 305 1927.7 305.2 1930.3 305.3C1932.9 305.4 1935.7 305.4 1938.1 305.9C1940.5 306.5 1942.6 307.7 1944.6 308.5C1946.5 309.4 1948.1 310.6 1949.7 311.1C1951.4 311.7 1953.5 310.6 1954.3 311.9C1955 313.2 1954.4 316.2 1954.3 318.9C1954.2 321.6 1953.5 324.8 1953.6 328C1953.8 331.3 1954.6 334.9 1954.9 338.4C1955.3 341.8 1955.3 345.3 1955.6 348.8C1955.9 352.2 1956.2 355.9 1956.9 359.1C1957.5 362.4 1958.5 365.4 1959.5 368.2C1960.5 371 1962 373.6 1962.7 376C1963.4 378.4 1963.9 380.3 1963.8 382.5C1963.7 384.7 1963.1 386.8 1962.1 389C1961 391.2 1959.4 393.6 1957.5 395.5C1955.7 397.3 1953.4 398.8 1951 400C1948.7 401.2 1945.9 401.5 1943.3 402.6C1940.7 403.7 1937.4 405.1 1935.5 406.5C1933.5 407.9 1932.7 409 1931.6 411C1930.5 413.1 1929.6 416 1929 418.8C1928.4 421.6 1928.1 424.9 1928 427.9C1927.8 430.9 1928 434 1928 437C1927.9 440 1927.8 443.5 1927.7 446.1C1927.6 448.7 1928.5 451.2 1927.4 452.6C1926.4 454 1922.9 454.3 1921.2 454.5C1919.5 454.7 1918.6 453.9 1917.3 453.9C1916 453.9 1914.5 454.5 1913.4 454.5C1912.3 454.5 1911.6 454.6 1910.8 453.9C1910.1 453.1 1909.5 451.4 1908.9 450C1908.2 448.6 1907.8 447.1 1906.9 445.4C1906.1 443.8 1904.9 441.8 1903.7 440.2C1902.5 438.7 1901 437.3 1899.8 436.3C1898.6 435.4 1898 434.2 1896.6 434.4C1895.1 434.6 1893.3 436.5 1891.4 437.6C1889.4 438.8 1887.3 440.1 1884.9 441.5C1882.5 442.9 1879.7 444.5 1877.1 446.1C1874.5 447.7 1871.8 449.4 1869.3 451.3C1866.8 453.1 1864.2 454.9 1862.2 457.1C1860.1 459.3 1858.6 462.5 1857 464.2C1855.4 466 1853.8 465.4 1852.4 467.5C1851.1 469.5 1849.8 473.7 1848.8 476.6C1847.8 479.4 1847.4 481.5 1846.6 484.3C1845.8 487.1 1844.9 490.6 1844 493.4C1843.1 496.2 1842.3 498.6 1841.4 501.2C1840.5 503.8 1839.7 506.9 1838.8 509C1837.9 511 1837.4 513.1 1836.2 513.5C1835 514 1833.5 512.6 1831.7 511.8C1829.8 511.1 1824.4 509.1 1825.2 509.2C1826 509.4 1835.4 512.4 1836.7 512.9C1837.9 513.3 1834.5 512.4 1832.8 511.8C1831.1 511.2 1828.2 510.5 1826.3 509.2C1824.4 508 1822.6 506 1821.1 504.1C1819.6 502.1 1818.4 499.8 1817.5 497.6C1816.5 495.4 1815.8 493.2 1815.5 490.8C1815.3 488.4 1815.7 485.5 1815.9 483C1816.1 480.6 1816.2 478.1 1816.8 475.9C1817.5 473.7 1818.5 472.1 1819.8 470.1C1821.2 468 1823.3 465.7 1825 463.6C1826.7 461.4 1828.5 459.3 1830.2 457.1C1831.9 454.9 1833.9 453 1835.4 450.6C1836.9 448.2 1838.2 445.4 1839.3 442.8C1840.4 440.2 1841 437.8 1841.9 435C1842.7 432.2 1843.6 429 1844.5 425.9C1845.3 422.9 1846.2 419.9 1847.1 416.9C1847.9 413.8 1849.4 408.5 1849.7 407.8C1849.9 407 1848.1 413.1 1848.4 412.3C1848.6 411.6 1849.9 406.3 1851 403.3C1852 400.2 1853.3 397 1854.8 394.2C1856.4 391.4 1858.1 388.8 1860 386.4C1862 384 1864.1 381.9 1866.5 379.9C1868.9 378 1871.7 376.2 1874.3 374.7C1876.9 373.2 1879.5 372.1 1882.1 370.8C1884.7 369.5 1887.3 368.2 1889.9 366.9C1892.5 365.6 1895.7 364.6 1897.8 363C1900 361.5 1902 360.4 1903 357.8C1904.1 355.3 1904.2 350.9 1904.3 347.5C1904.4 344 1903.9 340.1 1903.7 337.1C1903.5 334.1 1903.1 331.7 1903 329.3C1902.9 326.9 1902.6 324.8 1903 322.8Z"/><path d="M1954.9 396.8C1956.6 396.8 1958.1 397.3 1959.5 398.7C1960.9 400.1 1962.2 402.9 1963.4 405.2C1964.6 407.5 1965.6 409.6 1966.6 412.3C1967.6 415 1968.6 418.4 1969.2 421.4C1969.9 424.5 1970.5 427.8 1970.5 430.5C1970.5 433.2 1970.2 435.6 1969.2 437.6C1968.2 439.7 1966.4 441.5 1964.7 442.8C1962.9 444.1 1960.7 444.8 1958.8 445.4C1957 446.1 1954.7 446.9 1953.6 446.7C1952.6 446.5 1952.1 445.4 1952.3 444.1C1952.6 442.8 1954.3 441 1954.9 438.9C1955.6 436.9 1956.1 434.5 1956.2 431.8C1956.3 429.1 1956 425.8 1955.6 422.7C1955.2 419.7 1954.5 416.5 1953.6 413.6C1952.8 410.8 1951.6 407.9 1950.4 405.9C1949.2 403.8 1946.6 402.5 1946.5 401.3C1946.4 400.1 1948.3 399.5 1949.7 398.7C1951.2 398 1953.3 396.8 1954.9 396.8Z"/></clipPath>
<g clip-path="url(#clipR)"><rect x="1630" y="100" width="420" height="430" fill="url(#spkBlue)"/>
<path d="M1910.8 318.9C1913 315.2 1919.5 313.3 1923.8 312.4C1928.1 311.6 1932.9 312.7 1936.8 313.7C1940.7 314.8 1945 315.9 1947.2 318.9C1949.3 322 1950.2 328 1949.7 331.9C1949.3 335.8 1947.6 340.1 1944.6 342.3C1941.5 344.4 1935.9 344.9 1931.6 344.9C1927.3 344.9 1922.1 344 1918.6 342.3C1915.1 340.5 1912.1 338.4 1910.8 334.5C1909.5 330.6 1908.7 322.6 1910.8 318.9Z" fill="#8C7CF2" opacity="0.6" filter="url(#blur3)"/>
</g>
<path d="M1816 151.7l0.8 0.3M1823.7 156.5l0.9 -1.1M1805.6 158l0.6 -0.7M1819.7 166.6l0.8 -0.8M1827 169.3l1.3 0.2M1839.7 149.4l0.8 0.8M1809.5 151l1.7 -0.7M1810.8 161.2l1.2 0.4M1824.1 149.8l0.6 -0.8M1829 157.8l1.4 -0.6M1820.7 155l1.4 1M1813.1 161.1l1.9 0.1M1830.7 154.7l0.5 0.8M1819.4 165.1l1.1 -0.9M1805.7 163.1l1.3 0.8M1836.1 155.3l1.4 0.6M1825.3 158.5l1.5 1.3M1821.5 163l1 -1.3M1827.8 170.3l0.9 0.7M1818.3 163.1l0.7 -1.2M1810.3 151l1.1 -1.4M1808.9 153.8l1.9 -0.4M1807.2 158.3l1.9 0.2M1834 167.4l1.2 -0.6M1817.3 167.9l0.6 0.8M1810.6 153.5l1.2 -0.7M1825.6 154.2l0.7 -1.1M1817.7 160.9l1 1.4M1823 162l0.8 0.3M1836.9 165.6l1.3 1.3M1818.5 157.2l1.1 -1.2M1806.5 149.9l0.8 -0.6M1816.6 149.5l0.5 -0.8M1807.9 156.4l1 -1.6M1820.6 173.9l1.1 -0.6M1816 173.3l1.5 1.4M1817.9 181.7l0.6 -0.7M1815.7 176.6l0.8 0.6M1809.9 192.7l1 0.1M1819.3 171.1l2 0.1M1825.1 186.7l1.1 -0.6M1812.5 188.5l1.8 0.1M1815.4 175.7l1.6 1.2M1824.9 189.3l1.4 1.1M1813.6 182.5l0.8 -0.2M1809.9 177l1.5 -0.8M1826.8 180.9l1.3 1.6M1826.8 179l0.9 -0.6M1813 175.2l1.9 0.5M1824.7 181.6l1.7 0.6M1735.5 182.4l1.2 1.4M1745.9 177.7l1.4 -1.1M1739.4 186l0.7 1.1M1740.4 189.8l0.9 0.5M1736.2 169.2l1.2 1.4M1736.5 186.7l0.9 1.4M1739.6 179.5l0.6 -0.6M1749.3 182.1l2 0.1M1765.8 192.1l0.8 0.7M1763.4 184.6l1.3 -0.8M1763.5 186.3l1.4 -1.4M1764.7 186.8l1.9 0.3" stroke="#fff" stroke-width="1.1" stroke-linecap="round" fill="none" opacity="0.9"/>
</g>
<g id="axes-b">
<path d="M1069.5 90.8V535.6H1522" fill="none" stroke="#000" stroke-width="2"/>
<path d="M1063.5 131.6H1069.5M1063.5 215.5H1069.5M1063.5 299.3H1069.5M1063.5 383.1H1069.5M1063.5 467H1069.5M1143.8 535.6V541.6M1222.4 535.6V541.6M1301 535.6V541.6M1379.6 535.6V541.6M1458.2 535.6V541.6" fill="none" stroke="#000" stroke-width="1.8"/>
<g class="t22" text-anchor="end">
<text x="1059.5" y="139.4">10</text>
<text x="1059.5" y="223.3">5</text>
<text x="1059.5" y="307.1">0</text>
<text x="1059.5" y="390.9">−5</text>
<text x="1059.5" y="474.8">−10</text>
</g><g class="t22" text-anchor="middle">
<text x="1140.3" y="562">−10</text>
<text x="1218.9" y="562">−5</text>
<text x="1301" y="562">0</text>
<text x="1379.6" y="562">5</text>
<text x="1458.2" y="562">10</text>
</g>
<text class="t22" x="1287.5" y="587.2" text-anchor="middle">UMAP 1</text>
<text class="t22" transform="translate(1034.5 300.5) rotate(-90)" text-anchor="middle">UMAP 2</text>
<text class="t22" x="1140.5" y="71.5">Query transferred labels</text>
<path d="M1613.3 91V535.2H2066.5" fill="none" stroke="#000" stroke-width="2"/>
<path d="M1607.3 144.5H1613.3M1607.3 225H1613.3M1607.3 305.5H1613.3M1607.3 386H1613.3M1607.3 466.5H1613.3M1618.2 535.2V541.2M1694.4 535.2V541.2M1770.6 535.2V541.2M1846.8 535.2V541.2M1923 535.2V541.2M1999.2 535.2V541.2" fill="none" stroke="#000" stroke-width="1.8"/>
<g class="t22" text-anchor="end">
<text x="1603.5" y="152.3">10</text>
<text x="1603.5" y="232.8">5</text>
<text x="1603.5" y="313.3">0</text>
<text x="1603.5" y="393.8">−5</text>
<text x="1603.5" y="474.3">−10</text>
</g><g class="t22" text-anchor="middle">
<text x="1614.7" y="561.5">−15</text>
<text x="1690.9" y="561.5">−10</text>
<text x="1767.1" y="561.5">−5</text>
<text x="1846.8" y="561.5">0</text>
<text x="1923" y="561.5">5</text>
<text x="1999.2" y="561.5">10</text>
</g>
<text class="t22" x="1833" y="587" text-anchor="middle">UMAP 1</text>
<text class="t22" transform="translate(1575.5 306) rotate(-90)" text-anchor="middle">UMAP 2</text>
<text class="t22" x="2076.3" y="226.4">mapping</text><text class="t22" x="2076.3" y="250.4">score</text>
<rect x="2088.5" y="252.4" width="26.4" height="123" fill="url(#gradM)"/>
<path d="M2088.5 283.3h5.3M2114.9 283.3h-5.3M2088.5 314.6h5.3M2114.9 314.6h-5.3M2088.5 345.8h5.3M2114.9 345.8h-5.3" stroke="#E6DDF8" stroke-width="1" fill="none"/>
<g class="t22">
<text x="2118.6" y="266.4">1.00</text>
<text x="2118.6" y="297.8">0.75</text>
<text x="2118.6" y="329">0.50</text>
<text x="2118.6" y="360.2">0.25</text>
</g></g>
<g class="t22" id="labels-b">
<text x="1181.6" y="129.7">mASPC1</text>
<text x="1273.7" y="127.9">mASPC2</text>
<text x="1153.9" y="180.9">mASPC4</text>
<text x="1245.7" y="173.3">mASPC5</text>
<text x="1245.7" y="218.7">mASPC6</text>
<text x="1345.1" y="212.8">mBcell</text>
<text x="1419.6" y="199.3">mAd2</text>
<text x="1469.6" y="237.4">mAd1</text>
<text x="1218" y="241.3">mPeri</text>
<text x="1298.4" y="252.5">mLEC1</text>
<text x="1129.7" y="259.5">mSMC</text>
<text x="1290.6" y="276.3">mEndoV</text>
<text x="1190.7" y="287.5">mEndoA2</text>
<text x="1301" y="297.1">mAd3</text>
<text x="1073.9" y="304.9">mMes1</text>
<text x="1458.5" y="305.7">mAd4</text>
<text x="1370.3" y="310.1">mMes3</text>
<text x="1162.7" y="314">mEndoA1</text>
<text x="1282.8" y="323.9">mASPC3</text>
<text x="1100.4" y="333.7">mTcell1</text>
<text x="1197.2" y="333.7">mTcell2</text>
<text x="1343.8" y="347.5">mMac4</text>
<text x="1073.9" y="354">mMes2</text>
<text x="1151.3" y="355">mNK</text>
<text x="1197.2" y="357.6">mEndoS1</text>
<text x="1403.5" y="358.4">mNeu</text>
<text x="1273.7" y="370.6">mMast</text>
<text x="1347.7" y="379.1">mMac1</text>
<text x="1131.5" y="382.5">mTcell3</text>
<text x="1286.7" y="394.7">mMac3</text>
<text x="1182.1" y="398.6">mEndoS2</text>
<text x="1375.5" y="403.8">mDC3</text>
<text x="1305.4" y="426.4">mMono1</text>
<text x="1097.3" y="432.3">male_epithelial_2</text>
<text x="1379.6" y="445.3">mMono2</text>
<text x="1256.4" y="457.5">mMac2</text>
<text x="1318.4" y="473.3">mMac5</text>
<text x="1097.3" y="480.3">male_epithelial_1</text>
<text x="1379.6" y="485.5">mcDC2</text>
<text x="1359.9" y="521.1">mcDC1</text>
</g>
<path d="M1167.4 319.6L1180.8 328.9M1272.7 318.2L1283.1 329.7M1194 345L1200.3 355.8" stroke="#000" stroke-width="1.5" fill="none"/>
<g id="panel-d">
<g transform="translate(840 950) scale(0.5)" fill="none" stroke="none">
<path d="M527 166L552 181 531 154 500 160 506 144 542 191 487 227 495 159 508 196 529 181 512 172 480 163 496 165 489 159 474 154 484 181 504 278 478 192 530 182 516 177 483 183 532 196 518 224 536 258 511 67 516 205 521 185 509 150 535 266 528 245 525 187 492 209 514 130 509 127 523 93 468 204 511 142 514 196 494 185 463 161 464 184 487 124 485 233 509 152 519 157 528 246 497 99 496 182 499 184 503 188 495 175 535 148 482 273 520 190 525 197 511 218 491 88 463 176 476 243 470 170 517 228 491 252 479 165 508 121 498 196 468 105 509 162 503 178 490 120 505 151 509 222 503 146 514 137 543 97 456 153 474 207 528 107 518 195 467 222 502 197 493 198 498 119 547 205 469 204 514 209 524 196 474 205 482 182 486 181 484 220 487 139 494 107 477 90 489 85 482 108 472 142 489 120 495 101 501 112 492 116 480 100 492 110 490 150 482 140 477 105 480 131 482 150 473 103 487 102 486 120 514 130 499 111 496 115 473 126 499 130 479 145 490 108 469 115 490 88 478 139 290 660 276 648 276 637 274 647 289 624 288 631 284 631 300 638 291 620 309 612 295 612 291 620 317 602 325 607 307 600 319 591 334 590 340 592 339 588 324 592 344 579 364 575 363 582 353 581 366 586 357 601 374 574 386 573 386 579 407 587 410 585 393 582 411 575 424 581 435 566 428 573 436 590 457 561 469 548 460 556 462 553 469 551 449 569 469 590 493 537 495 562 497 543 493 537 508 534 512 549 512 531 519 560 516 558 529 518 534 526 529 512 535 523 564 524 547 502 551 508 570 496 553 498 552 498 566 491 582 504 534 259 552 253 494 272 497 264 474 279 442 285 441 286 385 313 348 324 368 317 360 312 320 338 305 350 283 343 268 363 277 366 260 390 253 396 259 383 209 468 176 537 165 562 114 610 109 610 83 635 87 636 296 208 113 578 570 559 716 656 228 746 496 84 472 100 478 240 452 216" marker-start="url(#mN)" marker-mid="url(#mN)" marker-end="url(#mN)"/>
<path d="M81 645L77 649 74 657 72 656 67 661 61 664 60 668 56 671 52 674 52 677 44 683 43 685 40 687 37 692 36 695 34 703 33 705 32 711 31 715 33 717 30 726 28 731 29 737 29 741 28 749 26 752 27 756 26 763 29 767 27 766 31 774 35 779 40 782 45 781 47 783 55 786 58 792 56 793 60 799 64 805 65 808 69 811 73 813 76 813 83 820 87 822 95 823 95 823 103 826 105 825 109 827 114 830 122 832 124 833 133 834 133 833 139 833 140 835 147 836 151 840 155 837 160 834 161 830 164 826 166 817 166 814 171 811 173 809 175 804 180 798 180 796 177 787 179 785 185 776 186 777 185 772 188 766 191 762 196 758 196 756 200 748 201 747 206 739 208 733 208 732 209 726 209 728 213 717 214 713 216 708 218 704 219 697 221 695 223 688 222 684 219 678 217 674 216 673 213 669 210 664 202 663 200 661 194 653 188 651 184 648 182 650 175 644 170 640 168 642 163 639 157 636 152 633 148 632 145 629 140 629 135 624 129 622 126 623 117 626 113 627 108 629 105 633 101 634 100 638 95 642 89 641 85 647" marker-start="url(#mP)" marker-mid="url(#mP)" marker-end="url(#mP)"/>
<path d="M561 255L554 255 547 260 545 260 539 260 532 263 530 264 528 265 522 265 517 269 515 270 507 272 507 274 497 276 495 279 489 279 485 282 483 283 480 281 476 286 467 286 464 286 461 284 459 286 452 290 447 292 444 293 440 295 432 293 429 297 423 300 419 300 416 302 413 305 409 303 405 305 397 310 392 311 393 316 385 316 380 320 381 320 376 322 372 321 362 326 358 326 356 328 351 330 345 333 344 335 336 336 334 337 331 342 325 343 326 341 319 346 312 346 313 351 306 354 301 357 296 360 292 365 289 366 288 368 282 372 275 378 275 379 273 382 271 385 265 389 266 392 260 396 258 400 256 403 252 407 250 414 246 418 243 421 239 427 240 429 235 435 235 437 232 441 229 444 230 449 228 453 223 459 222 463 223 468 218 473 218 476 218 483 214 487 216 492 214 493 208 500 207 502 201 512 198 512 196 516 191 520 191 523 192 529 188 536 189 542 186 545 185 547 182 549 178 557 174 560 172 564 170 567 166 565 163 569 162 572 159 576 152 578 150 585 147 584 143 590 139 596 137 597 133 600 128 603 126 605 119 609 118 614 114 615 110 619 105 622 101 625 100 628 100 632 93 637 94 635 91 639 85 647 81 647 77 655 75 657 72 660 72 663 78 665 82 673 84 675 83 679 85 682 89 683 95 692 97 692 102 691 103 698 108 697 115 701 122 701 126 704 128 706 131 705 136 705 145 707 147 706 153 705 155 705 162 705 166 703 168 703 173 700 179 698 185 692 188 692 188 690 194 685 197 684 204 681 208 678 210 675 213 672 219 673 225 671 225 665 229 667 237 663 236 660 242 657 242 659 250 654 257 650 257 649 198 683 203 683 204 676 207 676 215 672 220 672 224 667 228 668 230 667 231 665 236 663 243 658 243 657 249 657 257 650 259 650 257 647 264 643 269 638 270 634 274 632 277 624 280 625 282 618 288 613 291 608 293 606 298 601 300 601 306 598 305 592 310 589 317 589 320 586 320 586 327 585 331 581 333 579 338 579 342 576 348 575 356 575 356 572 360 570 365 570 371 568 372 571 380 571 384 570 391 567 401 567 407 567 406 564 410 567 418 565 424 565 426 562 429 560 434 560 435 560 443 559 445 555 454 553 457 547 460 546 465 545 472 545 474 538 479 539 482 537 489 532 494 533 496 531 502 526 500 526 505 525 511 518 513 517 518 513 524 514 529 508 532 506 534 503 540 500 542 499 549 494 551 489 556 485 558 483" marker-start="url(#mN)" marker-mid="url(#mN)" marker-end="url(#mN)"/>
</g>
<path d="M881.2 1272.8L874.7 1279.3L867.2 1286.8L858.7 1295.3L855.9 1303.7L855.9 1311.2L854.1 1319.6L853.1 1333.7L858.7 1339.3L868.1 1343L870 1351.5L877.5 1356.2L886.8 1361.8L896.2 1364.6L905.6 1366.5L916.8 1370.2L920.6 1365.5L924.3 1357.1L929 1350.5L929 1344.9L933.7 1333.7L938.4 1329L943 1319.6L945.9 1311.2L947.7 1305.6L951.5 1296.2L950.5 1290.6L943 1281.2L933.7 1275.6L924.3 1270.9L914.9 1266.2L905.6 1261.5L898.1 1262.5L892.5 1267.2Z" fill="#DEDEDE"/>
<path d="M1120 1076.9L1106 1082.1L1093 1085.9L1080 1091.1L1067.1 1093.7L1054.1 1098.9L1041.1 1104.1L1028.1 1110.6L1015.2 1115.8L1002.2 1121L989.2 1128.8L976.2 1140.4L967.2 1153.4L959.4 1163.8L954.2 1174.2L950.3 1184.6L947.7 1194.9L941.2 1202.7L936 1211.8L933.4 1220.9L928.2 1228.7L920.4 1236.5L912.7 1244.2L904.9 1250.7L897.1 1257.2L889.3 1265L881.5 1272.8L876 1281L884 1292L896 1300L910 1304L926 1300L938 1292L969.7 1274.1L976.2 1266.3L982.7 1258.5L989.2 1250.7L995.7 1244.2L1008.7 1239.1L1021.6 1235.2L1034.6 1233.9L1047.6 1232.6L1060.6 1228.7L1073.5 1222.2L1086.5 1215.7L1096.9 1209.2L1106 1202.7L1112.5 1197.5L1120 1189.7L1132 1180L1150 1160L1160 1130L1158 1100L1146 1080L1132 1074Z" fill="#DF8078"/>
<g clip-path="url(#clipPvm)"><ellipse cx="905" cy="1283" rx="30" ry="13" transform="rotate(-40 905 1283)" fill="#DF8078" filter="url(#blurD)" opacity="0.9"/></g>
<g clip-path="url(#clipNpv)"><ellipse cx="893" cy="1272" rx="22" ry="9" transform="rotate(-40 893 1272)" fill="#DEDEDE" filter="url(#blurD)" opacity="0.75"/></g>
<rect x="850" y="1260" width="110" height="115" fill="url(#arcS)" clip-path="url(#clipPvm)"/>
<rect x="870" y="1070" width="300" height="240" fill="url(#arcD)" clip-path="url(#clipNpv)"/>
<rect x="870" y="1070" width="300" height="240" fill="url(#holeD)" clip-path="url(#clipNpv)" opacity="0.8"/>
<g transform="translate(840 950) scale(0.5)" fill="none" stroke="none">
<path d="M557 116L544 104 535 103 572 156 573 93 559 122 562 77 544 170 561 70 567 125 556 156 548 154 553 111 562 148 554 102 553 143 543 85 549 121 559 55 543 52 545 137 538 105 537 92 560 157 547 120 540 120 545 104 553 142 580 213 535 13 553 154 552 142 533 44 545 129 551 129 542 178 554 115 570 133 562 189 571 110 544 56 543 203 564 97 566 103 524 108 547 93 564 212 549 157 546 152 532 181 881 385 876 398 873 387 821 414 796 407 788 411 768 417 741 419 717 418 700 418 682 417 685 413 622 432 609 420 567 433 548 429 801 408 842 407 855 402 685 441 711 446 726 437 652 449 651 442 567 57 562 70 552 80 851 66 864 82 874 106" marker-start="url(#mL)" marker-mid="url(#mL)" marker-end="url(#mL)"/>
<path d="M589 82L589 76 591 78 596 74 595 70 602 66 605 64 608 60 616 54 617 55 622 50 626 50 631 46 634 43 638 45 642 40 648 41 653 36 655 36 662 35 665 34 674 31 676 32 681 31 687 35 689 35 699 35 703 34 706 33 713 37 717 35 725 34 731 33 734 35 738 33 743 33 749 33 755 34 757 36 765 37 770 37 775 34 777 35 782 37 791 38 795 40 803 39 802 39 809 40 815 46 816 45 821 49 826 53 830 51 834 58 838 58 842 60 844 65 845 65 851 71 851 73 856 82 858 81 860 84 862 92 868 98 868 102 867 107 871 110 869 115 869 117 873 127 874 131 873 136 873 137 873 140 872 150 874 151 871 158 871 162 868 168 870 178 868 179 868 184 870 190 872 197 871 196 871 206 874 211 871 212 874 220 877 226 882 228 881 233 886 238 885 239 890 247 894 251 897 254 898 258 899 262 901 263 905 270 907 270 908 275 915 285 916 292 916 291 919 302 922 304 925 310 926 312 927 319 923 324 924 328 923 331 923 335 919 339 916 342 911 345 908 353 906 356 900 362 895 364 893 365 888 372 885 370 881 377 879 377 871 381 868 382 859 388 857 390 849 394 847 393 843 393 836 397 830 397 830 397 823 397 816 398 816 399 807 399 799 401 797 401 794 404 788 405 783 403 777 405 775 407 772 407 768 406 760 409 756 411 758 408 749 408 745 409 742 412 735 411 733 414 725 416 724 413 717 413 715 412 710 413 708 409 701 410 697 411 691 406 687 404 688 404 681 410 672 410 670 412 665 417 660 422 658 423 655 424 649 424 644 423 642 420 637 416 634 414 631 412 629 407 623 405 619 404 618 410 613 414 605 417 605 420 598 421 594 425 587 429 584 430 576 431 574 432 564 427 564 425 563 421 560 418 557 415 552 411 553 408 570 270 570 267 577 262 579 256 579 251 577 251 581 238 579 235 578 233 576 223 574 219 575 212 578 211 578 209 575 204 573 193 574 189 571 181 568 180 568 177 563 170 561 163 559 155 554 155 555 147 554 146 558 140 558 133 559 130 564 126 568 119 568 114 570 111 572 107 577 100 579 98 582 90 583 90" marker-start="url(#mL)" marker-mid="url(#mL)" marker-end="url(#mL)"/>
<path d="M875 410L881 412 882 416 893 416 895 417 897 420 904 420 908 418 913 416 920 421 921 419 925 424 925 431 929 434 934 437 931 440 937 446 938 450 944 457 944 459 950 465 951 469 953 472 959 477 959 480 960 485 962 489 965 492 966 495 969 502 971 509 969 511 972 517 975 522 976 527 975 531 976 532 976 540 974 541 968 548 966 548 964 554 952 558 950 560 946 560 941 559 936 560 932 559 928 559 926 563 915 563 915 564 907 567 906 565 898 569 897 570 888 575 889 574 880 575 876 575 871 581 868 580 873 571 873 572 881 567 881 564 883 561 887 559 886 552 883 550 879 546 876 543 869 541 868 537 870 536 876 527 878 529 881 524 885 517 885 512 885 514 892 505 890 502 892 499 890 494 889 485 892 487 889 480 889 471 891 468 895 460 892 459 896 454 899 452 896 450 897 443 900 435 897 434 889 432 888 427 884 428 878 425 876 420 871 412" marker-start="url(#mV)" marker-mid="url(#mV)" marker-end="url(#mV)"/>
</g>
<path d="M1132.7 992.8L1137.8 985L1145.6 978.5L1156 973.4L1166.4 968.2L1176.8 966.2L1189.7 966.9L1202.7 967.5L1215.7 966.9L1228.7 968.2L1241.6 969.5L1252 974.7L1259.8 979.8L1266.3 986.3L1270.2 992.8L1274.1 1001.9L1275.4 1011L1276.7 1020.1L1275.4 1030.4L1274.1 1040.8L1275.4 1051.2L1278 1060.3L1283.2 1069.4L1288.4 1077.2L1293.5 1084.9L1297.4 1092.7L1300 1100.5L1303.9 1108.3L1301.3 1117.4L1296.1 1122.6L1291 1129.1L1285.8 1134.2L1278 1139.4L1270.2 1143.3L1262.4 1147.2L1254.6 1148.5L1241.6 1149.8L1228.7 1152.4L1215.7 1155L1202.7 1157.6L1189.7 1155L1183.3 1152.4L1176.8 1155L1170.3 1160.2L1163.8 1162.8L1158.6 1157.6L1150.8 1152.4L1144.3 1157.6L1137.8 1162.8L1130.1 1165.4L1122.3 1164.1L1115.8 1152.4L1114.5 1138.1L1117.1 1123.9L1122.3 1110.9L1127.5 1097.9L1124.9 1086.2L1127.5 1079.7L1130.1 1072L1127.5 1064.2L1128.8 1056.4L1127.5 1048.6L1124.9 1040.8L1121 1033L1117.1 1025.3L1118.4 1017.5L1122.3 1009.7L1127.5 1001.9Z" fill="#9DBFE1"/>
<path d="M1276.2 1155.6L1281.8 1157.5L1291.1 1159.3L1297.7 1157.5L1302.4 1164L1308 1172.5L1313.6 1180.9L1319.3 1189.3L1323 1197.8L1324.9 1204.3L1327.7 1213.7L1326.7 1221.2L1319.3 1227.7L1309.9 1230.5L1300.5 1230.5L1294.9 1232.4L1286.5 1236.2L1275.2 1239.9L1273.3 1237.1L1281.8 1232.4L1284.6 1226.8L1277.1 1223L1272.4 1219.3L1278 1213.7L1284.6 1204.3L1285.5 1194.9L1284.6 1185.6L1288.3 1176.2L1290.2 1166.8L1284.6 1165L1279 1161.2Z" fill="#D88CDD"/>
<g clip-path="url(#clipLam)"><path d="M1100 1085L1135 1080L1150 1110L1148 1150L1130 1185L1100 1190Z" fill="#DF8078" filter="url(#blurD)" opacity="0.8"/></g>
<path d="M1105 1100L1122 1095L1122 1180L1104 1185Z" fill="#9DBFE1" filter="url(#blurD)" opacity="0.55"/>
<rect x="1100" y="960" width="210" height="210" fill="url(#arcD)" clip-path="url(#clipLam)"/>
<rect x="1100" y="960" width="210" height="210" fill="url(#holeD)" clip-path="url(#clipLam)"/>
<rect x="1250" y="1150" width="90" height="100" fill="url(#arcD)" clip-path="url(#clipPl)"/>
<g clip-path="url(#clipLam)"><ellipse cx="1190" cy="1001" rx="46" ry="10" fill="#9DBFE1" filter="url(#blurD)" opacity="0.85"/></g>
<g transform="translate(840 950) scale(0.5)" fill="none" stroke="none">
<path d="M508 372L534 305 541 263 537 359 542 373 522 302 515 391 531 337 534 403 539 304 533 275 531 305 542 425 531 339 532 378 515 264 542 323 534 341 534 333 540 329 529 458 567 273 503 272 543 454 532 471 549 379 538 294 523 409 557 352 517 378 538 433 550 296 504 356 520 491 551 342 529 369 530 419 550 353 537 303 552 376 528 415 542 390 554 366 538 456 543 471 547 238 553 374 527 334 549 343 568 408 554 392 569 398 551 372 541 420 553 357 539 260 557 340 551 380 521 322 514 387" marker-start="url(#mL)" marker-mid="url(#mL)" marker-end="url(#mL)"/>
<path d="M545 363L573 399 592 349 575 426 548 332 600 359 577 369 571 406 556 425 582 375 562 336 573 468 562 392 558 361 566 385 561 329 559 350 573 415 600 373 573 292 587 405 578 306 558 446 565 340 559 311 576 430 592 471 544 342 557 314 610 453 573 416 562 342 599 304 561 330 596 437 574 405 581 353 568 351 607 431 572 393 570 265 572 326 570 349 595 406 560 410 590 402 612 428 574 384 590 295 575 414 546 277 600 327 578 331 525 258 565 363 625 344 593 324 571 363 593 323 597 373 578 339 583 308 583 397 579 301 555 374 584 367 556 356 556 385 601 354 582 283 606 434 616 347 628 339 630 319 617 305 589 292 651 269 594 337 584 329 578 344 600 413 583 440 585 421 601 277 604 306 617 325 586 263 615 273 590 325 584 283 609 255 607 263 602 371 608 258 564 279 610 340 606 320 576 374 600 272 581 284" marker-start="url(#mN)" marker-mid="url(#mN)" marker-end="url(#mN)"/>
<path d="M139 666L116 649 68 669 132 651 116 641 121 642 98 649 133 666 117 649 114 651 95 676 134 644 123 672 97 660 94 637 162 629 113 654 123 678 91 672 118 620 134 632 128 640 163 611 97 658 85 655 127 669 93 665 114 639 115 670 114 675 119 655 144 631 98 642 154 638 70 671 103 647 128 637 98 686 49 679 109 667" marker-start="url(#mP)" marker-mid="url(#mP)" marker-end="url(#mP)"/>
<path d="M140 664L130 681 101 684 122 668 139 702 128 661 153 682 114 690 136 697 155 692 126 709 120 683 150 663 129 664 142 690 140 667 128 688 142 682 131 684 175 660 100 649 106 676 108 700 128 661 102 699 124 700 112 677 147 679 131 689 106 682 138 672 137 692 127 669 144 651 132 674 155 694 128 695 179 643 145 635 142 651" marker-start="url(#mN)" marker-mid="url(#mN)" marker-end="url(#mN)"/>
<path d="M828 561L839 562 824 572 825 549 824 572 824 573 828 551 822 556 827 570 831 568 823 555 830 564 824 549 840 553 821 563 824 558 845 550 827 558 842 550 821 559 831 549 835 549 838 555 820 575 832 555 840 552 833 563 857 553 829 551 835 554 823 566 824 562 830 561 846 557 828 499 829 494 827 500 838 508 838 499 831 504 832 499 835 502 831 509 828 508 830 508 833 496 683 544 727 543 752 546 762 563 776 556 788 536 803 523 816 519 794 552 801 555 823 424 840 443 854 422 865 415 875 398 887 398 893 391 904 400 893 414 865 437 857 490 961 479 865 507 850 525 839 539 852 542 882 486 884 462 885 445 870 426 882 434" marker-start="url(#mV)" marker-mid="url(#mV)" marker-end="url(#mV)"/>
<path d="M715 656L906 402 917 480" marker-start="url(#mN)" marker-mid="url(#mN)" marker-end="url(#mN)"/>
</g>
<g font-weight="bold" class="lbl">
<text x="1171.8" y="1040.3" font-size="25.6">LAMs</text>
<text x="993.3" y="1165.2" font-size="25.8">NPVMs</text>
<text x="868" y="1312.8" font-size="25.6">PVMs</text>
<text transform="translate(1253.2 1217.2) scale(1.13 1)" font-size="18.6" stroke="#000" stroke-width="0.5">P–LAMs</text>
</g>
</g>
<g font-weight="bold" class="pl"><text transform="translate(17.2 25.4) scale(1.15 1)" font-size="29">a</text><text transform="translate(1022.4 24.6) scale(1.05 1)" font-size="29.5">b</text><text transform="translate(9.8 957.2) scale(1.1 1)" font-size="31">c</text><text transform="translate(816.3 957.2) scale(1.06 1)" font-size="31">d</text></g>
</svg>
</body></html>
